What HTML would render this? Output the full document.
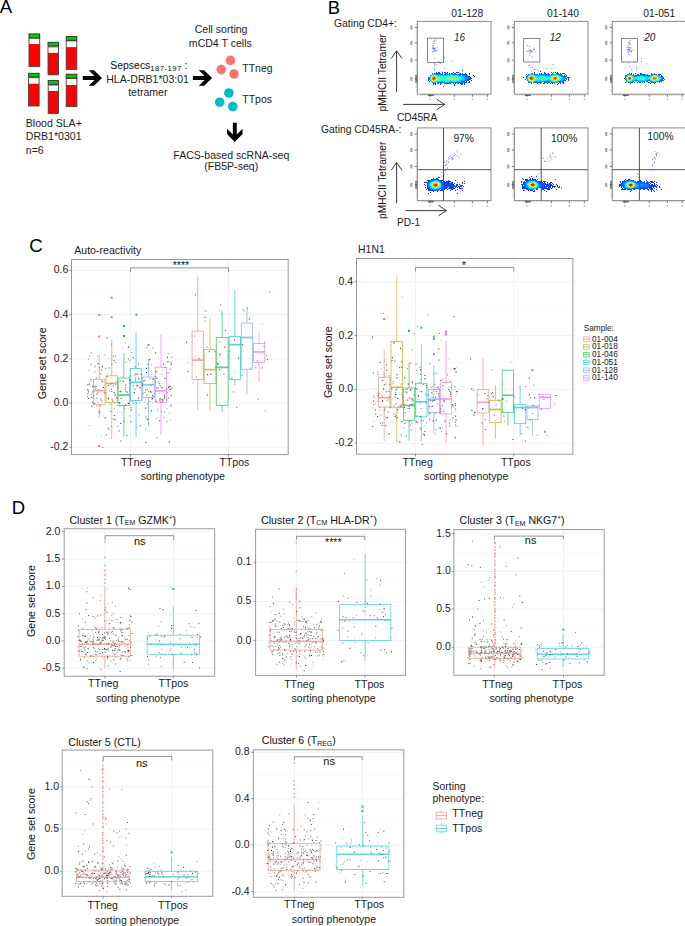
<!DOCTYPE html>
<html><head><meta charset="utf-8"><style>
html,body{margin:0;padding:0;background:#fff;width:685px;height:926px;overflow:hidden}
svg{display:block}
text{font-family:"Liberation Sans",sans-serif}
</style></head><body>
<svg width="685" height="926" viewBox="0 0 685 926" font-family="Liberation Sans, sans-serif">
<rect width="685" height="926" fill="#fff"/>
<text x="-0.30" y="13.00" font-size="18.5" text-anchor="start" fill="#000" >A</text>
<text x="327.80" y="13.90" font-size="18.5" text-anchor="start" fill="#000" >B</text>
<text x="29.30" y="251.80" font-size="18.5" text-anchor="start" fill="#000" >C</text>
<text x="11.80" y="513.60" font-size="18.5" text-anchor="start" fill="#000" >D</text>
<rect x="29.00" y="38.10" width="10.70" height="28.50" fill="#ffffff" stroke="none" stroke-width="1" />
<rect x="29.00" y="44.00" width="10.70" height="22.60" fill="#ff0000" stroke="none" stroke-width="1" />
<rect x="29.00" y="38.10" width="10.70" height="28.50" fill="none" stroke="#404040" stroke-width="0.9" />
<rect x="29.00" y="33.90" width="10.70" height="4.00" fill="#00cc00" stroke="#2a2a2a" stroke-width="0.9" />
<rect x="48.00" y="46.90" width="10.50" height="27.90" fill="#ffffff" stroke="none" stroke-width="1" />
<rect x="48.00" y="52.90" width="10.50" height="21.90" fill="#ff0000" stroke="none" stroke-width="1" />
<rect x="48.00" y="46.90" width="10.50" height="27.90" fill="none" stroke="#404040" stroke-width="0.9" />
<rect x="48.00" y="42.30" width="10.50" height="3.70" fill="#00cc00" stroke="#2a2a2a" stroke-width="0.9" />
<rect x="66.20" y="40.90" width="10.60" height="28.50" fill="#ffffff" stroke="none" stroke-width="1" />
<rect x="66.20" y="47.10" width="10.60" height="22.30" fill="#ff0000" stroke="none" stroke-width="1" />
<rect x="66.20" y="40.90" width="10.60" height="28.50" fill="none" stroke="#404040" stroke-width="0.9" />
<rect x="66.20" y="36.60" width="10.60" height="3.70" fill="#00cc00" stroke="#2a2a2a" stroke-width="0.9" />
<rect x="28.60" y="77.70" width="10.50" height="28.30" fill="#ffffff" stroke="none" stroke-width="1" />
<rect x="28.60" y="83.80" width="10.50" height="22.20" fill="#ff0000" stroke="none" stroke-width="1" />
<rect x="28.60" y="77.70" width="10.50" height="28.30" fill="none" stroke="#404040" stroke-width="0.9" />
<rect x="28.60" y="73.30" width="10.50" height="3.70" fill="#00cc00" stroke="#2a2a2a" stroke-width="0.9" />
<rect x="48.20" y="85.00" width="10.30" height="28.40" fill="#ffffff" stroke="none" stroke-width="1" />
<rect x="48.20" y="91.00" width="10.30" height="22.40" fill="#ff0000" stroke="none" stroke-width="1" />
<rect x="48.20" y="85.00" width="10.30" height="28.40" fill="none" stroke="#404040" stroke-width="0.9" />
<rect x="48.20" y="80.60" width="10.30" height="3.70" fill="#00cc00" stroke="#2a2a2a" stroke-width="0.9" />
<rect x="66.20" y="78.60" width="10.70" height="28.00" fill="#ffffff" stroke="none" stroke-width="1" />
<rect x="66.20" y="85.00" width="10.70" height="21.60" fill="#ff0000" stroke="none" stroke-width="1" />
<rect x="66.20" y="78.60" width="10.70" height="28.00" fill="none" stroke="#404040" stroke-width="0.9" />
<rect x="66.20" y="74.20" width="10.70" height="3.80" fill="#00cc00" stroke="#2a2a2a" stroke-width="0.9" />
<path d="M0.00,-1.95 L11.70,-1.95 L5.90,-7.75 L11.20,-7.75 L19.20,0.00 L11.20,7.75 L5.90,7.75 L11.70,1.95 L0.00,1.95Z" fill="#000" transform="translate(82.8,77.95) rotate(0)"/>
<path d="M0.00,-1.95 L11.70,-1.95 L5.90,-7.75 L11.20,-7.75 L19.20,0.00 L11.20,7.75 L5.90,7.75 L11.70,1.95 L0.00,1.95Z" fill="#000" transform="translate(192.9,77.95) rotate(0)"/>
<path d="M0.00,-1.95 L11.70,-1.95 L5.90,-7.75 L11.20,-7.75 L19.20,0.00 L11.20,7.75 L5.90,7.75 L11.70,1.95 L0.00,1.95Z" fill="#000" transform="translate(234.8,122.8) rotate(90)"/>
<text x="25.80" y="126.90" font-size="10.55" text-anchor="start" fill="#1c1c1c" >Blood SLA+</text>
<text x="25.80" y="140.40" font-size="10.55" text-anchor="start" fill="#1c1c1c" >DRB1*0301</text>
<text x="25.80" y="153.90" font-size="10.55" text-anchor="start" fill="#1c1c1c" >n=6</text>
<text x="110.3" y="68.8" font-size="10.45" fill="#111">Sepsecs<tspan font-size="7.7" dy="2" letter-spacing="0.45">187-197</tspan><tspan dy="-2"> :</tspan></text>
<text x="147.60" y="82.90" font-size="10.55" text-anchor="middle" fill="#1c1c1c" >HLA-DRB1*03:01</text>
<text x="147.80" y="96.20" font-size="10.55" text-anchor="middle" fill="#1c1c1c" >tetramer</text>
<text x="221.10" y="32.90" font-size="10.55" text-anchor="middle" fill="#1c1c1c" >Cell sorting</text>
<text x="220.30" y="47.00" font-size="10.55" text-anchor="middle" fill="#1c1c1c" >mCD4 T cells</text>
<circle cx="230.40" cy="60.40" r="4.80" fill="#F8766D" />
<circle cx="221.20" cy="69.60" r="4.80" fill="#F8766D" />
<circle cx="234.00" cy="74.00" r="4.80" fill="#F8766D" />
<circle cx="228.90" cy="93.00" r="4.80" fill="#00BFC4" />
<circle cx="219.70" cy="102.20" r="4.80" fill="#00BFC4" />
<circle cx="232.80" cy="106.60" r="4.80" fill="#00BFC4" />
<text x="242.30" y="72.10" font-size="10.5" text-anchor="start" fill="#1c1c1c" >TTneg</text>
<text x="242.30" y="102.90" font-size="10.5" text-anchor="start" fill="#1c1c1c" >TTpos</text>
<text x="231.30" y="158.50" font-size="10.55" text-anchor="middle" fill="#1c1c1c" >FACS-based scRNA-seq</text>
<text x="231.20" y="170.20" font-size="10.55" text-anchor="middle" fill="#1c1c1c" >(FB5P-seq)</text>
<line x1="415.80" y1="24.40" x2="417.40" y2="24.40" stroke="#999" stroke-width="0.5" />
<line x1="415.80" y1="26.31" x2="417.40" y2="26.31" stroke="#999" stroke-width="0.5" />
<line x1="415.80" y1="28.22" x2="417.40" y2="28.22" stroke="#999" stroke-width="0.5" />
<line x1="415.80" y1="30.13" x2="417.40" y2="30.13" stroke="#999" stroke-width="0.5" />
<line x1="415.80" y1="32.03" x2="417.40" y2="32.03" stroke="#999" stroke-width="0.5" />
<line x1="415.80" y1="33.94" x2="417.40" y2="33.94" stroke="#999" stroke-width="0.5" />
<line x1="415.80" y1="35.85" x2="417.40" y2="35.85" stroke="#999" stroke-width="0.5" />
<line x1="415.80" y1="37.76" x2="417.40" y2="37.76" stroke="#999" stroke-width="0.5" />
<line x1="415.80" y1="39.67" x2="417.40" y2="39.67" stroke="#999" stroke-width="0.5" />
<line x1="415.80" y1="41.58" x2="417.40" y2="41.58" stroke="#999" stroke-width="0.5" />
<line x1="415.80" y1="43.49" x2="417.40" y2="43.49" stroke="#999" stroke-width="0.5" />
<line x1="415.80" y1="45.39" x2="417.40" y2="45.39" stroke="#999" stroke-width="0.5" />
<line x1="415.80" y1="47.30" x2="417.40" y2="47.30" stroke="#999" stroke-width="0.5" />
<line x1="415.80" y1="49.21" x2="417.40" y2="49.21" stroke="#999" stroke-width="0.5" />
<line x1="415.80" y1="51.12" x2="417.40" y2="51.12" stroke="#999" stroke-width="0.5" />
<line x1="415.80" y1="53.03" x2="417.40" y2="53.03" stroke="#999" stroke-width="0.5" />
<line x1="415.80" y1="54.94" x2="417.40" y2="54.94" stroke="#999" stroke-width="0.5" />
<line x1="415.80" y1="56.85" x2="417.40" y2="56.85" stroke="#999" stroke-width="0.5" />
<line x1="415.80" y1="58.75" x2="417.40" y2="58.75" stroke="#999" stroke-width="0.5" />
<line x1="415.80" y1="60.66" x2="417.40" y2="60.66" stroke="#999" stroke-width="0.5" />
<line x1="415.80" y1="62.57" x2="417.40" y2="62.57" stroke="#999" stroke-width="0.5" />
<line x1="415.80" y1="64.48" x2="417.40" y2="64.48" stroke="#999" stroke-width="0.5" />
<line x1="415.80" y1="66.39" x2="417.40" y2="66.39" stroke="#999" stroke-width="0.5" />
<line x1="415.80" y1="68.30" x2="417.40" y2="68.30" stroke="#999" stroke-width="0.5" />
<line x1="415.80" y1="70.21" x2="417.40" y2="70.21" stroke="#999" stroke-width="0.5" />
<line x1="415.80" y1="72.11" x2="417.40" y2="72.11" stroke="#999" stroke-width="0.5" />
<line x1="415.80" y1="74.02" x2="417.40" y2="74.02" stroke="#999" stroke-width="0.5" />
<line x1="415.80" y1="75.93" x2="417.40" y2="75.93" stroke="#999" stroke-width="0.5" />
<line x1="415.80" y1="77.84" x2="417.40" y2="77.84" stroke="#999" stroke-width="0.5" />
<line x1="415.80" y1="79.75" x2="417.40" y2="79.75" stroke="#999" stroke-width="0.5" />
<line x1="415.80" y1="81.66" x2="417.40" y2="81.66" stroke="#999" stroke-width="0.5" />
<line x1="415.80" y1="83.57" x2="417.40" y2="83.57" stroke="#999" stroke-width="0.5" />
<line x1="415.80" y1="85.47" x2="417.40" y2="85.47" stroke="#999" stroke-width="0.5" />
<line x1="415.80" y1="87.38" x2="417.40" y2="87.38" stroke="#999" stroke-width="0.5" />
<line x1="415.80" y1="89.29" x2="417.40" y2="89.29" stroke="#999" stroke-width="0.5" />
<line x1="415.80" y1="91.20" x2="417.40" y2="91.20" stroke="#999" stroke-width="0.5" />
<line x1="414.60" y1="27.50" x2="417.40" y2="27.50" stroke="#555" stroke-width="0.7" />
<rect x="410.1" y="25.5" width="2.4" height="4" fill="#aaa"/>
<line x1="414.60" y1="42.80" x2="417.40" y2="42.80" stroke="#555" stroke-width="0.7" />
<rect x="410.1" y="40.8" width="2.4" height="4" fill="#aaa"/>
<line x1="414.60" y1="60.20" x2="417.40" y2="60.20" stroke="#555" stroke-width="0.7" />
<rect x="410.1" y="58.2" width="2.4" height="4" fill="#aaa"/>
<line x1="414.60" y1="78.80" x2="417.40" y2="78.80" stroke="#555" stroke-width="0.7" />
<rect x="410.1" y="76.8" width="2.4" height="4" fill="#aaa"/>
<line x1="420.40" y1="94.20" x2="420.40" y2="95.80" stroke="#999" stroke-width="0.5" />
<line x1="422.33" y1="94.20" x2="422.33" y2="95.80" stroke="#999" stroke-width="0.5" />
<line x1="424.26" y1="94.20" x2="424.26" y2="95.80" stroke="#999" stroke-width="0.5" />
<line x1="426.19" y1="94.20" x2="426.19" y2="95.80" stroke="#999" stroke-width="0.5" />
<line x1="428.13" y1="94.20" x2="428.13" y2="95.80" stroke="#999" stroke-width="0.5" />
<line x1="430.06" y1="94.20" x2="430.06" y2="95.80" stroke="#999" stroke-width="0.5" />
<line x1="431.99" y1="94.20" x2="431.99" y2="95.80" stroke="#999" stroke-width="0.5" />
<line x1="433.92" y1="94.20" x2="433.92" y2="95.80" stroke="#999" stroke-width="0.5" />
<line x1="435.85" y1="94.20" x2="435.85" y2="95.80" stroke="#999" stroke-width="0.5" />
<line x1="437.78" y1="94.20" x2="437.78" y2="95.80" stroke="#999" stroke-width="0.5" />
<line x1="439.71" y1="94.20" x2="439.71" y2="95.80" stroke="#999" stroke-width="0.5" />
<line x1="441.65" y1="94.20" x2="441.65" y2="95.80" stroke="#999" stroke-width="0.5" />
<line x1="443.58" y1="94.20" x2="443.58" y2="95.80" stroke="#999" stroke-width="0.5" />
<line x1="445.51" y1="94.20" x2="445.51" y2="95.80" stroke="#999" stroke-width="0.5" />
<line x1="447.44" y1="94.20" x2="447.44" y2="95.80" stroke="#999" stroke-width="0.5" />
<line x1="449.37" y1="94.20" x2="449.37" y2="95.80" stroke="#999" stroke-width="0.5" />
<line x1="451.30" y1="94.20" x2="451.30" y2="95.80" stroke="#999" stroke-width="0.5" />
<line x1="453.23" y1="94.20" x2="453.23" y2="95.80" stroke="#999" stroke-width="0.5" />
<line x1="455.17" y1="94.20" x2="455.17" y2="95.80" stroke="#999" stroke-width="0.5" />
<line x1="457.10" y1="94.20" x2="457.10" y2="95.80" stroke="#999" stroke-width="0.5" />
<line x1="459.03" y1="94.20" x2="459.03" y2="95.80" stroke="#999" stroke-width="0.5" />
<line x1="460.96" y1="94.20" x2="460.96" y2="95.80" stroke="#999" stroke-width="0.5" />
<line x1="462.89" y1="94.20" x2="462.89" y2="95.80" stroke="#999" stroke-width="0.5" />
<line x1="464.82" y1="94.20" x2="464.82" y2="95.80" stroke="#999" stroke-width="0.5" />
<line x1="466.75" y1="94.20" x2="466.75" y2="95.80" stroke="#999" stroke-width="0.5" />
<line x1="468.69" y1="94.20" x2="468.69" y2="95.80" stroke="#999" stroke-width="0.5" />
<line x1="470.62" y1="94.20" x2="470.62" y2="95.80" stroke="#999" stroke-width="0.5" />
<line x1="472.55" y1="94.20" x2="472.55" y2="95.80" stroke="#999" stroke-width="0.5" />
<line x1="474.48" y1="94.20" x2="474.48" y2="95.80" stroke="#999" stroke-width="0.5" />
<line x1="476.41" y1="94.20" x2="476.41" y2="95.80" stroke="#999" stroke-width="0.5" />
<line x1="478.34" y1="94.20" x2="478.34" y2="95.80" stroke="#999" stroke-width="0.5" />
<line x1="480.27" y1="94.20" x2="480.27" y2="95.80" stroke="#999" stroke-width="0.5" />
<line x1="482.21" y1="94.20" x2="482.21" y2="95.80" stroke="#999" stroke-width="0.5" />
<line x1="484.14" y1="94.20" x2="484.14" y2="95.80" stroke="#999" stroke-width="0.5" />
<line x1="486.07" y1="94.20" x2="486.07" y2="95.80" stroke="#999" stroke-width="0.5" />
<line x1="488.00" y1="94.20" x2="488.00" y2="95.80" stroke="#999" stroke-width="0.5" />
<line x1="429.90" y1="94.20" x2="429.90" y2="97.00" stroke="#555" stroke-width="0.7" />
<rect x="429.1" y="98.7" width="1.6" height="1.5" fill="#bbb"/>
<line x1="454.40" y1="94.20" x2="454.40" y2="97.00" stroke="#555" stroke-width="0.7" />
<rect x="453.6" y="98.7" width="1.6" height="1.5" fill="#bbb"/>
<line x1="472.40" y1="94.20" x2="472.40" y2="97.00" stroke="#555" stroke-width="0.7" />
<rect x="471.6" y="98.7" width="1.6" height="1.5" fill="#bbb"/>
<line x1="487.40" y1="94.20" x2="487.40" y2="97.00" stroke="#555" stroke-width="0.7" />
<rect x="486.6" y="98.7" width="1.6" height="1.5" fill="#bbb"/>
<rect x="427.9" y="94.2" width="6" height="1.8" fill="#333" fill-opacity="0.7"/>
<rect x="415.2" y="74.8" width="1.8" height="8" fill="#333" fill-opacity="0.6"/>
<line x1="415.80" y1="130.90" x2="417.40" y2="130.90" stroke="#999" stroke-width="0.5" />
<line x1="415.80" y1="132.81" x2="417.40" y2="132.81" stroke="#999" stroke-width="0.5" />
<line x1="415.80" y1="134.71" x2="417.40" y2="134.71" stroke="#999" stroke-width="0.5" />
<line x1="415.80" y1="136.62" x2="417.40" y2="136.62" stroke="#999" stroke-width="0.5" />
<line x1="415.80" y1="138.52" x2="417.40" y2="138.52" stroke="#999" stroke-width="0.5" />
<line x1="415.80" y1="140.43" x2="417.40" y2="140.43" stroke="#999" stroke-width="0.5" />
<line x1="415.80" y1="142.33" x2="417.40" y2="142.33" stroke="#999" stroke-width="0.5" />
<line x1="415.80" y1="144.24" x2="417.40" y2="144.24" stroke="#999" stroke-width="0.5" />
<line x1="415.80" y1="146.15" x2="417.40" y2="146.15" stroke="#999" stroke-width="0.5" />
<line x1="415.80" y1="148.05" x2="417.40" y2="148.05" stroke="#999" stroke-width="0.5" />
<line x1="415.80" y1="149.96" x2="417.40" y2="149.96" stroke="#999" stroke-width="0.5" />
<line x1="415.80" y1="151.86" x2="417.40" y2="151.86" stroke="#999" stroke-width="0.5" />
<line x1="415.80" y1="153.77" x2="417.40" y2="153.77" stroke="#999" stroke-width="0.5" />
<line x1="415.80" y1="155.67" x2="417.40" y2="155.67" stroke="#999" stroke-width="0.5" />
<line x1="415.80" y1="157.58" x2="417.40" y2="157.58" stroke="#999" stroke-width="0.5" />
<line x1="415.80" y1="159.49" x2="417.40" y2="159.49" stroke="#999" stroke-width="0.5" />
<line x1="415.80" y1="161.39" x2="417.40" y2="161.39" stroke="#999" stroke-width="0.5" />
<line x1="415.80" y1="163.30" x2="417.40" y2="163.30" stroke="#999" stroke-width="0.5" />
<line x1="415.80" y1="165.20" x2="417.40" y2="165.20" stroke="#999" stroke-width="0.5" />
<line x1="415.80" y1="167.11" x2="417.40" y2="167.11" stroke="#999" stroke-width="0.5" />
<line x1="415.80" y1="169.01" x2="417.40" y2="169.01" stroke="#999" stroke-width="0.5" />
<line x1="415.80" y1="170.92" x2="417.40" y2="170.92" stroke="#999" stroke-width="0.5" />
<line x1="415.80" y1="172.83" x2="417.40" y2="172.83" stroke="#999" stroke-width="0.5" />
<line x1="415.80" y1="174.73" x2="417.40" y2="174.73" stroke="#999" stroke-width="0.5" />
<line x1="415.80" y1="176.64" x2="417.40" y2="176.64" stroke="#999" stroke-width="0.5" />
<line x1="415.80" y1="178.54" x2="417.40" y2="178.54" stroke="#999" stroke-width="0.5" />
<line x1="415.80" y1="180.45" x2="417.40" y2="180.45" stroke="#999" stroke-width="0.5" />
<line x1="415.80" y1="182.35" x2="417.40" y2="182.35" stroke="#999" stroke-width="0.5" />
<line x1="415.80" y1="184.26" x2="417.40" y2="184.26" stroke="#999" stroke-width="0.5" />
<line x1="415.80" y1="186.17" x2="417.40" y2="186.17" stroke="#999" stroke-width="0.5" />
<line x1="415.80" y1="188.07" x2="417.40" y2="188.07" stroke="#999" stroke-width="0.5" />
<line x1="415.80" y1="189.98" x2="417.40" y2="189.98" stroke="#999" stroke-width="0.5" />
<line x1="415.80" y1="191.88" x2="417.40" y2="191.88" stroke="#999" stroke-width="0.5" />
<line x1="415.80" y1="193.79" x2="417.40" y2="193.79" stroke="#999" stroke-width="0.5" />
<line x1="415.80" y1="195.69" x2="417.40" y2="195.69" stroke="#999" stroke-width="0.5" />
<line x1="415.80" y1="197.60" x2="417.40" y2="197.60" stroke="#999" stroke-width="0.5" />
<line x1="414.60" y1="134.00" x2="417.40" y2="134.00" stroke="#555" stroke-width="0.7" />
<rect x="410.1" y="132.0" width="2.4" height="4" fill="#aaa"/>
<line x1="414.60" y1="150.00" x2="417.40" y2="150.00" stroke="#555" stroke-width="0.7" />
<rect x="410.1" y="148.0" width="2.4" height="4" fill="#aaa"/>
<line x1="414.60" y1="166.50" x2="417.40" y2="166.50" stroke="#555" stroke-width="0.7" />
<rect x="410.1" y="164.5" width="2.4" height="4" fill="#aaa"/>
<line x1="414.60" y1="184.90" x2="417.40" y2="184.90" stroke="#555" stroke-width="0.7" />
<rect x="410.1" y="182.9" width="2.4" height="4" fill="#aaa"/>
<line x1="420.40" y1="200.60" x2="420.40" y2="202.20" stroke="#999" stroke-width="0.5" />
<line x1="422.33" y1="200.60" x2="422.33" y2="202.20" stroke="#999" stroke-width="0.5" />
<line x1="424.26" y1="200.60" x2="424.26" y2="202.20" stroke="#999" stroke-width="0.5" />
<line x1="426.19" y1="200.60" x2="426.19" y2="202.20" stroke="#999" stroke-width="0.5" />
<line x1="428.13" y1="200.60" x2="428.13" y2="202.20" stroke="#999" stroke-width="0.5" />
<line x1="430.06" y1="200.60" x2="430.06" y2="202.20" stroke="#999" stroke-width="0.5" />
<line x1="431.99" y1="200.60" x2="431.99" y2="202.20" stroke="#999" stroke-width="0.5" />
<line x1="433.92" y1="200.60" x2="433.92" y2="202.20" stroke="#999" stroke-width="0.5" />
<line x1="435.85" y1="200.60" x2="435.85" y2="202.20" stroke="#999" stroke-width="0.5" />
<line x1="437.78" y1="200.60" x2="437.78" y2="202.20" stroke="#999" stroke-width="0.5" />
<line x1="439.71" y1="200.60" x2="439.71" y2="202.20" stroke="#999" stroke-width="0.5" />
<line x1="441.65" y1="200.60" x2="441.65" y2="202.20" stroke="#999" stroke-width="0.5" />
<line x1="443.58" y1="200.60" x2="443.58" y2="202.20" stroke="#999" stroke-width="0.5" />
<line x1="445.51" y1="200.60" x2="445.51" y2="202.20" stroke="#999" stroke-width="0.5" />
<line x1="447.44" y1="200.60" x2="447.44" y2="202.20" stroke="#999" stroke-width="0.5" />
<line x1="449.37" y1="200.60" x2="449.37" y2="202.20" stroke="#999" stroke-width="0.5" />
<line x1="451.30" y1="200.60" x2="451.30" y2="202.20" stroke="#999" stroke-width="0.5" />
<line x1="453.23" y1="200.60" x2="453.23" y2="202.20" stroke="#999" stroke-width="0.5" />
<line x1="455.17" y1="200.60" x2="455.17" y2="202.20" stroke="#999" stroke-width="0.5" />
<line x1="457.10" y1="200.60" x2="457.10" y2="202.20" stroke="#999" stroke-width="0.5" />
<line x1="459.03" y1="200.60" x2="459.03" y2="202.20" stroke="#999" stroke-width="0.5" />
<line x1="460.96" y1="200.60" x2="460.96" y2="202.20" stroke="#999" stroke-width="0.5" />
<line x1="462.89" y1="200.60" x2="462.89" y2="202.20" stroke="#999" stroke-width="0.5" />
<line x1="464.82" y1="200.60" x2="464.82" y2="202.20" stroke="#999" stroke-width="0.5" />
<line x1="466.75" y1="200.60" x2="466.75" y2="202.20" stroke="#999" stroke-width="0.5" />
<line x1="468.69" y1="200.60" x2="468.69" y2="202.20" stroke="#999" stroke-width="0.5" />
<line x1="470.62" y1="200.60" x2="470.62" y2="202.20" stroke="#999" stroke-width="0.5" />
<line x1="472.55" y1="200.60" x2="472.55" y2="202.20" stroke="#999" stroke-width="0.5" />
<line x1="474.48" y1="200.60" x2="474.48" y2="202.20" stroke="#999" stroke-width="0.5" />
<line x1="476.41" y1="200.60" x2="476.41" y2="202.20" stroke="#999" stroke-width="0.5" />
<line x1="478.34" y1="200.60" x2="478.34" y2="202.20" stroke="#999" stroke-width="0.5" />
<line x1="480.27" y1="200.60" x2="480.27" y2="202.20" stroke="#999" stroke-width="0.5" />
<line x1="482.21" y1="200.60" x2="482.21" y2="202.20" stroke="#999" stroke-width="0.5" />
<line x1="484.14" y1="200.60" x2="484.14" y2="202.20" stroke="#999" stroke-width="0.5" />
<line x1="486.07" y1="200.60" x2="486.07" y2="202.20" stroke="#999" stroke-width="0.5" />
<line x1="488.00" y1="200.60" x2="488.00" y2="202.20" stroke="#999" stroke-width="0.5" />
<line x1="429.90" y1="200.60" x2="429.90" y2="203.40" stroke="#555" stroke-width="0.7" />
<rect x="429.1" y="205.1" width="1.6" height="1.5" fill="#bbb"/>
<line x1="454.40" y1="200.60" x2="454.40" y2="203.40" stroke="#555" stroke-width="0.7" />
<rect x="453.6" y="205.1" width="1.6" height="1.5" fill="#bbb"/>
<line x1="472.40" y1="200.60" x2="472.40" y2="203.40" stroke="#555" stroke-width="0.7" />
<rect x="471.6" y="205.1" width="1.6" height="1.5" fill="#bbb"/>
<line x1="487.40" y1="200.60" x2="487.40" y2="203.40" stroke="#555" stroke-width="0.7" />
<rect x="486.6" y="205.1" width="1.6" height="1.5" fill="#bbb"/>
<rect x="427.9" y="200.6" width="6" height="1.8" fill="#333" fill-opacity="0.7"/>
<rect x="415.2" y="180.9" width="1.8" height="8" fill="#333" fill-opacity="0.6"/>
<line x1="512.80" y1="24.40" x2="514.40" y2="24.40" stroke="#999" stroke-width="0.5" />
<line x1="512.80" y1="26.31" x2="514.40" y2="26.31" stroke="#999" stroke-width="0.5" />
<line x1="512.80" y1="28.22" x2="514.40" y2="28.22" stroke="#999" stroke-width="0.5" />
<line x1="512.80" y1="30.13" x2="514.40" y2="30.13" stroke="#999" stroke-width="0.5" />
<line x1="512.80" y1="32.03" x2="514.40" y2="32.03" stroke="#999" stroke-width="0.5" />
<line x1="512.80" y1="33.94" x2="514.40" y2="33.94" stroke="#999" stroke-width="0.5" />
<line x1="512.80" y1="35.85" x2="514.40" y2="35.85" stroke="#999" stroke-width="0.5" />
<line x1="512.80" y1="37.76" x2="514.40" y2="37.76" stroke="#999" stroke-width="0.5" />
<line x1="512.80" y1="39.67" x2="514.40" y2="39.67" stroke="#999" stroke-width="0.5" />
<line x1="512.80" y1="41.58" x2="514.40" y2="41.58" stroke="#999" stroke-width="0.5" />
<line x1="512.80" y1="43.49" x2="514.40" y2="43.49" stroke="#999" stroke-width="0.5" />
<line x1="512.80" y1="45.39" x2="514.40" y2="45.39" stroke="#999" stroke-width="0.5" />
<line x1="512.80" y1="47.30" x2="514.40" y2="47.30" stroke="#999" stroke-width="0.5" />
<line x1="512.80" y1="49.21" x2="514.40" y2="49.21" stroke="#999" stroke-width="0.5" />
<line x1="512.80" y1="51.12" x2="514.40" y2="51.12" stroke="#999" stroke-width="0.5" />
<line x1="512.80" y1="53.03" x2="514.40" y2="53.03" stroke="#999" stroke-width="0.5" />
<line x1="512.80" y1="54.94" x2="514.40" y2="54.94" stroke="#999" stroke-width="0.5" />
<line x1="512.80" y1="56.85" x2="514.40" y2="56.85" stroke="#999" stroke-width="0.5" />
<line x1="512.80" y1="58.75" x2="514.40" y2="58.75" stroke="#999" stroke-width="0.5" />
<line x1="512.80" y1="60.66" x2="514.40" y2="60.66" stroke="#999" stroke-width="0.5" />
<line x1="512.80" y1="62.57" x2="514.40" y2="62.57" stroke="#999" stroke-width="0.5" />
<line x1="512.80" y1="64.48" x2="514.40" y2="64.48" stroke="#999" stroke-width="0.5" />
<line x1="512.80" y1="66.39" x2="514.40" y2="66.39" stroke="#999" stroke-width="0.5" />
<line x1="512.80" y1="68.30" x2="514.40" y2="68.30" stroke="#999" stroke-width="0.5" />
<line x1="512.80" y1="70.21" x2="514.40" y2="70.21" stroke="#999" stroke-width="0.5" />
<line x1="512.80" y1="72.11" x2="514.40" y2="72.11" stroke="#999" stroke-width="0.5" />
<line x1="512.80" y1="74.02" x2="514.40" y2="74.02" stroke="#999" stroke-width="0.5" />
<line x1="512.80" y1="75.93" x2="514.40" y2="75.93" stroke="#999" stroke-width="0.5" />
<line x1="512.80" y1="77.84" x2="514.40" y2="77.84" stroke="#999" stroke-width="0.5" />
<line x1="512.80" y1="79.75" x2="514.40" y2="79.75" stroke="#999" stroke-width="0.5" />
<line x1="512.80" y1="81.66" x2="514.40" y2="81.66" stroke="#999" stroke-width="0.5" />
<line x1="512.80" y1="83.57" x2="514.40" y2="83.57" stroke="#999" stroke-width="0.5" />
<line x1="512.80" y1="85.47" x2="514.40" y2="85.47" stroke="#999" stroke-width="0.5" />
<line x1="512.80" y1="87.38" x2="514.40" y2="87.38" stroke="#999" stroke-width="0.5" />
<line x1="512.80" y1="89.29" x2="514.40" y2="89.29" stroke="#999" stroke-width="0.5" />
<line x1="512.80" y1="91.20" x2="514.40" y2="91.20" stroke="#999" stroke-width="0.5" />
<line x1="511.60" y1="27.50" x2="514.40" y2="27.50" stroke="#555" stroke-width="0.7" />
<rect x="507.1" y="25.5" width="2.4" height="4" fill="#aaa"/>
<line x1="511.60" y1="42.80" x2="514.40" y2="42.80" stroke="#555" stroke-width="0.7" />
<rect x="507.1" y="40.8" width="2.4" height="4" fill="#aaa"/>
<line x1="511.60" y1="60.20" x2="514.40" y2="60.20" stroke="#555" stroke-width="0.7" />
<rect x="507.1" y="58.2" width="2.4" height="4" fill="#aaa"/>
<line x1="511.60" y1="78.80" x2="514.40" y2="78.80" stroke="#555" stroke-width="0.7" />
<rect x="507.1" y="76.8" width="2.4" height="4" fill="#aaa"/>
<line x1="517.40" y1="94.20" x2="517.40" y2="95.80" stroke="#999" stroke-width="0.5" />
<line x1="519.33" y1="94.20" x2="519.33" y2="95.80" stroke="#999" stroke-width="0.5" />
<line x1="521.26" y1="94.20" x2="521.26" y2="95.80" stroke="#999" stroke-width="0.5" />
<line x1="523.19" y1="94.20" x2="523.19" y2="95.80" stroke="#999" stroke-width="0.5" />
<line x1="525.13" y1="94.20" x2="525.13" y2="95.80" stroke="#999" stroke-width="0.5" />
<line x1="527.06" y1="94.20" x2="527.06" y2="95.80" stroke="#999" stroke-width="0.5" />
<line x1="528.99" y1="94.20" x2="528.99" y2="95.80" stroke="#999" stroke-width="0.5" />
<line x1="530.92" y1="94.20" x2="530.92" y2="95.80" stroke="#999" stroke-width="0.5" />
<line x1="532.85" y1="94.20" x2="532.85" y2="95.80" stroke="#999" stroke-width="0.5" />
<line x1="534.78" y1="94.20" x2="534.78" y2="95.80" stroke="#999" stroke-width="0.5" />
<line x1="536.71" y1="94.20" x2="536.71" y2="95.80" stroke="#999" stroke-width="0.5" />
<line x1="538.65" y1="94.20" x2="538.65" y2="95.80" stroke="#999" stroke-width="0.5" />
<line x1="540.58" y1="94.20" x2="540.58" y2="95.80" stroke="#999" stroke-width="0.5" />
<line x1="542.51" y1="94.20" x2="542.51" y2="95.80" stroke="#999" stroke-width="0.5" />
<line x1="544.44" y1="94.20" x2="544.44" y2="95.80" stroke="#999" stroke-width="0.5" />
<line x1="546.37" y1="94.20" x2="546.37" y2="95.80" stroke="#999" stroke-width="0.5" />
<line x1="548.30" y1="94.20" x2="548.30" y2="95.80" stroke="#999" stroke-width="0.5" />
<line x1="550.23" y1="94.20" x2="550.23" y2="95.80" stroke="#999" stroke-width="0.5" />
<line x1="552.17" y1="94.20" x2="552.17" y2="95.80" stroke="#999" stroke-width="0.5" />
<line x1="554.10" y1="94.20" x2="554.10" y2="95.80" stroke="#999" stroke-width="0.5" />
<line x1="556.03" y1="94.20" x2="556.03" y2="95.80" stroke="#999" stroke-width="0.5" />
<line x1="557.96" y1="94.20" x2="557.96" y2="95.80" stroke="#999" stroke-width="0.5" />
<line x1="559.89" y1="94.20" x2="559.89" y2="95.80" stroke="#999" stroke-width="0.5" />
<line x1="561.82" y1="94.20" x2="561.82" y2="95.80" stroke="#999" stroke-width="0.5" />
<line x1="563.75" y1="94.20" x2="563.75" y2="95.80" stroke="#999" stroke-width="0.5" />
<line x1="565.69" y1="94.20" x2="565.69" y2="95.80" stroke="#999" stroke-width="0.5" />
<line x1="567.62" y1="94.20" x2="567.62" y2="95.80" stroke="#999" stroke-width="0.5" />
<line x1="569.55" y1="94.20" x2="569.55" y2="95.80" stroke="#999" stroke-width="0.5" />
<line x1="571.48" y1="94.20" x2="571.48" y2="95.80" stroke="#999" stroke-width="0.5" />
<line x1="573.41" y1="94.20" x2="573.41" y2="95.80" stroke="#999" stroke-width="0.5" />
<line x1="575.34" y1="94.20" x2="575.34" y2="95.80" stroke="#999" stroke-width="0.5" />
<line x1="577.27" y1="94.20" x2="577.27" y2="95.80" stroke="#999" stroke-width="0.5" />
<line x1="579.21" y1="94.20" x2="579.21" y2="95.80" stroke="#999" stroke-width="0.5" />
<line x1="581.14" y1="94.20" x2="581.14" y2="95.80" stroke="#999" stroke-width="0.5" />
<line x1="583.07" y1="94.20" x2="583.07" y2="95.80" stroke="#999" stroke-width="0.5" />
<line x1="585.00" y1="94.20" x2="585.00" y2="95.80" stroke="#999" stroke-width="0.5" />
<line x1="526.90" y1="94.20" x2="526.90" y2="97.00" stroke="#555" stroke-width="0.7" />
<rect x="526.1" y="98.7" width="1.6" height="1.5" fill="#bbb"/>
<line x1="551.40" y1="94.20" x2="551.40" y2="97.00" stroke="#555" stroke-width="0.7" />
<rect x="550.6" y="98.7" width="1.6" height="1.5" fill="#bbb"/>
<line x1="569.40" y1="94.20" x2="569.40" y2="97.00" stroke="#555" stroke-width="0.7" />
<rect x="568.6" y="98.7" width="1.6" height="1.5" fill="#bbb"/>
<line x1="584.40" y1="94.20" x2="584.40" y2="97.00" stroke="#555" stroke-width="0.7" />
<rect x="583.6" y="98.7" width="1.6" height="1.5" fill="#bbb"/>
<rect x="524.9" y="94.2" width="6" height="1.8" fill="#333" fill-opacity="0.7"/>
<rect x="512.2" y="74.8" width="1.8" height="8" fill="#333" fill-opacity="0.6"/>
<line x1="512.80" y1="130.90" x2="514.40" y2="130.90" stroke="#999" stroke-width="0.5" />
<line x1="512.80" y1="132.81" x2="514.40" y2="132.81" stroke="#999" stroke-width="0.5" />
<line x1="512.80" y1="134.71" x2="514.40" y2="134.71" stroke="#999" stroke-width="0.5" />
<line x1="512.80" y1="136.62" x2="514.40" y2="136.62" stroke="#999" stroke-width="0.5" />
<line x1="512.80" y1="138.52" x2="514.40" y2="138.52" stroke="#999" stroke-width="0.5" />
<line x1="512.80" y1="140.43" x2="514.40" y2="140.43" stroke="#999" stroke-width="0.5" />
<line x1="512.80" y1="142.33" x2="514.40" y2="142.33" stroke="#999" stroke-width="0.5" />
<line x1="512.80" y1="144.24" x2="514.40" y2="144.24" stroke="#999" stroke-width="0.5" />
<line x1="512.80" y1="146.15" x2="514.40" y2="146.15" stroke="#999" stroke-width="0.5" />
<line x1="512.80" y1="148.05" x2="514.40" y2="148.05" stroke="#999" stroke-width="0.5" />
<line x1="512.80" y1="149.96" x2="514.40" y2="149.96" stroke="#999" stroke-width="0.5" />
<line x1="512.80" y1="151.86" x2="514.40" y2="151.86" stroke="#999" stroke-width="0.5" />
<line x1="512.80" y1="153.77" x2="514.40" y2="153.77" stroke="#999" stroke-width="0.5" />
<line x1="512.80" y1="155.67" x2="514.40" y2="155.67" stroke="#999" stroke-width="0.5" />
<line x1="512.80" y1="157.58" x2="514.40" y2="157.58" stroke="#999" stroke-width="0.5" />
<line x1="512.80" y1="159.49" x2="514.40" y2="159.49" stroke="#999" stroke-width="0.5" />
<line x1="512.80" y1="161.39" x2="514.40" y2="161.39" stroke="#999" stroke-width="0.5" />
<line x1="512.80" y1="163.30" x2="514.40" y2="163.30" stroke="#999" stroke-width="0.5" />
<line x1="512.80" y1="165.20" x2="514.40" y2="165.20" stroke="#999" stroke-width="0.5" />
<line x1="512.80" y1="167.11" x2="514.40" y2="167.11" stroke="#999" stroke-width="0.5" />
<line x1="512.80" y1="169.01" x2="514.40" y2="169.01" stroke="#999" stroke-width="0.5" />
<line x1="512.80" y1="170.92" x2="514.40" y2="170.92" stroke="#999" stroke-width="0.5" />
<line x1="512.80" y1="172.83" x2="514.40" y2="172.83" stroke="#999" stroke-width="0.5" />
<line x1="512.80" y1="174.73" x2="514.40" y2="174.73" stroke="#999" stroke-width="0.5" />
<line x1="512.80" y1="176.64" x2="514.40" y2="176.64" stroke="#999" stroke-width="0.5" />
<line x1="512.80" y1="178.54" x2="514.40" y2="178.54" stroke="#999" stroke-width="0.5" />
<line x1="512.80" y1="180.45" x2="514.40" y2="180.45" stroke="#999" stroke-width="0.5" />
<line x1="512.80" y1="182.35" x2="514.40" y2="182.35" stroke="#999" stroke-width="0.5" />
<line x1="512.80" y1="184.26" x2="514.40" y2="184.26" stroke="#999" stroke-width="0.5" />
<line x1="512.80" y1="186.17" x2="514.40" y2="186.17" stroke="#999" stroke-width="0.5" />
<line x1="512.80" y1="188.07" x2="514.40" y2="188.07" stroke="#999" stroke-width="0.5" />
<line x1="512.80" y1="189.98" x2="514.40" y2="189.98" stroke="#999" stroke-width="0.5" />
<line x1="512.80" y1="191.88" x2="514.40" y2="191.88" stroke="#999" stroke-width="0.5" />
<line x1="512.80" y1="193.79" x2="514.40" y2="193.79" stroke="#999" stroke-width="0.5" />
<line x1="512.80" y1="195.69" x2="514.40" y2="195.69" stroke="#999" stroke-width="0.5" />
<line x1="512.80" y1="197.60" x2="514.40" y2="197.60" stroke="#999" stroke-width="0.5" />
<line x1="511.60" y1="134.00" x2="514.40" y2="134.00" stroke="#555" stroke-width="0.7" />
<rect x="507.1" y="132.0" width="2.4" height="4" fill="#aaa"/>
<line x1="511.60" y1="150.00" x2="514.40" y2="150.00" stroke="#555" stroke-width="0.7" />
<rect x="507.1" y="148.0" width="2.4" height="4" fill="#aaa"/>
<line x1="511.60" y1="166.50" x2="514.40" y2="166.50" stroke="#555" stroke-width="0.7" />
<rect x="507.1" y="164.5" width="2.4" height="4" fill="#aaa"/>
<line x1="511.60" y1="184.90" x2="514.40" y2="184.90" stroke="#555" stroke-width="0.7" />
<rect x="507.1" y="182.9" width="2.4" height="4" fill="#aaa"/>
<line x1="517.40" y1="200.60" x2="517.40" y2="202.20" stroke="#999" stroke-width="0.5" />
<line x1="519.33" y1="200.60" x2="519.33" y2="202.20" stroke="#999" stroke-width="0.5" />
<line x1="521.26" y1="200.60" x2="521.26" y2="202.20" stroke="#999" stroke-width="0.5" />
<line x1="523.19" y1="200.60" x2="523.19" y2="202.20" stroke="#999" stroke-width="0.5" />
<line x1="525.13" y1="200.60" x2="525.13" y2="202.20" stroke="#999" stroke-width="0.5" />
<line x1="527.06" y1="200.60" x2="527.06" y2="202.20" stroke="#999" stroke-width="0.5" />
<line x1="528.99" y1="200.60" x2="528.99" y2="202.20" stroke="#999" stroke-width="0.5" />
<line x1="530.92" y1="200.60" x2="530.92" y2="202.20" stroke="#999" stroke-width="0.5" />
<line x1="532.85" y1="200.60" x2="532.85" y2="202.20" stroke="#999" stroke-width="0.5" />
<line x1="534.78" y1="200.60" x2="534.78" y2="202.20" stroke="#999" stroke-width="0.5" />
<line x1="536.71" y1="200.60" x2="536.71" y2="202.20" stroke="#999" stroke-width="0.5" />
<line x1="538.65" y1="200.60" x2="538.65" y2="202.20" stroke="#999" stroke-width="0.5" />
<line x1="540.58" y1="200.60" x2="540.58" y2="202.20" stroke="#999" stroke-width="0.5" />
<line x1="542.51" y1="200.60" x2="542.51" y2="202.20" stroke="#999" stroke-width="0.5" />
<line x1="544.44" y1="200.60" x2="544.44" y2="202.20" stroke="#999" stroke-width="0.5" />
<line x1="546.37" y1="200.60" x2="546.37" y2="202.20" stroke="#999" stroke-width="0.5" />
<line x1="548.30" y1="200.60" x2="548.30" y2="202.20" stroke="#999" stroke-width="0.5" />
<line x1="550.23" y1="200.60" x2="550.23" y2="202.20" stroke="#999" stroke-width="0.5" />
<line x1="552.17" y1="200.60" x2="552.17" y2="202.20" stroke="#999" stroke-width="0.5" />
<line x1="554.10" y1="200.60" x2="554.10" y2="202.20" stroke="#999" stroke-width="0.5" />
<line x1="556.03" y1="200.60" x2="556.03" y2="202.20" stroke="#999" stroke-width="0.5" />
<line x1="557.96" y1="200.60" x2="557.96" y2="202.20" stroke="#999" stroke-width="0.5" />
<line x1="559.89" y1="200.60" x2="559.89" y2="202.20" stroke="#999" stroke-width="0.5" />
<line x1="561.82" y1="200.60" x2="561.82" y2="202.20" stroke="#999" stroke-width="0.5" />
<line x1="563.75" y1="200.60" x2="563.75" y2="202.20" stroke="#999" stroke-width="0.5" />
<line x1="565.69" y1="200.60" x2="565.69" y2="202.20" stroke="#999" stroke-width="0.5" />
<line x1="567.62" y1="200.60" x2="567.62" y2="202.20" stroke="#999" stroke-width="0.5" />
<line x1="569.55" y1="200.60" x2="569.55" y2="202.20" stroke="#999" stroke-width="0.5" />
<line x1="571.48" y1="200.60" x2="571.48" y2="202.20" stroke="#999" stroke-width="0.5" />
<line x1="573.41" y1="200.60" x2="573.41" y2="202.20" stroke="#999" stroke-width="0.5" />
<line x1="575.34" y1="200.60" x2="575.34" y2="202.20" stroke="#999" stroke-width="0.5" />
<line x1="577.27" y1="200.60" x2="577.27" y2="202.20" stroke="#999" stroke-width="0.5" />
<line x1="579.21" y1="200.60" x2="579.21" y2="202.20" stroke="#999" stroke-width="0.5" />
<line x1="581.14" y1="200.60" x2="581.14" y2="202.20" stroke="#999" stroke-width="0.5" />
<line x1="583.07" y1="200.60" x2="583.07" y2="202.20" stroke="#999" stroke-width="0.5" />
<line x1="585.00" y1="200.60" x2="585.00" y2="202.20" stroke="#999" stroke-width="0.5" />
<line x1="526.90" y1="200.60" x2="526.90" y2="203.40" stroke="#555" stroke-width="0.7" />
<rect x="526.1" y="205.1" width="1.6" height="1.5" fill="#bbb"/>
<line x1="551.40" y1="200.60" x2="551.40" y2="203.40" stroke="#555" stroke-width="0.7" />
<rect x="550.6" y="205.1" width="1.6" height="1.5" fill="#bbb"/>
<line x1="569.40" y1="200.60" x2="569.40" y2="203.40" stroke="#555" stroke-width="0.7" />
<rect x="568.6" y="205.1" width="1.6" height="1.5" fill="#bbb"/>
<line x1="584.40" y1="200.60" x2="584.40" y2="203.40" stroke="#555" stroke-width="0.7" />
<rect x="583.6" y="205.1" width="1.6" height="1.5" fill="#bbb"/>
<rect x="524.9" y="200.6" width="6" height="1.8" fill="#333" fill-opacity="0.7"/>
<rect x="512.2" y="180.9" width="1.8" height="8" fill="#333" fill-opacity="0.6"/>
<line x1="610.70" y1="24.40" x2="612.30" y2="24.40" stroke="#999" stroke-width="0.5" />
<line x1="610.70" y1="26.31" x2="612.30" y2="26.31" stroke="#999" stroke-width="0.5" />
<line x1="610.70" y1="28.22" x2="612.30" y2="28.22" stroke="#999" stroke-width="0.5" />
<line x1="610.70" y1="30.13" x2="612.30" y2="30.13" stroke="#999" stroke-width="0.5" />
<line x1="610.70" y1="32.03" x2="612.30" y2="32.03" stroke="#999" stroke-width="0.5" />
<line x1="610.70" y1="33.94" x2="612.30" y2="33.94" stroke="#999" stroke-width="0.5" />
<line x1="610.70" y1="35.85" x2="612.30" y2="35.85" stroke="#999" stroke-width="0.5" />
<line x1="610.70" y1="37.76" x2="612.30" y2="37.76" stroke="#999" stroke-width="0.5" />
<line x1="610.70" y1="39.67" x2="612.30" y2="39.67" stroke="#999" stroke-width="0.5" />
<line x1="610.70" y1="41.58" x2="612.30" y2="41.58" stroke="#999" stroke-width="0.5" />
<line x1="610.70" y1="43.49" x2="612.30" y2="43.49" stroke="#999" stroke-width="0.5" />
<line x1="610.70" y1="45.39" x2="612.30" y2="45.39" stroke="#999" stroke-width="0.5" />
<line x1="610.70" y1="47.30" x2="612.30" y2="47.30" stroke="#999" stroke-width="0.5" />
<line x1="610.70" y1="49.21" x2="612.30" y2="49.21" stroke="#999" stroke-width="0.5" />
<line x1="610.70" y1="51.12" x2="612.30" y2="51.12" stroke="#999" stroke-width="0.5" />
<line x1="610.70" y1="53.03" x2="612.30" y2="53.03" stroke="#999" stroke-width="0.5" />
<line x1="610.70" y1="54.94" x2="612.30" y2="54.94" stroke="#999" stroke-width="0.5" />
<line x1="610.70" y1="56.85" x2="612.30" y2="56.85" stroke="#999" stroke-width="0.5" />
<line x1="610.70" y1="58.75" x2="612.30" y2="58.75" stroke="#999" stroke-width="0.5" />
<line x1="610.70" y1="60.66" x2="612.30" y2="60.66" stroke="#999" stroke-width="0.5" />
<line x1="610.70" y1="62.57" x2="612.30" y2="62.57" stroke="#999" stroke-width="0.5" />
<line x1="610.70" y1="64.48" x2="612.30" y2="64.48" stroke="#999" stroke-width="0.5" />
<line x1="610.70" y1="66.39" x2="612.30" y2="66.39" stroke="#999" stroke-width="0.5" />
<line x1="610.70" y1="68.30" x2="612.30" y2="68.30" stroke="#999" stroke-width="0.5" />
<line x1="610.70" y1="70.21" x2="612.30" y2="70.21" stroke="#999" stroke-width="0.5" />
<line x1="610.70" y1="72.11" x2="612.30" y2="72.11" stroke="#999" stroke-width="0.5" />
<line x1="610.70" y1="74.02" x2="612.30" y2="74.02" stroke="#999" stroke-width="0.5" />
<line x1="610.70" y1="75.93" x2="612.30" y2="75.93" stroke="#999" stroke-width="0.5" />
<line x1="610.70" y1="77.84" x2="612.30" y2="77.84" stroke="#999" stroke-width="0.5" />
<line x1="610.70" y1="79.75" x2="612.30" y2="79.75" stroke="#999" stroke-width="0.5" />
<line x1="610.70" y1="81.66" x2="612.30" y2="81.66" stroke="#999" stroke-width="0.5" />
<line x1="610.70" y1="83.57" x2="612.30" y2="83.57" stroke="#999" stroke-width="0.5" />
<line x1="610.70" y1="85.47" x2="612.30" y2="85.47" stroke="#999" stroke-width="0.5" />
<line x1="610.70" y1="87.38" x2="612.30" y2="87.38" stroke="#999" stroke-width="0.5" />
<line x1="610.70" y1="89.29" x2="612.30" y2="89.29" stroke="#999" stroke-width="0.5" />
<line x1="610.70" y1="91.20" x2="612.30" y2="91.20" stroke="#999" stroke-width="0.5" />
<line x1="609.50" y1="27.50" x2="612.30" y2="27.50" stroke="#555" stroke-width="0.7" />
<rect x="605.0" y="25.5" width="2.4" height="4" fill="#aaa"/>
<line x1="609.50" y1="42.80" x2="612.30" y2="42.80" stroke="#555" stroke-width="0.7" />
<rect x="605.0" y="40.8" width="2.4" height="4" fill="#aaa"/>
<line x1="609.50" y1="60.20" x2="612.30" y2="60.20" stroke="#555" stroke-width="0.7" />
<rect x="605.0" y="58.2" width="2.4" height="4" fill="#aaa"/>
<line x1="609.50" y1="78.80" x2="612.30" y2="78.80" stroke="#555" stroke-width="0.7" />
<rect x="605.0" y="76.8" width="2.4" height="4" fill="#aaa"/>
<line x1="615.30" y1="94.20" x2="615.30" y2="95.80" stroke="#999" stroke-width="0.5" />
<line x1="617.23" y1="94.20" x2="617.23" y2="95.80" stroke="#999" stroke-width="0.5" />
<line x1="619.16" y1="94.20" x2="619.16" y2="95.80" stroke="#999" stroke-width="0.5" />
<line x1="621.09" y1="94.20" x2="621.09" y2="95.80" stroke="#999" stroke-width="0.5" />
<line x1="623.03" y1="94.20" x2="623.03" y2="95.80" stroke="#999" stroke-width="0.5" />
<line x1="624.96" y1="94.20" x2="624.96" y2="95.80" stroke="#999" stroke-width="0.5" />
<line x1="626.89" y1="94.20" x2="626.89" y2="95.80" stroke="#999" stroke-width="0.5" />
<line x1="628.82" y1="94.20" x2="628.82" y2="95.80" stroke="#999" stroke-width="0.5" />
<line x1="630.75" y1="94.20" x2="630.75" y2="95.80" stroke="#999" stroke-width="0.5" />
<line x1="632.68" y1="94.20" x2="632.68" y2="95.80" stroke="#999" stroke-width="0.5" />
<line x1="634.61" y1="94.20" x2="634.61" y2="95.80" stroke="#999" stroke-width="0.5" />
<line x1="636.55" y1="94.20" x2="636.55" y2="95.80" stroke="#999" stroke-width="0.5" />
<line x1="638.48" y1="94.20" x2="638.48" y2="95.80" stroke="#999" stroke-width="0.5" />
<line x1="640.41" y1="94.20" x2="640.41" y2="95.80" stroke="#999" stroke-width="0.5" />
<line x1="642.34" y1="94.20" x2="642.34" y2="95.80" stroke="#999" stroke-width="0.5" />
<line x1="644.27" y1="94.20" x2="644.27" y2="95.80" stroke="#999" stroke-width="0.5" />
<line x1="646.20" y1="94.20" x2="646.20" y2="95.80" stroke="#999" stroke-width="0.5" />
<line x1="648.13" y1="94.20" x2="648.13" y2="95.80" stroke="#999" stroke-width="0.5" />
<line x1="650.07" y1="94.20" x2="650.07" y2="95.80" stroke="#999" stroke-width="0.5" />
<line x1="652.00" y1="94.20" x2="652.00" y2="95.80" stroke="#999" stroke-width="0.5" />
<line x1="653.93" y1="94.20" x2="653.93" y2="95.80" stroke="#999" stroke-width="0.5" />
<line x1="655.86" y1="94.20" x2="655.86" y2="95.80" stroke="#999" stroke-width="0.5" />
<line x1="657.79" y1="94.20" x2="657.79" y2="95.80" stroke="#999" stroke-width="0.5" />
<line x1="659.72" y1="94.20" x2="659.72" y2="95.80" stroke="#999" stroke-width="0.5" />
<line x1="661.65" y1="94.20" x2="661.65" y2="95.80" stroke="#999" stroke-width="0.5" />
<line x1="663.59" y1="94.20" x2="663.59" y2="95.80" stroke="#999" stroke-width="0.5" />
<line x1="665.52" y1="94.20" x2="665.52" y2="95.80" stroke="#999" stroke-width="0.5" />
<line x1="667.45" y1="94.20" x2="667.45" y2="95.80" stroke="#999" stroke-width="0.5" />
<line x1="669.38" y1="94.20" x2="669.38" y2="95.80" stroke="#999" stroke-width="0.5" />
<line x1="671.31" y1="94.20" x2="671.31" y2="95.80" stroke="#999" stroke-width="0.5" />
<line x1="673.24" y1="94.20" x2="673.24" y2="95.80" stroke="#999" stroke-width="0.5" />
<line x1="675.17" y1="94.20" x2="675.17" y2="95.80" stroke="#999" stroke-width="0.5" />
<line x1="677.11" y1="94.20" x2="677.11" y2="95.80" stroke="#999" stroke-width="0.5" />
<line x1="679.04" y1="94.20" x2="679.04" y2="95.80" stroke="#999" stroke-width="0.5" />
<line x1="680.97" y1="94.20" x2="680.97" y2="95.80" stroke="#999" stroke-width="0.5" />
<line x1="682.90" y1="94.20" x2="682.90" y2="95.80" stroke="#999" stroke-width="0.5" />
<line x1="624.80" y1="94.20" x2="624.80" y2="97.00" stroke="#555" stroke-width="0.7" />
<rect x="624.0" y="98.7" width="1.6" height="1.5" fill="#bbb"/>
<line x1="649.30" y1="94.20" x2="649.30" y2="97.00" stroke="#555" stroke-width="0.7" />
<rect x="648.5" y="98.7" width="1.6" height="1.5" fill="#bbb"/>
<line x1="667.30" y1="94.20" x2="667.30" y2="97.00" stroke="#555" stroke-width="0.7" />
<rect x="666.5" y="98.7" width="1.6" height="1.5" fill="#bbb"/>
<line x1="682.30" y1="94.20" x2="682.30" y2="97.00" stroke="#555" stroke-width="0.7" />
<rect x="681.5" y="98.7" width="1.6" height="1.5" fill="#bbb"/>
<rect x="622.8" y="94.2" width="6" height="1.8" fill="#333" fill-opacity="0.7"/>
<rect x="610.1" y="74.8" width="1.8" height="8" fill="#333" fill-opacity="0.6"/>
<line x1="610.70" y1="130.90" x2="612.30" y2="130.90" stroke="#999" stroke-width="0.5" />
<line x1="610.70" y1="132.81" x2="612.30" y2="132.81" stroke="#999" stroke-width="0.5" />
<line x1="610.70" y1="134.71" x2="612.30" y2="134.71" stroke="#999" stroke-width="0.5" />
<line x1="610.70" y1="136.62" x2="612.30" y2="136.62" stroke="#999" stroke-width="0.5" />
<line x1="610.70" y1="138.52" x2="612.30" y2="138.52" stroke="#999" stroke-width="0.5" />
<line x1="610.70" y1="140.43" x2="612.30" y2="140.43" stroke="#999" stroke-width="0.5" />
<line x1="610.70" y1="142.33" x2="612.30" y2="142.33" stroke="#999" stroke-width="0.5" />
<line x1="610.70" y1="144.24" x2="612.30" y2="144.24" stroke="#999" stroke-width="0.5" />
<line x1="610.70" y1="146.15" x2="612.30" y2="146.15" stroke="#999" stroke-width="0.5" />
<line x1="610.70" y1="148.05" x2="612.30" y2="148.05" stroke="#999" stroke-width="0.5" />
<line x1="610.70" y1="149.96" x2="612.30" y2="149.96" stroke="#999" stroke-width="0.5" />
<line x1="610.70" y1="151.86" x2="612.30" y2="151.86" stroke="#999" stroke-width="0.5" />
<line x1="610.70" y1="153.77" x2="612.30" y2="153.77" stroke="#999" stroke-width="0.5" />
<line x1="610.70" y1="155.67" x2="612.30" y2="155.67" stroke="#999" stroke-width="0.5" />
<line x1="610.70" y1="157.58" x2="612.30" y2="157.58" stroke="#999" stroke-width="0.5" />
<line x1="610.70" y1="159.49" x2="612.30" y2="159.49" stroke="#999" stroke-width="0.5" />
<line x1="610.70" y1="161.39" x2="612.30" y2="161.39" stroke="#999" stroke-width="0.5" />
<line x1="610.70" y1="163.30" x2="612.30" y2="163.30" stroke="#999" stroke-width="0.5" />
<line x1="610.70" y1="165.20" x2="612.30" y2="165.20" stroke="#999" stroke-width="0.5" />
<line x1="610.70" y1="167.11" x2="612.30" y2="167.11" stroke="#999" stroke-width="0.5" />
<line x1="610.70" y1="169.01" x2="612.30" y2="169.01" stroke="#999" stroke-width="0.5" />
<line x1="610.70" y1="170.92" x2="612.30" y2="170.92" stroke="#999" stroke-width="0.5" />
<line x1="610.70" y1="172.83" x2="612.30" y2="172.83" stroke="#999" stroke-width="0.5" />
<line x1="610.70" y1="174.73" x2="612.30" y2="174.73" stroke="#999" stroke-width="0.5" />
<line x1="610.70" y1="176.64" x2="612.30" y2="176.64" stroke="#999" stroke-width="0.5" />
<line x1="610.70" y1="178.54" x2="612.30" y2="178.54" stroke="#999" stroke-width="0.5" />
<line x1="610.70" y1="180.45" x2="612.30" y2="180.45" stroke="#999" stroke-width="0.5" />
<line x1="610.70" y1="182.35" x2="612.30" y2="182.35" stroke="#999" stroke-width="0.5" />
<line x1="610.70" y1="184.26" x2="612.30" y2="184.26" stroke="#999" stroke-width="0.5" />
<line x1="610.70" y1="186.17" x2="612.30" y2="186.17" stroke="#999" stroke-width="0.5" />
<line x1="610.70" y1="188.07" x2="612.30" y2="188.07" stroke="#999" stroke-width="0.5" />
<line x1="610.70" y1="189.98" x2="612.30" y2="189.98" stroke="#999" stroke-width="0.5" />
<line x1="610.70" y1="191.88" x2="612.30" y2="191.88" stroke="#999" stroke-width="0.5" />
<line x1="610.70" y1="193.79" x2="612.30" y2="193.79" stroke="#999" stroke-width="0.5" />
<line x1="610.70" y1="195.69" x2="612.30" y2="195.69" stroke="#999" stroke-width="0.5" />
<line x1="610.70" y1="197.60" x2="612.30" y2="197.60" stroke="#999" stroke-width="0.5" />
<line x1="609.50" y1="134.00" x2="612.30" y2="134.00" stroke="#555" stroke-width="0.7" />
<rect x="605.0" y="132.0" width="2.4" height="4" fill="#aaa"/>
<line x1="609.50" y1="150.00" x2="612.30" y2="150.00" stroke="#555" stroke-width="0.7" />
<rect x="605.0" y="148.0" width="2.4" height="4" fill="#aaa"/>
<line x1="609.50" y1="166.50" x2="612.30" y2="166.50" stroke="#555" stroke-width="0.7" />
<rect x="605.0" y="164.5" width="2.4" height="4" fill="#aaa"/>
<line x1="609.50" y1="184.90" x2="612.30" y2="184.90" stroke="#555" stroke-width="0.7" />
<rect x="605.0" y="182.9" width="2.4" height="4" fill="#aaa"/>
<line x1="615.30" y1="200.60" x2="615.30" y2="202.20" stroke="#999" stroke-width="0.5" />
<line x1="617.23" y1="200.60" x2="617.23" y2="202.20" stroke="#999" stroke-width="0.5" />
<line x1="619.16" y1="200.60" x2="619.16" y2="202.20" stroke="#999" stroke-width="0.5" />
<line x1="621.09" y1="200.60" x2="621.09" y2="202.20" stroke="#999" stroke-width="0.5" />
<line x1="623.03" y1="200.60" x2="623.03" y2="202.20" stroke="#999" stroke-width="0.5" />
<line x1="624.96" y1="200.60" x2="624.96" y2="202.20" stroke="#999" stroke-width="0.5" />
<line x1="626.89" y1="200.60" x2="626.89" y2="202.20" stroke="#999" stroke-width="0.5" />
<line x1="628.82" y1="200.60" x2="628.82" y2="202.20" stroke="#999" stroke-width="0.5" />
<line x1="630.75" y1="200.60" x2="630.75" y2="202.20" stroke="#999" stroke-width="0.5" />
<line x1="632.68" y1="200.60" x2="632.68" y2="202.20" stroke="#999" stroke-width="0.5" />
<line x1="634.61" y1="200.60" x2="634.61" y2="202.20" stroke="#999" stroke-width="0.5" />
<line x1="636.55" y1="200.60" x2="636.55" y2="202.20" stroke="#999" stroke-width="0.5" />
<line x1="638.48" y1="200.60" x2="638.48" y2="202.20" stroke="#999" stroke-width="0.5" />
<line x1="640.41" y1="200.60" x2="640.41" y2="202.20" stroke="#999" stroke-width="0.5" />
<line x1="642.34" y1="200.60" x2="642.34" y2="202.20" stroke="#999" stroke-width="0.5" />
<line x1="644.27" y1="200.60" x2="644.27" y2="202.20" stroke="#999" stroke-width="0.5" />
<line x1="646.20" y1="200.60" x2="646.20" y2="202.20" stroke="#999" stroke-width="0.5" />
<line x1="648.13" y1="200.60" x2="648.13" y2="202.20" stroke="#999" stroke-width="0.5" />
<line x1="650.07" y1="200.60" x2="650.07" y2="202.20" stroke="#999" stroke-width="0.5" />
<line x1="652.00" y1="200.60" x2="652.00" y2="202.20" stroke="#999" stroke-width="0.5" />
<line x1="653.93" y1="200.60" x2="653.93" y2="202.20" stroke="#999" stroke-width="0.5" />
<line x1="655.86" y1="200.60" x2="655.86" y2="202.20" stroke="#999" stroke-width="0.5" />
<line x1="657.79" y1="200.60" x2="657.79" y2="202.20" stroke="#999" stroke-width="0.5" />
<line x1="659.72" y1="200.60" x2="659.72" y2="202.20" stroke="#999" stroke-width="0.5" />
<line x1="661.65" y1="200.60" x2="661.65" y2="202.20" stroke="#999" stroke-width="0.5" />
<line x1="663.59" y1="200.60" x2="663.59" y2="202.20" stroke="#999" stroke-width="0.5" />
<line x1="665.52" y1="200.60" x2="665.52" y2="202.20" stroke="#999" stroke-width="0.5" />
<line x1="667.45" y1="200.60" x2="667.45" y2="202.20" stroke="#999" stroke-width="0.5" />
<line x1="669.38" y1="200.60" x2="669.38" y2="202.20" stroke="#999" stroke-width="0.5" />
<line x1="671.31" y1="200.60" x2="671.31" y2="202.20" stroke="#999" stroke-width="0.5" />
<line x1="673.24" y1="200.60" x2="673.24" y2="202.20" stroke="#999" stroke-width="0.5" />
<line x1="675.17" y1="200.60" x2="675.17" y2="202.20" stroke="#999" stroke-width="0.5" />
<line x1="677.11" y1="200.60" x2="677.11" y2="202.20" stroke="#999" stroke-width="0.5" />
<line x1="679.04" y1="200.60" x2="679.04" y2="202.20" stroke="#999" stroke-width="0.5" />
<line x1="680.97" y1="200.60" x2="680.97" y2="202.20" stroke="#999" stroke-width="0.5" />
<line x1="682.90" y1="200.60" x2="682.90" y2="202.20" stroke="#999" stroke-width="0.5" />
<line x1="624.80" y1="200.60" x2="624.80" y2="203.40" stroke="#555" stroke-width="0.7" />
<rect x="624.0" y="205.1" width="1.6" height="1.5" fill="#bbb"/>
<line x1="649.30" y1="200.60" x2="649.30" y2="203.40" stroke="#555" stroke-width="0.7" />
<rect x="648.5" y="205.1" width="1.6" height="1.5" fill="#bbb"/>
<line x1="667.30" y1="200.60" x2="667.30" y2="203.40" stroke="#555" stroke-width="0.7" />
<rect x="666.5" y="205.1" width="1.6" height="1.5" fill="#bbb"/>
<line x1="682.30" y1="200.60" x2="682.30" y2="203.40" stroke="#555" stroke-width="0.7" />
<rect x="681.5" y="205.1" width="1.6" height="1.5" fill="#bbb"/>
<rect x="622.8" y="200.6" width="6" height="1.8" fill="#333" fill-opacity="0.7"/>
<rect x="610.1" y="180.9" width="1.8" height="8" fill="#333" fill-opacity="0.6"/>
<g shape-rendering="crispEdges"><path fill="#001fff" fill-opacity="0.9" d="M462 70h1v1h-1zM436 72h1v1h-1zM442 72h1v1h-1zM444 72h1v1h-1zM453 72h1v1h-1zM456 72h1v1h-1zM457 72h1v1h-1zM458 72h1v1h-1zM465 73h1v1h-1zM469 73h1v1h-1zM469 74h1v1h-1zM473 75h1v1h-1zM474 76h1v1h-1zM471 78h1v1h-1zM428 80h1v1h-1zM471 80h1v1h-1zM469 81h1v1h-1zM468 82h1v1h-1zM469 82h1v1h-1zM433 84h1v1h-1zM435 84h1v1h-1zM440 84h1v1h-1zM454 84h1v1h-1zM464 84h1v1h-1zM454 85h1v1h-1zM443 86h1v1h-1z"/><path fill="#003fff" fill-opacity="0.9" d="M438 72h1v1h-1zM439 72h1v1h-1zM445 72h1v1h-1zM437 73h1v1h-1zM438 73h1v1h-1zM440 73h1v1h-1zM442 73h1v1h-1zM459 73h1v1h-1zM460 73h1v1h-1zM462 73h1v1h-1zM461 74h1v1h-1zM465 74h1v1h-1zM466 74h1v1h-1zM466 75h1v1h-1zM467 75h1v1h-1zM468 76h1v1h-1zM428 77h1v1h-1zM470 77h1v1h-1zM428 78h1v1h-1zM428 79h1v1h-1zM470 79h1v1h-1zM468 80h1v1h-1zM429 81h1v1h-1zM465 82h1v1h-1zM437 83h1v1h-1zM438 83h1v1h-1zM453 83h1v1h-1zM455 83h1v1h-1zM461 83h1v1h-1zM464 83h1v1h-1zM461 84h1v1h-1zM462 84h1v1h-1z"/><path fill="#003fff" fill-opacity="1.0" d="M447 72h1v1h-1zM439 73h1v1h-1zM445 73h1v1h-1zM449 73h1v1h-1zM469 76h1v1h-1zM470 78h1v1h-1zM467 80h1v1h-1zM466 81h1v1h-1zM464 82h1v1h-1zM466 82h1v1h-1zM435 83h1v1h-1zM440 83h1v1h-1zM450 83h1v1h-1zM457 83h1v1h-1zM458 83h1v1h-1zM460 83h1v1h-1zM462 83h1v1h-1z"/><path fill="#005fff" fill-opacity="1.0" d="M432 73h1v1h-1zM434 73h1v1h-1zM436 73h1v1h-1zM452 73h1v1h-1zM454 73h1v1h-1zM455 73h1v1h-1zM444 74h1v1h-1zM460 74h1v1h-1zM462 74h1v1h-1zM464 74h1v1h-1zM465 75h1v1h-1zM468 77h1v1h-1zM468 78h1v1h-1zM469 78h1v1h-1zM467 79h1v1h-1zM468 79h1v1h-1zM469 79h1v1h-1zM463 81h1v1h-1zM464 81h1v1h-1zM463 82h1v1h-1zM433 83h1v1h-1zM441 83h1v1h-1z"/><path fill="#005fff" fill-opacity="0.9" d="M435 73h1v1h-1zM446 73h1v1h-1zM447 73h1v1h-1zM451 73h1v1h-1zM463 74h1v1h-1zM467 76h1v1h-1zM469 77h1v1h-1zM466 80h1v1h-1zM461 82h1v1h-1zM462 82h1v1h-1zM434 83h1v1h-1zM444 83h1v1h-1zM445 83h1v1h-1zM446 83h1v1h-1zM447 83h1v1h-1zM448 83h1v1h-1zM449 83h1v1h-1z"/><path fill="#00bfff" fill-opacity="1.0" d="M432 74h1v1h-1zM433 74h1v1h-1zM434 74h1v1h-1zM435 74h1v1h-1zM443 75h1v1h-1zM444 75h1v1h-1zM445 75h1v1h-1zM458 75h1v1h-1zM430 76h1v1h-1zM462 76h1v1h-1zM463 76h1v1h-1zM463 77h1v1h-1zM464 77h1v1h-1zM464 78h1v1h-1zM463 79h1v1h-1zM464 79h1v1h-1zM430 80h1v1h-1zM461 80h1v1h-1zM440 81h1v1h-1zM441 81h1v1h-1zM442 81h1v1h-1zM443 81h1v1h-1zM457 81h1v1h-1zM458 81h1v1h-1zM459 81h1v1h-1zM445 82h1v1h-1zM446 82h1v1h-1z"/><path fill="#009fff" fill-opacity="1.0" d="M436 74h1v1h-1zM447 74h1v1h-1zM448 74h1v1h-1zM451 74h1v1h-1zM452 74h1v1h-1zM455 74h1v1h-1zM456 74h1v1h-1zM457 74h1v1h-1zM459 75h1v1h-1zM460 75h1v1h-1zM463 75h1v1h-1zM464 76h1v1h-1zM465 77h1v1h-1zM465 78h1v1h-1zM466 78h1v1h-1zM465 79h1v1h-1zM462 80h1v1h-1zM463 80h1v1h-1zM464 80h1v1h-1zM460 81h1v1h-1zM432 82h1v1h-1zM433 82h1v1h-1zM434 82h1v1h-1zM444 82h1v1h-1zM447 82h1v1h-1zM448 82h1v1h-1zM449 82h1v1h-1z"/><path fill="#007fff" fill-opacity="1.0" d="M437 74h1v1h-1zM438 74h1v1h-1zM440 74h1v1h-1zM441 74h1v1h-1zM442 74h1v1h-1zM445 74h1v1h-1zM446 74h1v1h-1zM449 74h1v1h-1zM453 74h1v1h-1zM454 74h1v1h-1zM458 74h1v1h-1zM459 74h1v1h-1zM430 75h1v1h-1zM462 75h1v1h-1zM464 75h1v1h-1zM465 76h1v1h-1zM466 76h1v1h-1zM429 77h1v1h-1zM466 77h1v1h-1zM467 77h1v1h-1zM429 78h1v1h-1zM467 78h1v1h-1zM429 79h1v1h-1zM466 79h1v1h-1zM465 80h1v1h-1zM461 81h1v1h-1zM462 81h1v1h-1zM437 82h1v1h-1zM438 82h1v1h-1zM439 82h1v1h-1zM440 82h1v1h-1zM441 82h1v1h-1zM442 82h1v1h-1zM443 82h1v1h-1zM450 82h1v1h-1zM451 82h1v1h-1zM452 82h1v1h-1zM453 82h1v1h-1zM454 82h1v1h-1zM455 82h1v1h-1zM456 82h1v1h-1zM457 82h1v1h-1zM458 82h1v1h-1zM459 82h1v1h-1zM460 82h1v1h-1z"/><path fill="#007fff" fill-opacity="0.9" d="M439 74h1v1h-1z"/><path fill="#009fff" fill-opacity="0.9" d="M450 74h1v1h-1zM435 82h1v1h-1z"/><path fill="#00dfff" fill-opacity="1.0" d="M431 75h1v1h-1zM437 75h1v1h-1zM438 75h1v1h-1zM439 75h1v1h-1zM440 75h1v1h-1zM441 75h1v1h-1zM442 75h1v1h-1zM446 75h1v1h-1zM447 75h1v1h-1zM448 75h1v1h-1zM449 75h1v1h-1zM453 75h1v1h-1zM454 75h1v1h-1zM455 75h1v1h-1zM456 75h1v1h-1zM457 75h1v1h-1zM462 77h1v1h-1zM462 78h1v1h-1zM463 78h1v1h-1zM462 79h1v1h-1zM460 80h1v1h-1zM431 81h1v1h-1zM436 81h1v1h-1zM437 81h1v1h-1zM438 81h1v1h-1zM439 81h1v1h-1zM444 81h1v1h-1zM449 81h1v1h-1zM450 81h1v1h-1zM451 81h1v1h-1zM452 81h1v1h-1zM453 81h1v1h-1zM454 81h1v1h-1zM456 81h1v1h-1z"/><path fill="#3fffbf" fill-opacity="1.0" d="M432 75h1v1h-1zM450 76h1v1h-1zM453 76h1v1h-1zM454 76h1v1h-1zM455 76h1v1h-1zM456 76h1v1h-1zM438 77h1v1h-1zM439 77h1v1h-1zM440 77h1v1h-1zM441 77h1v1h-1zM442 77h1v1h-1zM443 77h1v1h-1zM444 77h1v1h-1zM445 77h1v1h-1zM446 77h1v1h-1zM458 77h1v1h-1zM459 77h1v1h-1zM439 78h1v1h-1zM440 78h1v1h-1zM444 78h1v1h-1zM445 78h1v1h-1zM459 78h1v1h-1zM460 78h1v1h-1zM439 79h1v1h-1zM440 79h1v1h-1zM442 79h1v1h-1zM443 79h1v1h-1zM444 79h1v1h-1zM445 79h1v1h-1zM458 79h1v1h-1zM431 80h1v1h-1zM437 80h1v1h-1zM446 80h1v1h-1zM447 80h1v1h-1zM448 80h1v1h-1zM449 80h1v1h-1zM450 80h1v1h-1zM451 80h1v1h-1zM452 80h1v1h-1zM453 80h1v1h-1zM456 80h1v1h-1zM432 81h1v1h-1zM434 81h1v1h-1z"/><path fill="#7fff7f" fill-opacity="1.0" d="M433 75h1v1h-1zM434 75h1v1h-1zM436 76h1v1h-1zM437 77h1v1h-1zM450 77h1v1h-1zM453 77h1v1h-1zM454 77h1v1h-1zM455 77h1v1h-1zM456 77h1v1h-1zM447 78h1v1h-1zM457 78h1v1h-1zM437 79h1v1h-1zM447 79h1v1h-1zM448 79h1v1h-1zM449 79h1v1h-1zM450 79h1v1h-1zM453 79h1v1h-1zM456 79h1v1h-1z"/><path fill="#5fff9f" fill-opacity="1.0" d="M435 75h1v1h-1zM431 76h1v1h-1zM451 76h1v1h-1zM452 76h1v1h-1zM447 77h1v1h-1zM448 77h1v1h-1zM449 77h1v1h-1zM457 77h1v1h-1zM438 78h1v1h-1zM441 78h1v1h-1zM442 78h1v1h-1zM443 78h1v1h-1zM446 78h1v1h-1zM458 78h1v1h-1zM438 79h1v1h-1zM441 79h1v1h-1zM446 79h1v1h-1zM457 79h1v1h-1zM436 80h1v1h-1zM454 80h1v1h-1zM455 80h1v1h-1zM433 81h1v1h-1z"/><path fill="#00ffff" fill-opacity="1.0" d="M436 75h1v1h-1zM450 75h1v1h-1zM451 75h1v1h-1zM452 75h1v1h-1zM442 76h1v1h-1zM443 76h1v1h-1zM458 76h1v1h-1zM459 76h1v1h-1zM460 76h1v1h-1zM461 76h1v1h-1zM430 77h1v1h-1zM430 79h1v1h-1zM460 79h1v1h-1zM461 79h1v1h-1zM440 80h1v1h-1zM443 80h1v1h-1zM458 80h1v1h-1zM459 80h1v1h-1zM445 81h1v1h-1zM446 81h1v1h-1zM447 81h1v1h-1zM448 81h1v1h-1zM455 81h1v1h-1z"/><path fill="#dfff1f" fill-opacity="1.0" d="M432 76h1v1h-1zM436 79h1v1h-1zM432 80h1v1h-1z"/><path fill="#ffbf00" fill-opacity="1.0" d="M433 76h1v1h-1zM435 79h1v1h-1z"/><path fill="#ff9f00" fill-opacity="1.0" d="M434 76h1v1h-1zM432 77h1v1h-1zM432 79h1v1h-1z"/><path fill="#ffff00" fill-opacity="1.0" d="M435 76h1v1h-1zM436 77h1v1h-1zM434 80h1v1h-1z"/><path fill="#1fffdf" fill-opacity="1.0" d="M437 76h1v1h-1zM438 76h1v1h-1zM439 76h1v1h-1zM440 76h1v1h-1zM441 76h1v1h-1zM444 76h1v1h-1zM445 76h1v1h-1zM446 76h1v1h-1zM447 76h1v1h-1zM448 76h1v1h-1zM449 76h1v1h-1zM457 76h1v1h-1zM460 77h1v1h-1zM461 77h1v1h-1zM430 78h1v1h-1zM461 78h1v1h-1zM459 79h1v1h-1zM438 80h1v1h-1zM439 80h1v1h-1zM441 80h1v1h-1zM442 80h1v1h-1zM444 80h1v1h-1zM445 80h1v1h-1zM457 80h1v1h-1zM435 81h1v1h-1z"/><path fill="#bfff3f" fill-opacity="1.0" d="M431 77h1v1h-1zM431 78h1v1h-1zM451 78h1v1h-1zM452 78h1v1h-1z"/><path fill="#ff3f00" fill-opacity="1.0" d="M433 77h1v1h-1zM433 79h1v1h-1z"/><path fill="#ff1f00" fill-opacity="1.0" d="M434 77h1v1h-1z"/><path fill="#ff7f00" fill-opacity="1.0" d="M435 77h1v1h-1zM432 78h1v1h-1z"/><path fill="#9fff5f" fill-opacity="1.0" d="M451 77h1v1h-1zM452 77h1v1h-1zM437 78h1v1h-1zM448 78h1v1h-1zM449 78h1v1h-1zM450 78h1v1h-1zM453 78h1v1h-1zM454 78h1v1h-1zM455 78h1v1h-1zM456 78h1v1h-1zM431 79h1v1h-1zM451 79h1v1h-1zM452 79h1v1h-1zM454 79h1v1h-1zM455 79h1v1h-1zM435 80h1v1h-1z"/><path fill="#ff0000" fill-opacity="1.0" d="M433 78h1v1h-1zM434 78h1v1h-1z"/><path fill="#ff5f00" fill-opacity="1.0" d="M435 78h1v1h-1zM434 79h1v1h-1z"/><path fill="#ffdf00" fill-opacity="1.0" d="M436 78h1v1h-1zM433 80h1v1h-1z"/></g>
<g shape-rendering="crispEdges"><path fill="#001fff" fill-opacity="0.9" d="M540 71h1v1h-1zM534 72h1v1h-1zM544 72h1v1h-1zM551 72h1v1h-1zM553 72h1v1h-1zM555 72h1v1h-1zM563 73h1v1h-1zM564 73h1v1h-1zM526 74h1v1h-1zM565 74h1v1h-1zM523 77h1v1h-1zM567 77h1v1h-1zM568 77h1v1h-1zM569 77h1v1h-1zM568 78h1v1h-1zM525 79h1v1h-1zM566 79h1v1h-1zM568 79h1v1h-1zM568 80h1v1h-1zM543 83h1v1h-1zM547 83h1v1h-1zM550 83h1v1h-1zM558 83h1v1h-1zM560 83h1v1h-1zM563 83h1v1h-1zM557 84h1v1h-1z"/><path fill="#003fff" fill-opacity="0.9" d="M557 72h1v1h-1zM534 73h1v1h-1zM539 73h1v1h-1zM544 73h1v1h-1zM545 73h1v1h-1zM548 73h1v1h-1zM552 73h1v1h-1zM560 73h1v1h-1zM549 74h1v1h-1zM526 76h1v1h-1zM565 76h1v1h-1zM566 76h1v1h-1zM566 78h1v1h-1zM565 80h1v1h-1zM548 82h1v1h-1zM549 82h1v1h-1zM559 82h1v1h-1zM560 82h1v1h-1zM537 83h1v1h-1zM544 83h1v1h-1zM554 83h1v1h-1z"/><path fill="#005fff" fill-opacity="1.0" d="M531 73h1v1h-1zM557 73h1v1h-1zM558 73h1v1h-1zM536 74h1v1h-1zM537 74h1v1h-1zM539 74h1v1h-1zM547 74h1v1h-1zM548 74h1v1h-1zM560 74h1v1h-1zM561 74h1v1h-1zM564 76h1v1h-1zM565 77h1v1h-1zM526 78h1v1h-1zM564 80h1v1h-1zM535 82h1v1h-1zM536 82h1v1h-1zM537 82h1v1h-1zM538 82h1v1h-1zM539 82h1v1h-1zM544 82h1v1h-1zM545 82h1v1h-1zM551 82h1v1h-1z"/><path fill="#005fff" fill-opacity="0.9" d="M532 73h1v1h-1zM556 73h1v1h-1zM543 74h1v1h-1zM544 74h1v1h-1zM545 74h1v1h-1zM546 74h1v1h-1zM559 74h1v1h-1zM527 75h1v1h-1zM526 77h1v1h-1zM565 78h1v1h-1zM564 79h1v1h-1zM560 81h1v1h-1zM562 81h1v1h-1zM563 81h1v1h-1zM528 82h1v1h-1zM540 82h1v1h-1zM546 82h1v1h-1zM547 82h1v1h-1z"/><path fill="#003fff" fill-opacity="1.0" d="M541 73h1v1h-1zM562 73h1v1h-1zM564 75h1v1h-1zM566 75h1v1h-1zM562 82h1v1h-1zM563 82h1v1h-1zM531 83h1v1h-1zM540 83h1v1h-1zM552 83h1v1h-1z"/><path fill="#007fff" fill-opacity="1.0" d="M528 74h1v1h-1zM535 74h1v1h-1zM540 74h1v1h-1zM542 74h1v1h-1zM551 74h1v1h-1zM558 74h1v1h-1zM545 75h1v1h-1zM561 75h1v1h-1zM562 75h1v1h-1zM563 76h1v1h-1zM564 77h1v1h-1zM564 78h1v1h-1zM527 80h1v1h-1zM563 80h1v1h-1zM546 81h1v1h-1zM547 81h1v1h-1zM548 81h1v1h-1zM549 81h1v1h-1zM559 81h1v1h-1zM561 81h1v1h-1zM529 82h1v1h-1zM533 82h1v1h-1zM534 82h1v1h-1zM541 82h1v1h-1zM552 82h1v1h-1zM557 82h1v1h-1z"/><path fill="#009fff" fill-opacity="1.0" d="M529 74h1v1h-1zM552 74h1v1h-1zM553 74h1v1h-1zM538 75h1v1h-1zM544 75h1v1h-1zM546 75h1v1h-1zM548 75h1v1h-1zM560 75h1v1h-1zM527 76h1v1h-1zM562 76h1v1h-1zM563 79h1v1h-1zM561 80h1v1h-1zM562 80h1v1h-1zM528 81h1v1h-1zM535 81h1v1h-1zM536 81h1v1h-1zM537 81h1v1h-1zM539 81h1v1h-1zM540 81h1v1h-1zM541 81h1v1h-1zM542 81h1v1h-1zM543 81h1v1h-1zM544 81h1v1h-1zM545 81h1v1h-1zM551 81h1v1h-1zM558 81h1v1h-1zM530 82h1v1h-1zM531 82h1v1h-1zM553 82h1v1h-1zM554 82h1v1h-1zM555 82h1v1h-1zM556 82h1v1h-1z"/><path fill="#00bfff" fill-opacity="1.0" d="M530 74h1v1h-1zM532 74h1v1h-1zM533 74h1v1h-1zM554 74h1v1h-1zM555 74h1v1h-1zM557 74h1v1h-1zM528 75h1v1h-1zM535 75h1v1h-1zM536 75h1v1h-1zM539 75h1v1h-1zM540 75h1v1h-1zM541 75h1v1h-1zM542 75h1v1h-1zM543 75h1v1h-1zM547 75h1v1h-1zM559 75h1v1h-1zM561 76h1v1h-1zM562 77h1v1h-1zM563 77h1v1h-1zM562 78h1v1h-1zM563 78h1v1h-1zM527 79h1v1h-1zM562 79h1v1h-1zM546 80h1v1h-1zM547 80h1v1h-1zM548 80h1v1h-1zM549 80h1v1h-1zM560 80h1v1h-1zM534 81h1v1h-1z"/><path fill="#00dfff" fill-opacity="1.0" d="M531 74h1v1h-1zM556 74h1v1h-1zM551 75h1v1h-1zM558 75h1v1h-1zM537 76h1v1h-1zM538 76h1v1h-1zM545 76h1v1h-1zM546 76h1v1h-1zM547 76h1v1h-1zM548 76h1v1h-1zM549 76h1v1h-1zM560 76h1v1h-1zM527 77h1v1h-1zM561 77h1v1h-1zM527 78h1v1h-1zM561 78h1v1h-1zM548 79h1v1h-1zM549 79h1v1h-1zM561 79h1v1h-1zM536 80h1v1h-1zM537 80h1v1h-1zM538 80h1v1h-1zM539 80h1v1h-1zM540 80h1v1h-1zM543 80h1v1h-1zM545 80h1v1h-1zM550 80h1v1h-1zM559 80h1v1h-1zM552 81h1v1h-1zM557 81h1v1h-1z"/><path fill="#007fff" fill-opacity="0.9" d="M534 74h1v1h-1zM541 74h1v1h-1zM549 75h1v1h-1zM550 81h1v1h-1z"/><path fill="#3fffbf" fill-opacity="1.0" d="M529 75h1v1h-1zM533 75h1v1h-1zM553 75h1v1h-1zM556 75h1v1h-1zM528 76h1v1h-1zM551 76h1v1h-1zM558 76h1v1h-1zM535 77h1v1h-1zM544 77h1v1h-1zM550 77h1v1h-1zM538 78h1v1h-1zM539 78h1v1h-1zM540 78h1v1h-1zM544 78h1v1h-1zM550 78h1v1h-1zM535 79h1v1h-1zM538 79h1v1h-1zM539 79h1v1h-1zM543 79h1v1h-1zM544 79h1v1h-1zM559 79h1v1h-1zM534 80h1v1h-1zM530 81h1v1h-1zM532 81h1v1h-1zM554 81h1v1h-1zM555 81h1v1h-1z"/><path fill="#7fff7f" fill-opacity="1.0" d="M530 75h1v1h-1zM531 75h1v1h-1zM552 76h1v1h-1zM551 77h1v1h-1zM541 78h1v1h-1zM542 78h1v1h-1zM528 79h1v1h-1zM558 79h1v1h-1z"/><path fill="#5fff9f" fill-opacity="1.0" d="M532 75h1v1h-1zM554 75h1v1h-1zM555 75h1v1h-1zM534 76h1v1h-1zM541 77h1v1h-1zM542 77h1v1h-1zM543 77h1v1h-1zM559 77h1v1h-1zM535 78h1v1h-1zM543 78h1v1h-1zM559 78h1v1h-1zM541 79h1v1h-1zM542 79h1v1h-1zM551 79h1v1h-1zM552 80h1v1h-1zM557 80h1v1h-1zM531 81h1v1h-1z"/><path fill="#00ffff" fill-opacity="1.0" d="M534 75h1v1h-1zM552 75h1v1h-1zM536 76h1v1h-1zM539 76h1v1h-1zM540 76h1v1h-1zM541 76h1v1h-1zM544 76h1v1h-1zM550 76h1v1h-1zM545 77h1v1h-1zM548 77h1v1h-1zM549 77h1v1h-1zM548 78h1v1h-1zM549 78h1v1h-1zM546 79h1v1h-1zM547 79h1v1h-1zM560 79h1v1h-1zM528 80h1v1h-1zM535 80h1v1h-1zM541 80h1v1h-1zM542 80h1v1h-1zM544 80h1v1h-1zM529 81h1v1h-1z"/><path fill="#009fff" fill-opacity="0.9" d="M537 75h1v1h-1zM550 75h1v1h-1zM538 81h1v1h-1z"/><path fill="#1fffdf" fill-opacity="1.0" d="M557 75h1v1h-1zM535 76h1v1h-1zM542 76h1v1h-1zM543 76h1v1h-1zM559 76h1v1h-1zM536 77h1v1h-1zM537 77h1v1h-1zM538 77h1v1h-1zM539 77h1v1h-1zM540 77h1v1h-1zM546 77h1v1h-1zM547 77h1v1h-1zM560 77h1v1h-1zM536 78h1v1h-1zM537 78h1v1h-1zM545 78h1v1h-1zM546 78h1v1h-1zM547 78h1v1h-1zM560 78h1v1h-1zM536 79h1v1h-1zM537 79h1v1h-1zM540 79h1v1h-1zM545 79h1v1h-1zM550 79h1v1h-1zM551 80h1v1h-1zM558 80h1v1h-1zM533 81h1v1h-1zM553 81h1v1h-1zM556 81h1v1h-1z"/><path fill="#dfff1f" fill-opacity="1.0" d="M529 76h1v1h-1zM533 76h1v1h-1zM553 76h1v1h-1zM556 76h1v1h-1zM552 77h1v1h-1zM557 79h1v1h-1zM554 80h1v1h-1zM555 80h1v1h-1z"/><path fill="#ffbf00" fill-opacity="1.0" d="M530 76h1v1h-1zM533 77h1v1h-1zM553 77h1v1h-1zM533 78h1v1h-1zM557 78h1v1h-1zM553 79h1v1h-1zM556 79h1v1h-1z"/><path fill="#ff9f00" fill-opacity="1.0" d="M531 76h1v1h-1zM529 77h1v1h-1zM556 77h1v1h-1z"/><path fill="#ffdf00" fill-opacity="1.0" d="M532 76h1v1h-1zM554 76h1v1h-1zM552 78h1v1h-1zM529 79h1v1h-1zM533 79h1v1h-1zM531 80h1v1h-1z"/><path fill="#ffff00" fill-opacity="1.0" d="M555 76h1v1h-1zM557 77h1v1h-1zM530 80h1v1h-1zM532 80h1v1h-1z"/><path fill="#9fff5f" fill-opacity="1.0" d="M557 76h1v1h-1zM528 77h1v1h-1zM558 77h1v1h-1zM534 79h1v1h-1zM529 80h1v1h-1zM533 80h1v1h-1zM556 80h1v1h-1z"/><path fill="#ff3f00" fill-opacity="1.0" d="M530 77h1v1h-1zM532 78h1v1h-1zM554 78h1v1h-1z"/><path fill="#ff0000" fill-opacity="1.0" d="M531 77h1v1h-1zM531 78h1v1h-1z"/><path fill="#ff5f00" fill-opacity="1.0" d="M532 77h1v1h-1zM554 77h1v1h-1zM555 77h1v1h-1zM556 78h1v1h-1zM530 79h1v1h-1zM531 79h1v1h-1z"/><path fill="#bfff3f" fill-opacity="1.0" d="M534 77h1v1h-1zM528 78h1v1h-1zM534 78h1v1h-1zM551 78h1v1h-1zM558 78h1v1h-1zM552 79h1v1h-1zM553 80h1v1h-1z"/><path fill="#ff7f00" fill-opacity="1.0" d="M529 78h1v1h-1zM553 78h1v1h-1zM532 79h1v1h-1zM554 79h1v1h-1zM555 79h1v1h-1z"/><path fill="#ff1f00" fill-opacity="1.0" d="M530 78h1v1h-1zM555 78h1v1h-1z"/></g>
<g shape-rendering="crispEdges"><path fill="#003fff" fill-opacity="0.9" d="M629 73h1v1h-1zM640 73h1v1h-1zM641 73h1v1h-1zM654 73h1v1h-1zM633 74h1v1h-1zM644 74h1v1h-1zM645 74h1v1h-1zM647 74h1v1h-1zM658 74h1v1h-1zM659 74h1v1h-1zM625 75h1v1h-1zM661 75h1v1h-1zM662 76h1v1h-1zM663 77h1v1h-1zM624 78h1v1h-1zM663 80h1v1h-1zM647 81h1v1h-1zM632 82h1v1h-1zM651 82h1v1h-1zM630 83h1v1h-1z"/><path fill="#003fff" fill-opacity="1.0" d="M631 73h1v1h-1zM663 78h1v1h-1zM661 81h1v1h-1zM644 82h1v1h-1zM659 82h1v1h-1z"/><path fill="#001fff" fill-opacity="0.9" d="M635 73h1v1h-1zM651 73h1v1h-1zM660 74h1v1h-1zM664 79h1v1h-1zM625 82h1v1h-1zM634 82h1v1h-1zM637 82h1v1h-1zM648 82h1v1h-1zM649 82h1v1h-1zM650 83h1v1h-1zM654 83h1v1h-1z"/><path fill="#005fff" fill-opacity="1.0" d="M627 74h1v1h-1zM637 74h1v1h-1zM638 74h1v1h-1zM640 74h1v1h-1zM641 74h1v1h-1zM642 74h1v1h-1zM643 74h1v1h-1zM651 74h1v1h-1zM652 74h1v1h-1zM635 75h1v1h-1zM647 75h1v1h-1zM648 75h1v1h-1zM661 76h1v1h-1zM662 78h1v1h-1zM661 80h1v1h-1zM662 80h1v1h-1zM633 81h1v1h-1zM636 81h1v1h-1zM646 81h1v1h-1zM628 82h1v1h-1zM631 82h1v1h-1zM639 82h1v1h-1zM640 82h1v1h-1zM642 82h1v1h-1zM655 82h1v1h-1z"/><path fill="#009fff" fill-opacity="1.0" d="M628 74h1v1h-1zM630 74h1v1h-1zM653 74h1v1h-1zM654 74h1v1h-1zM655 74h1v1h-1zM639 75h1v1h-1zM640 75h1v1h-1zM641 75h1v1h-1zM642 75h1v1h-1zM643 75h1v1h-1zM651 75h1v1h-1zM658 75h1v1h-1zM634 76h1v1h-1zM635 76h1v1h-1zM647 76h1v1h-1zM648 76h1v1h-1zM660 76h1v1h-1zM661 78h1v1h-1zM634 80h1v1h-1zM636 80h1v1h-1zM637 80h1v1h-1zM646 80h1v1h-1zM660 80h1v1h-1zM641 81h1v1h-1zM642 81h1v1h-1zM643 81h1v1h-1zM651 81h1v1h-1zM657 81h1v1h-1z"/><path fill="#009fff" fill-opacity="0.9" d="M629 74h1v1h-1z"/><path fill="#007fff" fill-opacity="1.0" d="M631 74h1v1h-1zM656 74h1v1h-1zM633 75h1v1h-1zM636 75h1v1h-1zM637 75h1v1h-1zM638 75h1v1h-1zM644 75h1v1h-1zM646 75h1v1h-1zM649 75h1v1h-1zM659 75h1v1h-1zM625 77h1v1h-1zM661 77h1v1h-1zM625 78h1v1h-1zM625 79h1v1h-1zM661 79h1v1h-1zM635 80h1v1h-1zM647 80h1v1h-1zM649 80h1v1h-1zM626 81h1v1h-1zM632 81h1v1h-1zM638 81h1v1h-1zM639 81h1v1h-1zM640 81h1v1h-1zM644 81h1v1h-1zM650 81h1v1h-1zM659 81h1v1h-1zM629 82h1v1h-1zM630 82h1v1h-1z"/><path fill="#007fff" fill-opacity="0.9" d="M626 75h1v1h-1zM645 75h1v1h-1zM650 75h1v1h-1zM658 81h1v1h-1z"/><path fill="#00dfff" fill-opacity="1.0" d="M627 75h1v1h-1zM631 75h1v1h-1zM652 75h1v1h-1zM657 75h1v1h-1zM638 76h1v1h-1zM639 76h1v1h-1zM643 76h1v1h-1zM650 76h1v1h-1zM659 76h1v1h-1zM634 77h1v1h-1zM635 77h1v1h-1zM646 77h1v1h-1zM647 77h1v1h-1zM648 77h1v1h-1zM647 78h1v1h-1zM648 78h1v1h-1zM660 78h1v1h-1zM634 79h1v1h-1zM645 79h1v1h-1zM632 80h1v1h-1zM639 80h1v1h-1zM640 80h1v1h-1zM641 80h1v1h-1zM642 80h1v1h-1zM643 80h1v1h-1zM628 81h1v1h-1zM653 81h1v1h-1zM654 81h1v1h-1zM655 81h1v1h-1z"/><path fill="#3fffbf" fill-opacity="1.0" d="M628 75h1v1h-1zM654 75h1v1h-1zM640 77h1v1h-1zM641 77h1v1h-1zM642 77h1v1h-1zM643 77h1v1h-1zM638 78h1v1h-1zM639 78h1v1h-1zM643 78h1v1h-1zM650 78h1v1h-1zM627 80h1v1h-1zM631 80h1v1h-1z"/><path fill="#5fff9f" fill-opacity="1.0" d="M629 75h1v1h-1zM627 76h1v1h-1zM657 76h1v1h-1zM632 77h1v1h-1zM658 77h1v1h-1zM640 78h1v1h-1zM641 78h1v1h-1zM642 78h1v1h-1zM632 79h1v1h-1zM658 79h1v1h-1zM652 80h1v1h-1zM656 80h1v1h-1z"/><path fill="#1fffdf" fill-opacity="1.0" d="M630 75h1v1h-1zM653 75h1v1h-1zM655 75h1v1h-1zM632 76h1v1h-1zM651 76h1v1h-1zM637 77h1v1h-1zM638 77h1v1h-1zM639 77h1v1h-1zM644 77h1v1h-1zM650 77h1v1h-1zM659 77h1v1h-1zM626 78h1v1h-1zM633 78h1v1h-1zM636 78h1v1h-1zM637 78h1v1h-1zM644 78h1v1h-1zM645 78h1v1h-1zM659 78h1v1h-1zM638 79h1v1h-1zM639 79h1v1h-1zM640 79h1v1h-1zM641 79h1v1h-1zM642 79h1v1h-1zM650 79h1v1h-1zM659 79h1v1h-1zM651 80h1v1h-1zM657 80h1v1h-1z"/><path fill="#00bfff" fill-opacity="1.0" d="M632 75h1v1h-1zM626 76h1v1h-1zM633 76h1v1h-1zM636 76h1v1h-1zM637 76h1v1h-1zM644 76h1v1h-1zM645 76h1v1h-1zM646 76h1v1h-1zM649 76h1v1h-1zM660 77h1v1h-1zM635 79h1v1h-1zM636 79h1v1h-1zM646 79h1v1h-1zM647 79h1v1h-1zM648 79h1v1h-1zM649 79h1v1h-1zM660 79h1v1h-1zM626 80h1v1h-1zM633 80h1v1h-1zM638 80h1v1h-1zM644 80h1v1h-1zM645 80h1v1h-1zM650 80h1v1h-1zM659 80h1v1h-1zM627 81h1v1h-1zM631 81h1v1h-1zM652 81h1v1h-1zM656 81h1v1h-1z"/><path fill="#005fff" fill-opacity="0.9" d="M634 75h1v1h-1zM625 76h1v1h-1zM662 77h1v1h-1zM662 79h1v1h-1zM648 80h1v1h-1zM660 81h1v1h-1zM652 82h1v1h-1zM653 82h1v1h-1zM654 82h1v1h-1z"/><path fill="#00ffff" fill-opacity="1.0" d="M656 75h1v1h-1zM640 76h1v1h-1zM641 76h1v1h-1zM642 76h1v1h-1zM658 76h1v1h-1zM626 77h1v1h-1zM633 77h1v1h-1zM636 77h1v1h-1zM645 77h1v1h-1zM649 77h1v1h-1zM634 78h1v1h-1zM635 78h1v1h-1zM646 78h1v1h-1zM649 78h1v1h-1zM626 79h1v1h-1zM633 79h1v1h-1zM637 79h1v1h-1zM643 79h1v1h-1zM644 79h1v1h-1zM658 80h1v1h-1zM629 81h1v1h-1zM630 81h1v1h-1z"/><path fill="#dfff1f" fill-opacity="1.0" d="M628 76h1v1h-1zM630 76h1v1h-1zM654 76h1v1h-1zM655 76h1v1h-1zM627 78h1v1h-1zM631 79h1v1h-1z"/><path fill="#ffff00" fill-opacity="1.0" d="M629 76h1v1h-1zM631 77h1v1h-1zM652 77h1v1h-1zM657 78h1v1h-1zM652 79h1v1h-1zM656 79h1v1h-1z"/><path fill="#7fff7f" fill-opacity="1.0" d="M631 76h1v1h-1zM652 76h1v1h-1zM632 78h1v1h-1zM658 78h1v1h-1zM651 79h1v1h-1zM655 80h1v1h-1z"/><path fill="#bfff3f" fill-opacity="1.0" d="M653 76h1v1h-1zM656 76h1v1h-1zM627 77h1v1h-1zM657 77h1v1h-1zM651 78h1v1h-1zM627 79h1v1h-1zM657 79h1v1h-1zM629 80h1v1h-1z"/><path fill="#ff9f00" fill-opacity="1.0" d="M628 77h1v1h-1zM653 77h1v1h-1zM654 77h1v1h-1zM656 78h1v1h-1zM628 79h1v1h-1zM630 79h1v1h-1zM653 79h1v1h-1zM654 79h1v1h-1z"/><path fill="#ff3f00" fill-opacity="1.0" d="M629 77h1v1h-1z"/><path fill="#ff7f00" fill-opacity="1.0" d="M630 77h1v1h-1zM655 77h1v1h-1z"/><path fill="#9fff5f" fill-opacity="1.0" d="M651 77h1v1h-1zM628 80h1v1h-1zM630 80h1v1h-1zM653 80h1v1h-1zM654 80h1v1h-1z"/><path fill="#ffbf00" fill-opacity="1.0" d="M656 77h1v1h-1zM652 78h1v1h-1zM655 79h1v1h-1z"/><path fill="#ff5f00" fill-opacity="1.0" d="M628 78h1v1h-1zM653 78h1v1h-1zM654 78h1v1h-1zM655 78h1v1h-1zM629 79h1v1h-1z"/><path fill="#ff0000" fill-opacity="1.0" d="M629 78h1v1h-1z"/><path fill="#ff1f00" fill-opacity="1.0" d="M630 78h1v1h-1z"/><path fill="#ffdf00" fill-opacity="1.0" d="M631 78h1v1h-1z"/></g>
<path fill="#3040ff" fill-opacity="0.75" d="M432.9 47.0h.9v.9h-.9zM433.6 49.1h.9v.9h-.9zM432.5 51.6h.9v.9h-.9zM432.5 47.3h.9v.9h-.9zM433.0 45.4h.9v.9h-.9zM433.9 40.3h.9v.9h-.9zM434.2 49.1h.9v.9h-.9zM433.2 48.3h.9v.9h-.9zM433.3 41.1h.9v.9h-.9zM434.4 43.1h.9v.9h-.9zM432.1 45.4h.9v.9h-.9zM433.6 47.9h.9v.9h-.9zM431.8 48.2h.9v.9h-.9zM433.6 49.1h.9v.9h-.9zM431.6 50.8h.9v.9h-.9zM433.6 51.2h.9v.9h-.9zM433.2 43.4h.9v.9h-.9zM434.3 50.0h.9v.9h-.9zM434.2 48.0h.9v.9h-.9zM433.2 45.7h.9v.9h-.9zM433.0 48.6h.9v.9h-.9zM433.2 48.1h.9v.9h-.9zM436.6 50.4h.9v.9h-.9zM435.1 47.7h.9v.9h-.9zM434.6 51.0h.9v.9h-.9zM434.7 50.0h.9v.9h-.9zM434.4 57.9h.9v.9h-.9zM436.9 46.6h.9v.9h-.9zM435.9 50.0h.9v.9h-.9zM434.8 38.7h.9v.9h-.9zM434.5 40.5h.9v.9h-.9zM436.4 64.2h.9v.9h-.9zM434.5 64.1h.9v.9h-.9zM439.7 63.1h.9v.9h-.9zM436.9 61.7h.9v.9h-.9zM434.2 69.7h.9v.9h-.9zM434.4 68.9h.9v.9h-.9zM433.6 68.4h.9v.9h-.9zM441.4 71.2h.9v.9h-.9zM433.7 63.0h.9v.9h-.9zM433.9 65.6h.9v.9h-.9zM452.3 60.7h.9v.9h-.9zM443.3 55.6h.9v.9h-.9zM444.1 57.6h.9v.9h-.9zM444.3 67.9h.9v.9h-.9zM438.8 61.4h.9v.9h-.9z"/>
<path fill="#3040ff" fill-opacity="0.75" d="M531.8 51.6h.9v.9h-.9zM529.5 54.4h.9v.9h-.9zM530.1 49.9h.9v.9h-.9zM529.4 51.7h.9v.9h-.9zM530.2 50.4h.9v.9h-.9zM533.3 47.7h.9v.9h-.9zM530.1 51.7h.9v.9h-.9zM532.9 49.3h.9v.9h-.9zM527.3 51.0h.9v.9h-.9zM531.2 50.1h.9v.9h-.9zM529.9 52.7h.9v.9h-.9zM528.7 50.5h.9v.9h-.9zM529.1 49.7h.9v.9h-.9zM531.3 50.8h.9v.9h-.9zM528.9 46.1h.9v.9h-.9zM531.9 56.6h.9v.9h-.9zM527.0 45.1h.9v.9h-.9zM534.8 51.7h.9v.9h-.9zM534.0 49.1h.9v.9h-.9zM529.4 54.6h.9v.9h-.9zM529.8 66.6h.9v.9h-.9zM527.9 65.4h.9v.9h-.9zM535.5 68.4h.9v.9h-.9zM531.2 70.8h.9v.9h-.9zM537.5 70.2h.9v.9h-.9zM534.2 69.0h.9v.9h-.9zM528.8 64.7h.9v.9h-.9zM533.2 69.4h.9v.9h-.9zM532.0 67.2h.9v.9h-.9zM552.6 64.1h.9v.9h-.9zM546.2 67.9h.9v.9h-.9zM551.4 68.3h.9v.9h-.9zM545.9 67.4h.9v.9h-.9z"/>
<path fill="#3040ff" fill-opacity="0.75" d="M627.6 44.9h.9v.9h-.9zM628.2 46.7h.9v.9h-.9zM627.6 49.0h.9v.9h-.9zM627.6 50.8h.9v.9h-.9zM629.3 48.8h.9v.9h-.9zM629.0 41.4h.9v.9h-.9zM630.4 47.7h.9v.9h-.9zM628.5 48.8h.9v.9h-.9zM628.3 41.9h.9v.9h-.9zM629.8 39.8h.9v.9h-.9zM628.5 43.1h.9v.9h-.9zM629.2 47.2h.9v.9h-.9zM629.9 43.6h.9v.9h-.9zM628.2 53.8h.9v.9h-.9zM630.3 47.2h.9v.9h-.9zM626.5 47.0h.9v.9h-.9zM629.3 44.4h.9v.9h-.9zM628.5 42.8h.9v.9h-.9zM629.6 50.0h.9v.9h-.9zM629.8 43.5h.9v.9h-.9zM630.5 51.6h.9v.9h-.9zM628.6 50.0h.9v.9h-.9zM629.4 50.7h.9v.9h-.9zM630.8 51.1h.9v.9h-.9zM633.2 49.6h.9v.9h-.9zM631.3 50.5h.9v.9h-.9zM628.4 47.4h.9v.9h-.9zM629.6 54.7h.9v.9h-.9zM628.2 52.1h.9v.9h-.9zM627.3 61.4h.9v.9h-.9zM629.1 65.9h.9v.9h-.9zM625.1 67.4h.9v.9h-.9zM631.2 67.9h.9v.9h-.9zM636.3 67.0h.9v.9h-.9zM631.4 69.9h.9v.9h-.9zM628.5 62.7h.9v.9h-.9zM636.1 69.3h.9v.9h-.9zM633.9 62.2h.9v.9h-.9zM641.2 58.2h.9v.9h-.9zM643.5 65.9h.9v.9h-.9zM645.9 63.6h.9v.9h-.9zM640.9 61.3h.9v.9h-.9z"/>
<g shape-rendering="crispEdges"><path fill="#001fff" fill-opacity="0.9" d="M438 177h1v1h-1zM439 177h1v1h-1zM433 178h1v1h-1zM437 178h1v1h-1zM427 180h1v1h-1zM442 180h1v1h-1zM448 180h1v1h-1zM455 180h1v1h-1zM444 181h1v1h-1zM447 181h1v1h-1zM448 181h1v1h-1zM450 181h1v1h-1zM464 181h1v1h-1zM425 182h1v1h-1zM426 182h1v1h-1zM451 182h1v1h-1zM457 182h1v1h-1zM462 182h1v1h-1zM454 183h1v1h-1zM462 183h1v1h-1zM464 183h1v1h-1zM424 184h1v1h-1zM456 184h1v1h-1zM457 184h1v1h-1zM459 184h1v1h-1zM425 185h1v1h-1zM456 185h1v1h-1zM460 185h1v1h-1zM461 185h1v1h-1zM462 185h1v1h-1zM455 186h1v1h-1zM458 186h1v1h-1zM459 186h1v1h-1zM460 186h1v1h-1zM461 186h1v1h-1zM463 186h1v1h-1zM455 187h1v1h-1zM457 187h1v1h-1zM427 188h1v1h-1zM446 188h1v1h-1zM448 188h1v1h-1zM453 188h1v1h-1zM459 188h1v1h-1zM460 188h1v1h-1zM461 188h1v1h-1zM462 188h1v1h-1zM426 189h1v1h-1zM428 189h1v1h-1zM444 189h1v1h-1zM447 189h1v1h-1zM451 189h1v1h-1zM457 189h1v1h-1zM428 190h1v1h-1zM429 190h1v1h-1zM440 190h1v1h-1zM441 190h1v1h-1zM442 190h1v1h-1zM450 190h1v1h-1zM455 190h1v1h-1zM433 191h1v1h-1zM437 191h1v1h-1zM430 192h1v1h-1zM428 193h1v1h-1zM457 193h1v1h-1z"/><path fill="#003fff" fill-opacity="0.9" d="M436 178h1v1h-1zM433 179h1v1h-1zM429 180h1v1h-1zM441 180h1v1h-1zM428 181h1v1h-1zM427 182h1v1h-1zM447 182h1v1h-1zM449 182h1v1h-1zM443 185h1v1h-1zM444 185h1v1h-1zM449 185h1v1h-1zM450 185h1v1h-1zM445 186h1v1h-1zM446 186h1v1h-1zM448 186h1v1h-1zM452 186h1v1h-1zM454 186h1v1h-1zM443 187h1v1h-1zM428 188h1v1h-1zM442 188h1v1h-1zM443 188h1v1h-1zM445 188h1v1h-1zM451 188h1v1h-1zM452 188h1v1h-1zM430 190h1v1h-1zM436 190h1v1h-1z"/><path fill="#003fff" fill-opacity="1.0" d="M431 179h1v1h-1zM432 179h1v1h-1zM438 179h1v1h-1zM440 180h1v1h-1zM441 181h1v1h-1zM446 181h1v1h-1zM442 182h1v1h-1zM443 182h1v1h-1zM444 182h1v1h-1zM445 182h1v1h-1zM446 182h1v1h-1zM448 182h1v1h-1zM444 183h1v1h-1zM445 183h1v1h-1zM446 183h1v1h-1zM447 183h1v1h-1zM448 183h1v1h-1zM449 183h1v1h-1zM450 183h1v1h-1zM451 183h1v1h-1zM452 183h1v1h-1zM444 184h1v1h-1zM445 184h1v1h-1zM446 184h1v1h-1zM447 184h1v1h-1zM448 184h1v1h-1zM449 184h1v1h-1zM450 184h1v1h-1zM451 184h1v1h-1zM452 184h1v1h-1zM453 184h1v1h-1zM427 185h1v1h-1zM445 185h1v1h-1zM446 185h1v1h-1zM447 185h1v1h-1zM448 185h1v1h-1zM451 185h1v1h-1zM452 185h1v1h-1zM453 185h1v1h-1zM454 185h1v1h-1zM427 186h1v1h-1zM444 186h1v1h-1zM447 186h1v1h-1zM449 186h1v1h-1zM450 186h1v1h-1zM451 186h1v1h-1zM453 186h1v1h-1zM427 187h1v1h-1zM444 187h1v1h-1zM445 187h1v1h-1zM446 187h1v1h-1zM447 187h1v1h-1zM449 187h1v1h-1zM450 187h1v1h-1zM451 187h1v1h-1zM452 187h1v1h-1zM453 187h1v1h-1zM441 188h1v1h-1zM444 188h1v1h-1zM449 188h1v1h-1zM450 188h1v1h-1zM429 189h1v1h-1zM441 189h1v1h-1zM442 189h1v1h-1zM443 189h1v1h-1zM431 190h1v1h-1zM432 190h1v1h-1zM437 190h1v1h-1zM438 190h1v1h-1z"/><path fill="#005fff" fill-opacity="0.9" d="M434 179h1v1h-1zM437 179h1v1h-1z"/><path fill="#005fff" fill-opacity="1.0" d="M435 179h1v1h-1zM436 179h1v1h-1zM430 180h1v1h-1zM439 180h1v1h-1zM429 181h1v1h-1zM428 182h1v1h-1zM441 182h1v1h-1zM427 183h1v1h-1zM442 183h1v1h-1zM443 183h1v1h-1zM427 184h1v1h-1zM442 184h1v1h-1zM443 184h1v1h-1zM442 186h1v1h-1zM428 187h1v1h-1zM441 187h1v1h-1zM442 187h1v1h-1zM429 188h1v1h-1zM430 189h1v1h-1zM439 189h1v1h-1zM433 190h1v1h-1zM434 190h1v1h-1zM435 190h1v1h-1z"/><path fill="#001fff" fill-opacity="1.0" d="M428 180h1v1h-1zM449 181h1v1h-1zM424 182h1v1h-1zM452 182h1v1h-1zM457 185h1v1h-1zM456 186h1v1h-1zM425 187h1v1h-1zM459 187h1v1h-1zM454 188h1v1h-1zM452 189h1v1h-1zM462 190h1v1h-1z"/><path fill="#007fff" fill-opacity="1.0" d="M431 180h1v1h-1zM432 180h1v1h-1zM433 180h1v1h-1zM438 180h1v1h-1zM430 181h1v1h-1zM440 181h1v1h-1zM428 183h1v1h-1zM441 183h1v1h-1zM428 184h1v1h-1zM442 185h1v1h-1zM428 186h1v1h-1zM429 187h1v1h-1zM440 188h1v1h-1zM431 189h1v1h-1zM432 189h1v1h-1zM437 189h1v1h-1zM438 189h1v1h-1z"/><path fill="#009fff" fill-opacity="1.0" d="M434 180h1v1h-1zM437 180h1v1h-1zM431 181h1v1h-1zM439 181h1v1h-1zM429 182h1v1h-1zM440 182h1v1h-1zM441 184h1v1h-1zM441 185h1v1h-1zM429 186h1v1h-1zM441 186h1v1h-1zM440 187h1v1h-1zM430 188h1v1h-1zM431 188h1v1h-1zM439 188h1v1h-1zM433 189h1v1h-1zM434 189h1v1h-1zM435 189h1v1h-1zM436 189h1v1h-1z"/><path fill="#00bfff" fill-opacity="1.0" d="M435 180h1v1h-1zM436 180h1v1h-1zM432 181h1v1h-1zM430 182h1v1h-1zM429 183h1v1h-1zM429 184h1v1h-1zM429 185h1v1h-1zM430 187h1v1h-1zM432 188h1v1h-1zM438 188h1v1h-1z"/><path fill="#00ffff" fill-opacity="1.0" d="M433 181h1v1h-1zM431 182h1v1h-1zM439 182h1v1h-1zM430 183h1v1h-1zM440 184h1v1h-1zM430 185h1v1h-1zM440 185h1v1h-1zM434 188h1v1h-1zM436 188h1v1h-1z"/><path fill="#1fffdf" fill-opacity="1.0" d="M434 181h1v1h-1zM437 181h1v1h-1zM430 184h1v1h-1zM431 186h1v1h-1zM439 186h1v1h-1zM432 187h1v1h-1zM438 187h1v1h-1zM435 188h1v1h-1z"/><path fill="#3fffbf" fill-opacity="1.0" d="M435 181h1v1h-1zM436 181h1v1h-1zM432 182h1v1h-1zM431 183h1v1h-1z"/><path fill="#00dfff" fill-opacity="1.0" d="M438 181h1v1h-1zM440 183h1v1h-1zM430 186h1v1h-1zM440 186h1v1h-1zM431 187h1v1h-1zM439 187h1v1h-1zM433 188h1v1h-1zM437 188h1v1h-1z"/><path fill="#7fff7f" fill-opacity="1.0" d="M433 182h1v1h-1zM439 184h1v1h-1zM437 187h1v1h-1z"/><path fill="#bfff3f" fill-opacity="1.0" d="M434 182h1v1h-1zM436 182h1v1h-1zM438 183h1v1h-1zM435 187h1v1h-1zM436 187h1v1h-1z"/><path fill="#dfff1f" fill-opacity="1.0" d="M435 182h1v1h-1zM432 184h1v1h-1zM432 185h1v1h-1zM438 185h1v1h-1z"/><path fill="#9fff5f" fill-opacity="1.0" d="M437 182h1v1h-1zM432 183h1v1h-1zM432 186h1v1h-1zM438 186h1v1h-1zM434 187h1v1h-1z"/><path fill="#5fff9f" fill-opacity="1.0" d="M438 182h1v1h-1zM439 183h1v1h-1zM431 184h1v1h-1zM431 185h1v1h-1zM439 185h1v1h-1zM433 187h1v1h-1z"/><path fill="#ffdf00" fill-opacity="1.0" d="M433 183h1v1h-1zM437 183h1v1h-1zM437 186h1v1h-1z"/><path fill="#ff9f00" fill-opacity="1.0" d="M434 183h1v1h-1zM436 183h1v1h-1zM433 185h1v1h-1zM434 186h1v1h-1z"/><path fill="#ff7f00" fill-opacity="1.0" d="M435 183h1v1h-1zM433 184h1v1h-1zM437 184h1v1h-1zM437 185h1v1h-1zM436 186h1v1h-1z"/><path fill="#ff3f00" fill-opacity="1.0" d="M434 184h1v1h-1zM434 185h1v1h-1z"/><path fill="#ff0000" fill-opacity="1.0" d="M435 184h1v1h-1zM435 185h1v1h-1z"/><path fill="#ff1f00" fill-opacity="1.0" d="M436 184h1v1h-1zM436 185h1v1h-1z"/><path fill="#ffff00" fill-opacity="1.0" d="M438 184h1v1h-1zM433 186h1v1h-1z"/><path fill="#007fff" fill-opacity="0.9" d="M428 185h1v1h-1z"/><path fill="#ff5f00" fill-opacity="1.0" d="M435 186h1v1h-1z"/></g>
<g shape-rendering="crispEdges"><path fill="#001fff" fill-opacity="0.9" d="M531 176h1v1h-1zM536 176h1v1h-1zM529 177h1v1h-1zM522 178h1v1h-1zM530 178h1v1h-1zM532 178h1v1h-1zM523 179h1v1h-1zM525 179h1v1h-1zM527 179h1v1h-1zM537 179h1v1h-1zM555 179h1v1h-1zM525 180h1v1h-1zM521 181h1v1h-1zM524 181h1v1h-1zM540 181h1v1h-1zM541 181h1v1h-1zM543 181h1v1h-1zM545 181h1v1h-1zM521 182h1v1h-1zM544 182h1v1h-1zM547 182h1v1h-1zM550 182h1v1h-1zM551 182h1v1h-1zM552 183h1v1h-1zM521 184h1v1h-1zM553 184h1v1h-1zM556 184h1v1h-1zM522 185h1v1h-1zM552 185h1v1h-1zM553 186h1v1h-1zM554 186h1v1h-1zM555 186h1v1h-1zM557 186h1v1h-1zM559 186h1v1h-1zM522 187h1v1h-1zM550 187h1v1h-1zM552 187h1v1h-1zM554 187h1v1h-1zM558 187h1v1h-1zM559 187h1v1h-1zM523 188h1v1h-1zM549 188h1v1h-1zM551 188h1v1h-1zM561 188h1v1h-1zM542 189h1v1h-1zM543 189h1v1h-1zM547 189h1v1h-1zM556 189h1v1h-1zM523 190h1v1h-1zM524 190h1v1h-1zM528 190h1v1h-1zM534 190h1v1h-1zM541 190h1v1h-1zM544 190h1v1h-1zM534 191h1v1h-1zM546 191h1v1h-1z"/><path fill="#001fff" fill-opacity="1.0" d="M526 179h1v1h-1zM544 181h1v1h-1zM549 183h1v1h-1zM557 185h1v1h-1zM522 186h1v1h-1zM552 186h1v1h-1zM522 188h1v1h-1zM524 188h1v1h-1zM548 189h1v1h-1zM549 189h1v1h-1zM533 191h1v1h-1z"/><path fill="#003fff" fill-opacity="0.9" d="M529 179h1v1h-1zM533 179h1v1h-1zM526 180h1v1h-1zM536 180h1v1h-1zM538 181h1v1h-1zM539 181h1v1h-1zM523 182h1v1h-1zM544 183h1v1h-1zM523 184h1v1h-1zM548 184h1v1h-1zM550 184h1v1h-1zM551 185h1v1h-1zM544 186h1v1h-1zM547 186h1v1h-1zM524 187h1v1h-1zM546 187h1v1h-1zM549 187h1v1h-1zM525 188h1v1h-1zM545 188h1v1h-1zM526 189h1v1h-1zM528 189h1v1h-1zM537 189h1v1h-1zM532 190h1v1h-1z"/><path fill="#003fff" fill-opacity="1.0" d="M530 179h1v1h-1zM532 179h1v1h-1zM534 179h1v1h-1zM535 179h1v1h-1zM527 180h1v1h-1zM524 182h1v1h-1zM540 182h1v1h-1zM541 182h1v1h-1zM542 182h1v1h-1zM523 183h1v1h-1zM541 183h1v1h-1zM543 183h1v1h-1zM545 183h1v1h-1zM547 183h1v1h-1zM550 183h1v1h-1zM522 184h1v1h-1zM544 184h1v1h-1zM545 184h1v1h-1zM546 184h1v1h-1zM547 184h1v1h-1zM549 184h1v1h-1zM551 184h1v1h-1zM544 185h1v1h-1zM546 185h1v1h-1zM547 185h1v1h-1zM548 185h1v1h-1zM549 185h1v1h-1zM550 185h1v1h-1zM523 186h1v1h-1zM542 186h1v1h-1zM543 186h1v1h-1zM545 186h1v1h-1zM546 186h1v1h-1zM548 186h1v1h-1zM549 186h1v1h-1zM550 186h1v1h-1zM523 187h1v1h-1zM540 187h1v1h-1zM542 187h1v1h-1zM543 187h1v1h-1zM544 187h1v1h-1zM545 187h1v1h-1zM548 187h1v1h-1zM541 188h1v1h-1zM542 188h1v1h-1zM543 188h1v1h-1zM544 188h1v1h-1zM546 188h1v1h-1zM547 188h1v1h-1zM548 188h1v1h-1zM527 189h1v1h-1zM536 189h1v1h-1zM530 190h1v1h-1zM531 190h1v1h-1z"/><path fill="#005fff" fill-opacity="1.0" d="M528 180h1v1h-1zM529 180h1v1h-1zM535 180h1v1h-1zM526 181h1v1h-1zM537 181h1v1h-1zM525 182h1v1h-1zM538 182h1v1h-1zM539 182h1v1h-1zM539 183h1v1h-1zM540 183h1v1h-1zM542 183h1v1h-1zM524 184h1v1h-1zM540 184h1v1h-1zM541 184h1v1h-1zM542 184h1v1h-1zM543 184h1v1h-1zM524 185h1v1h-1zM540 185h1v1h-1zM541 185h1v1h-1zM542 185h1v1h-1zM543 185h1v1h-1zM524 186h1v1h-1zM525 186h1v1h-1zM540 186h1v1h-1zM541 186h1v1h-1zM525 187h1v1h-1zM538 187h1v1h-1zM539 187h1v1h-1zM541 187h1v1h-1zM526 188h1v1h-1zM527 188h1v1h-1zM537 188h1v1h-1zM529 189h1v1h-1zM530 189h1v1h-1zM533 189h1v1h-1z"/><path fill="#007fff" fill-opacity="1.0" d="M530 180h1v1h-1zM531 180h1v1h-1zM532 180h1v1h-1zM533 180h1v1h-1zM534 180h1v1h-1zM527 181h1v1h-1zM536 181h1v1h-1zM526 182h1v1h-1zM525 183h1v1h-1zM538 183h1v1h-1zM525 184h1v1h-1zM539 184h1v1h-1zM525 185h1v1h-1zM539 185h1v1h-1zM539 186h1v1h-1zM526 187h1v1h-1zM528 188h1v1h-1zM536 188h1v1h-1zM531 189h1v1h-1zM532 189h1v1h-1z"/><path fill="#007fff" fill-opacity="0.9" d="M528 181h1v1h-1z"/><path fill="#00bfff" fill-opacity="1.0" d="M529 181h1v1h-1zM535 181h1v1h-1zM526 184h1v1h-1zM538 185h1v1h-1zM527 186h1v1h-1zM528 187h1v1h-1zM530 188h1v1h-1zM535 188h1v1h-1z"/><path fill="#00dfff" fill-opacity="1.0" d="M530 181h1v1h-1zM528 182h1v1h-1zM536 182h1v1h-1zM527 183h1v1h-1zM537 183h1v1h-1zM527 185h1v1h-1zM537 186h1v1h-1zM536 187h1v1h-1zM531 188h1v1h-1zM532 188h1v1h-1zM533 188h1v1h-1zM534 188h1v1h-1z"/><path fill="#00ffff" fill-opacity="1.0" d="M531 181h1v1h-1zM533 181h1v1h-1zM534 181h1v1h-1zM527 184h1v1h-1zM537 184h1v1h-1zM537 185h1v1h-1zM528 186h1v1h-1zM529 187h1v1h-1z"/><path fill="#1fffdf" fill-opacity="1.0" d="M532 181h1v1h-1zM529 182h1v1h-1zM528 183h1v1h-1z"/><path fill="#009fff" fill-opacity="1.0" d="M527 182h1v1h-1zM537 182h1v1h-1zM526 183h1v1h-1zM538 184h1v1h-1zM526 185h1v1h-1zM526 186h1v1h-1zM538 186h1v1h-1zM527 187h1v1h-1zM537 187h1v1h-1zM529 188h1v1h-1z"/><path fill="#5fff9f" fill-opacity="1.0" d="M530 182h1v1h-1zM528 184h1v1h-1zM529 186h1v1h-1z"/><path fill="#bfff3f" fill-opacity="1.0" d="M531 182h1v1h-1zM532 182h1v1h-1zM533 182h1v1h-1zM535 183h1v1h-1zM529 185h1v1h-1z"/><path fill="#7fff7f" fill-opacity="1.0" d="M534 182h1v1h-1zM529 183h1v1h-1zM536 184h1v1h-1zM536 185h1v1h-1zM531 187h1v1h-1zM534 187h1v1h-1z"/><path fill="#3fffbf" fill-opacity="1.0" d="M535 182h1v1h-1zM536 183h1v1h-1zM528 185h1v1h-1zM536 186h1v1h-1zM530 187h1v1h-1zM535 187h1v1h-1z"/><path fill="#005fff" fill-opacity="0.9" d="M524 183h1v1h-1z"/><path fill="#ffff00" fill-opacity="1.0" d="M530 183h1v1h-1zM534 186h1v1h-1z"/><path fill="#ff9f00" fill-opacity="1.0" d="M531 183h1v1h-1zM530 184h1v1h-1zM532 186h1v1h-1z"/><path fill="#ff5f00" fill-opacity="1.0" d="M532 183h1v1h-1zM534 184h1v1h-1zM531 185h1v1h-1z"/><path fill="#ff7f00" fill-opacity="1.0" d="M533 183h1v1h-1zM534 185h1v1h-1z"/><path fill="#ffdf00" fill-opacity="1.0" d="M534 183h1v1h-1zM535 184h1v1h-1zM535 185h1v1h-1z"/><path fill="#dfff1f" fill-opacity="1.0" d="M529 184h1v1h-1zM530 186h1v1h-1z"/><path fill="#ff3f00" fill-opacity="1.0" d="M531 184h1v1h-1z"/><path fill="#ff0000" fill-opacity="1.0" d="M532 184h1v1h-1zM533 184h1v1h-1z"/><path fill="#ffbf00" fill-opacity="1.0" d="M530 185h1v1h-1zM531 186h1v1h-1zM533 186h1v1h-1z"/><path fill="#ff1f00" fill-opacity="1.0" d="M532 185h1v1h-1zM533 185h1v1h-1z"/><path fill="#9fff5f" fill-opacity="1.0" d="M535 186h1v1h-1zM532 187h1v1h-1zM533 187h1v1h-1z"/></g>
<g shape-rendering="crispEdges"><path fill="#001fff" fill-opacity="0.9" d="M625 179h1v1h-1zM628 179h1v1h-1zM629 179h1v1h-1zM624 180h1v1h-1zM639 180h1v1h-1zM646 180h1v1h-1zM620 181h1v1h-1zM622 181h1v1h-1zM647 181h1v1h-1zM651 181h1v1h-1zM652 181h1v1h-1zM654 181h1v1h-1zM620 182h1v1h-1zM651 182h1v1h-1zM652 182h1v1h-1zM653 182h1v1h-1zM619 184h1v1h-1zM620 184h1v1h-1zM656 184h1v1h-1zM619 185h1v1h-1zM620 185h1v1h-1zM655 185h1v1h-1zM619 186h1v1h-1zM659 186h1v1h-1zM621 187h1v1h-1zM656 187h1v1h-1zM659 187h1v1h-1zM652 188h1v1h-1zM654 188h1v1h-1zM621 189h1v1h-1zM622 189h1v1h-1zM623 189h1v1h-1zM624 189h1v1h-1zM634 189h1v1h-1zM640 189h1v1h-1zM647 189h1v1h-1zM648 189h1v1h-1zM650 189h1v1h-1zM651 189h1v1h-1zM652 189h1v1h-1zM656 189h1v1h-1zM661 189h1v1h-1zM631 190h1v1h-1zM648 190h1v1h-1zM651 190h1v1h-1zM653 190h1v1h-1zM630 191h1v1h-1zM651 191h1v1h-1zM654 191h1v1h-1z"/><path fill="#003fff" fill-opacity="0.9" d="M626 180h1v1h-1zM627 180h1v1h-1zM632 180h1v1h-1zM633 180h1v1h-1zM623 181h1v1h-1zM635 181h1v1h-1zM644 182h1v1h-1zM647 182h1v1h-1zM648 182h1v1h-1zM621 184h1v1h-1zM649 184h1v1h-1zM651 184h1v1h-1zM653 185h1v1h-1zM621 186h1v1h-1zM654 186h1v1h-1zM650 187h1v1h-1zM635 188h1v1h-1zM636 188h1v1h-1zM637 188h1v1h-1zM641 188h1v1h-1zM649 188h1v1h-1zM650 188h1v1h-1zM625 189h1v1h-1zM627 189h1v1h-1zM631 189h1v1h-1zM633 189h1v1h-1zM644 189h1v1h-1z"/><path fill="#005fff" fill-opacity="1.0" d="M628 180h1v1h-1zM631 180h1v1h-1zM625 181h1v1h-1zM634 181h1v1h-1zM623 182h1v1h-1zM636 182h1v1h-1zM637 182h1v1h-1zM638 182h1v1h-1zM639 182h1v1h-1zM640 182h1v1h-1zM641 182h1v1h-1zM642 182h1v1h-1zM643 182h1v1h-1zM622 183h1v1h-1zM644 183h1v1h-1zM645 183h1v1h-1zM646 183h1v1h-1zM647 183h1v1h-1zM648 183h1v1h-1zM622 184h1v1h-1zM648 184h1v1h-1zM622 185h1v1h-1zM648 185h1v1h-1zM649 185h1v1h-1zM622 186h1v1h-1zM623 186h1v1h-1zM648 186h1v1h-1zM649 186h1v1h-1zM639 187h1v1h-1zM640 187h1v1h-1zM641 187h1v1h-1zM643 187h1v1h-1zM644 187h1v1h-1zM645 187h1v1h-1zM646 187h1v1h-1zM647 187h1v1h-1zM648 187h1v1h-1zM624 188h1v1h-1zM625 188h1v1h-1zM633 188h1v1h-1zM634 188h1v1h-1zM629 189h1v1h-1zM630 189h1v1h-1z"/><path fill="#005fff" fill-opacity="0.9" d="M629 180h1v1h-1zM630 180h1v1h-1zM638 187h1v1h-1z"/><path fill="#003fff" fill-opacity="1.0" d="M640 180h1v1h-1zM624 181h1v1h-1zM637 181h1v1h-1zM638 181h1v1h-1zM639 181h1v1h-1zM640 181h1v1h-1zM641 181h1v1h-1zM644 181h1v1h-1zM622 182h1v1h-1zM646 182h1v1h-1zM621 183h1v1h-1zM652 184h1v1h-1zM621 185h1v1h-1zM650 185h1v1h-1zM651 185h1v1h-1zM652 185h1v1h-1zM654 185h1v1h-1zM650 186h1v1h-1zM651 186h1v1h-1zM652 186h1v1h-1zM653 186h1v1h-1zM655 186h1v1h-1zM623 187h1v1h-1zM649 187h1v1h-1zM651 187h1v1h-1zM638 188h1v1h-1zM639 188h1v1h-1zM640 188h1v1h-1zM642 188h1v1h-1zM643 188h1v1h-1zM644 188h1v1h-1zM645 188h1v1h-1zM646 188h1v1h-1zM647 188h1v1h-1zM651 188h1v1h-1zM628 189h1v1h-1zM643 189h1v1h-1z"/><path fill="#007fff" fill-opacity="1.0" d="M626 181h1v1h-1zM633 181h1v1h-1zM624 182h1v1h-1zM635 182h1v1h-1zM623 183h1v1h-1zM637 183h1v1h-1zM638 183h1v1h-1zM639 183h1v1h-1zM640 183h1v1h-1zM641 183h1v1h-1zM642 183h1v1h-1zM643 183h1v1h-1zM623 184h1v1h-1zM643 184h1v1h-1zM644 184h1v1h-1zM645 184h1v1h-1zM646 184h1v1h-1zM647 184h1v1h-1zM623 185h1v1h-1zM642 185h1v1h-1zM643 185h1v1h-1zM644 185h1v1h-1zM645 185h1v1h-1zM646 185h1v1h-1zM647 185h1v1h-1zM637 186h1v1h-1zM638 186h1v1h-1zM639 186h1v1h-1zM640 186h1v1h-1zM641 186h1v1h-1zM642 186h1v1h-1zM643 186h1v1h-1zM644 186h1v1h-1zM645 186h1v1h-1zM646 186h1v1h-1zM647 186h1v1h-1zM624 187h1v1h-1zM636 187h1v1h-1zM637 187h1v1h-1zM642 187h1v1h-1zM626 188h1v1h-1zM627 188h1v1h-1z"/><path fill="#009fff" fill-opacity="1.0" d="M627 181h1v1h-1zM628 181h1v1h-1zM632 181h1v1h-1zM625 182h1v1h-1zM624 183h1v1h-1zM636 183h1v1h-1zM624 184h1v1h-1zM636 184h1v1h-1zM637 184h1v1h-1zM638 184h1v1h-1zM639 184h1v1h-1zM640 184h1v1h-1zM641 184h1v1h-1zM642 184h1v1h-1zM624 185h1v1h-1zM637 185h1v1h-1zM638 185h1v1h-1zM639 185h1v1h-1zM640 185h1v1h-1zM641 185h1v1h-1zM624 186h1v1h-1zM636 186h1v1h-1zM625 187h1v1h-1zM634 187h1v1h-1zM628 188h1v1h-1zM629 188h1v1h-1zM632 188h1v1h-1z"/><path fill="#00bfff" fill-opacity="1.0" d="M629 181h1v1h-1zM631 181h1v1h-1zM626 182h1v1h-1zM634 182h1v1h-1zM625 183h1v1h-1zM635 183h1v1h-1zM636 185h1v1h-1zM625 186h1v1h-1zM635 186h1v1h-1zM626 187h1v1h-1zM630 188h1v1h-1zM631 188h1v1h-1z"/><path fill="#00dfff" fill-opacity="1.0" d="M630 181h1v1h-1zM625 184h1v1h-1zM635 184h1v1h-1zM625 185h1v1h-1zM635 185h1v1h-1zM627 187h1v1h-1zM633 187h1v1h-1z"/><path fill="#001fff" fill-opacity="1.0" d="M650 181h1v1h-1zM649 182h1v1h-1zM656 182h1v1h-1zM650 183h1v1h-1zM654 183h1v1h-1zM654 184h1v1h-1zM657 185h1v1h-1zM656 186h1v1h-1zM653 187h1v1h-1zM622 188h1v1h-1z"/><path fill="#00ffff" fill-opacity="1.0" d="M627 182h1v1h-1zM633 182h1v1h-1zM626 186h1v1h-1zM634 186h1v1h-1z"/><path fill="#1fffdf" fill-opacity="1.0" d="M628 182h1v1h-1zM626 183h1v1h-1zM634 183h1v1h-1zM628 187h1v1h-1zM632 187h1v1h-1z"/><path fill="#5fff9f" fill-opacity="1.0" d="M629 182h1v1h-1zM634 184h1v1h-1zM634 185h1v1h-1zM627 186h1v1h-1z"/><path fill="#9fff5f" fill-opacity="1.0" d="M630 182h1v1h-1z"/><path fill="#7fff7f" fill-opacity="1.0" d="M631 182h1v1h-1zM627 183h1v1h-1zM633 183h1v1h-1zM633 186h1v1h-1zM630 187h1v1h-1zM631 187h1v1h-1z"/><path fill="#3fffbf" fill-opacity="1.0" d="M632 182h1v1h-1zM626 184h1v1h-1zM626 185h1v1h-1zM629 187h1v1h-1z"/><path fill="#bfff3f" fill-opacity="1.0" d="M628 183h1v1h-1zM627 184h1v1h-1zM627 185h1v1h-1zM628 186h1v1h-1z"/><path fill="#ffdf00" fill-opacity="1.0" d="M629 183h1v1h-1zM629 186h1v1h-1z"/><path fill="#ff9f00" fill-opacity="1.0" d="M630 183h1v1h-1zM631 183h1v1h-1zM630 186h1v1h-1z"/><path fill="#ffff00" fill-opacity="1.0" d="M632 183h1v1h-1zM632 186h1v1h-1z"/><path fill="#ffbf00" fill-opacity="1.0" d="M628 184h1v1h-1zM628 185h1v1h-1zM631 186h1v1h-1z"/><path fill="#ff3f00" fill-opacity="1.0" d="M629 184h1v1h-1zM629 185h1v1h-1z"/><path fill="#ff0000" fill-opacity="1.0" d="M630 184h1v1h-1zM630 185h1v1h-1z"/><path fill="#ff1f00" fill-opacity="1.0" d="M631 184h1v1h-1zM631 185h1v1h-1z"/><path fill="#ff7f00" fill-opacity="1.0" d="M632 184h1v1h-1zM632 185h1v1h-1z"/><path fill="#dfff1f" fill-opacity="1.0" d="M633 184h1v1h-1zM633 185h1v1h-1z"/><path fill="#007fff" fill-opacity="0.9" d="M635 187h1v1h-1z"/></g>
<path fill="#3040ff" fill-opacity="0.75" d="M446.0 160.5h.9v.9h-.9zM447.9 161.5h.9v.9h-.9zM446.2 160.5h.9v.9h-.9zM445.5 164.1h.9v.9h-.9zM446.9 167.4h.9v.9h-.9zM444.8 165.0h.9v.9h-.9zM446.1 163.9h.9v.9h-.9zM443.5 162.1h.9v.9h-.9zM451.7 158.6h.9v.9h-.9zM448.1 157.2h.9v.9h-.9zM448.1 161.8h.9v.9h-.9zM448.4 158.8h.9v.9h-.9zM451.4 158.2h.9v.9h-.9zM448.0 161.5h.9v.9h-.9zM449.4 158.2h.9v.9h-.9zM451.0 157.2h.9v.9h-.9zM458.7 156.8h.9v.9h-.9zM452.4 157.8h.9v.9h-.9zM449.7 155.8h.9v.9h-.9zM454.3 154.9h.9v.9h-.9zM452.5 158.8h.9v.9h-.9zM452.9 155.7h.9v.9h-.9zM455.7 156.4h.9v.9h-.9zM457.3 155.2h.9v.9h-.9zM460.0 153.6h.9v.9h-.9zM456.4 150.2h.9v.9h-.9zM454.0 152.7h.9v.9h-.9zM457.2 151.6h.9v.9h-.9zM454.7 154.1h.9v.9h-.9zM441.4 175.7h.9v.9h-.9zM443.6 173.4h.9v.9h-.9zM447.2 167.8h.9v.9h-.9zM441.2 172.2h.9v.9h-.9zM443.9 170.2h.9v.9h-.9zM443.4 175.0h.9v.9h-.9zM444.6 162.0h.9v.9h-.9zM445.0 170.2h.9v.9h-.9z"/>
<path fill="#3040ff" fill-opacity="0.75" d="M544.9 160.7h.9v.9h-.9zM544.1 161.1h.9v.9h-.9zM547.0 160.9h.9v.9h-.9zM542.8 157.8h.9v.9h-.9zM544.6 161.1h.9v.9h-.9zM550.3 156.5h.9v.9h-.9zM549.6 160.6h.9v.9h-.9zM550.6 158.5h.9v.9h-.9zM547.4 157.5h.9v.9h-.9zM549.9 156.3h.9v.9h-.9zM552.7 151.7h.9v.9h-.9zM552.0 153.1h.9v.9h-.9zM554.7 156.6h.9v.9h-.9zM549.4 154.6h.9v.9h-.9zM540.7 177.7h.9v.9h-.9zM537.2 174.5h.9v.9h-.9zM541.1 172.4h.9v.9h-.9zM539.5 169.4h.9v.9h-.9zM541.6 180.0h.9v.9h-.9zM538.9 172.7h.9v.9h-.9z"/>
<path fill="#3040ff" fill-opacity="0.75" d="M652.0 169.7h.9v.9h-.9zM653.6 162.3h.9v.9h-.9zM651.9 165.3h.9v.9h-.9zM652.2 164.4h.9v.9h-.9zM654.2 161.3h.9v.9h-.9zM652.2 165.1h.9v.9h-.9zM652.3 164.9h.9v.9h-.9zM654.1 157.1h.9v.9h-.9zM652.3 158.4h.9v.9h-.9zM654.7 158.7h.9v.9h-.9zM654.8 157.9h.9v.9h-.9zM656.1 155.6h.9v.9h-.9zM652.1 159.2h.9v.9h-.9zM652.6 158.4h.9v.9h-.9zM655.9 154.6h.9v.9h-.9zM655.5 153.4h.9v.9h-.9zM656.4 153.3h.9v.9h-.9zM658.9 153.4h.9v.9h-.9zM656.8 152.3h.9v.9h-.9zM654.4 150.9h.9v.9h-.9zM637.4 173.4h.9v.9h-.9zM638.6 177.2h.9v.9h-.9zM637.9 174.2h.9v.9h-.9zM638.9 170.3h.9v.9h-.9zM638.1 177.2h.9v.9h-.9z"/>
<rect x="417.40" y="21.40" width="73.60" height="72.80" fill="none" stroke="#8a8a8a" stroke-width="1" />
<rect x="417.40" y="127.90" width="73.60" height="72.70" fill="none" stroke="#8a8a8a" stroke-width="1" />
<rect x="514.40" y="21.40" width="73.60" height="72.80" fill="none" stroke="#8a8a8a" stroke-width="1" />
<rect x="514.40" y="127.90" width="73.60" height="72.70" fill="none" stroke="#8a8a8a" stroke-width="1" />
<rect x="612.30" y="21.40" width="73.60" height="72.80" fill="none" stroke="#8a8a8a" stroke-width="1" />
<rect x="612.30" y="127.90" width="73.60" height="72.70" fill="none" stroke="#8a8a8a" stroke-width="1" />
<rect x="427.50" y="38.20" width="16.00" height="24.20" fill="none" stroke="#7a7a7a" stroke-width="0.9" />
<rect x="523.60" y="38.40" width="16.20" height="23.60" fill="none" stroke="#7a7a7a" stroke-width="0.9" />
<rect x="621.50" y="38.40" width="16.00" height="23.60" fill="none" stroke="#7a7a7a" stroke-width="0.9" />
<line x1="443.50" y1="127.90" x2="443.50" y2="200.60" stroke="#555" stroke-width="1" />
<line x1="417.40" y1="169.70" x2="491.00" y2="169.70" stroke="#555" stroke-width="1" />
<line x1="541.20" y1="127.90" x2="541.20" y2="200.60" stroke="#555" stroke-width="1" />
<line x1="514.40" y1="169.70" x2="588.00" y2="169.70" stroke="#555" stroke-width="1" />
<line x1="639.40" y1="127.90" x2="639.40" y2="200.60" stroke="#555" stroke-width="1" />
<line x1="612.30" y1="169.70" x2="685.90" y2="169.70" stroke="#555" stroke-width="1" />
<text x="454.00" y="40.80" font-size="10.0" text-anchor="start" fill="#1c1c1c" font-style="italic">16</text>
<text x="549.80" y="40.80" font-size="10.0" text-anchor="start" fill="#1c1c1c" font-style="italic">12</text>
<text x="644.30" y="40.80" font-size="10.0" text-anchor="start" fill="#1c1c1c" font-style="italic">20</text>
<text x="453.40" y="141.60" font-size="10.3" text-anchor="start" fill="#1c1c1c" >97%</text>
<text x="551.10" y="141.90" font-size="10.3" text-anchor="start" fill="#1c1c1c" >100%</text>
<text x="647.30" y="139.90" font-size="10.3" text-anchor="start" fill="#1c1c1c" >100%</text>
<text x="467.30" y="17.10" font-size="10.3" text-anchor="middle" fill="#1c1c1c" >01-128</text>
<text x="563.00" y="17.10" font-size="10.3" text-anchor="middle" fill="#1c1c1c" >01-140</text>
<text x="659.30" y="17.10" font-size="10.3" text-anchor="middle" fill="#1c1c1c" >01-051</text>
<text x="334.00" y="27.00" font-size="10.35" text-anchor="start" fill="#1c1c1c" >Gating CD4+:</text>
<text x="401.50" y="133.10" font-size="10.35" text-anchor="end" fill="#1c1c1c" >Gating CD45RA-:</text>
<line x1="396.60" y1="50.80" x2="396.60" y2="92.00" stroke="#222" stroke-width="0.9" />
<path d="M391.2,58.5 L396.6,50.8 L402,58.5" fill="none" stroke="#222" stroke-width="0.9"/>
<line x1="403.00" y1="104.40" x2="444.70" y2="104.40" stroke="#222" stroke-width="0.9" />
<path d="M436.7,99.1 L444.7,104.4 L436.7,109.7" fill="none" stroke="#222" stroke-width="0.9"/>
<line x1="396.60" y1="162.50" x2="396.60" y2="203.30" stroke="#222" stroke-width="0.9" />
<path d="M391.2,170.2 L396.6,162.5 L402,170.2" fill="none" stroke="#222" stroke-width="0.9"/>
<line x1="405.40" y1="210.60" x2="446.40" y2="210.60" stroke="#222" stroke-width="0.9" />
<path d="M438.4,205.3 L446.4,210.6 L438.4,215.9" fill="none" stroke="#222" stroke-width="0.9"/>
<text x="0" y="0" font-size="10.2" text-anchor="middle" fill="#111" transform="translate(386.3,72.7) rotate(-90)">pMHCII Tetramer</text>
<text x="0" y="0" font-size="10.2" text-anchor="middle" fill="#111" transform="translate(386.3,180.3) rotate(-90)">pMHCII Tetramer</text>
<text x="397.00" y="120.50" font-size="10.2" text-anchor="start" fill="#1c1c1c" >CD45RA</text>
<text x="397.00" y="225.60" font-size="10.2" text-anchor="start" fill="#1c1c1c" >PD-1</text>
<rect x="71.50" y="259.50" width="216.70" height="195.10" fill="#fff" stroke="none" stroke-width="1" />
<line x1="71.50" y1="425.10" x2="288.20" y2="425.10" stroke="#f5f5f5" stroke-width="0.5" />
<line x1="71.50" y1="380.90" x2="288.20" y2="380.90" stroke="#f5f5f5" stroke-width="0.5" />
<line x1="71.50" y1="336.70" x2="288.20" y2="336.70" stroke="#f5f5f5" stroke-width="0.5" />
<line x1="71.50" y1="292.50" x2="288.20" y2="292.50" stroke="#f5f5f5" stroke-width="0.5" />
<line x1="71.50" y1="447.20" x2="288.20" y2="447.20" stroke="#ececec" stroke-width="0.7" />
<line x1="71.50" y1="403.00" x2="288.20" y2="403.00" stroke="#ececec" stroke-width="0.7" />
<line x1="71.50" y1="358.80" x2="288.20" y2="358.80" stroke="#ececec" stroke-width="0.7" />
<line x1="71.50" y1="314.60" x2="288.20" y2="314.60" stroke="#ececec" stroke-width="0.7" />
<line x1="71.50" y1="270.40" x2="288.20" y2="270.40" stroke="#ececec" stroke-width="0.7" />
<line x1="130.50" y1="259.50" x2="130.50" y2="454.60" stroke="#ececec" stroke-width="0.7" />
<line x1="228.50" y1="259.50" x2="228.50" y2="454.60" stroke="#ececec" stroke-width="0.7" />
<path fill="#1a1a1a" fill-opacity="0.5" d="M138.2 378.0h1.1v1.1h-1.1zM98.3 388.9h1.1v1.1h-1.1zM130.5 407.1h1.1v1.1h-1.1zM170.8 404.5h1.1v1.1h-1.1zM128.0 402.6h1.1v1.1h-1.1zM93.6 387.0h1.1v1.1h-1.1zM164.0 411.3h1.1v1.1h-1.1zM87.9 358.5h1.1v1.1h-1.1zM88.0 391.7h1.1v1.1h-1.1zM128.9 415.4h1.1v1.1h-1.1zM113.6 408.2h1.1v1.1h-1.1zM167.4 372.3h1.1v1.1h-1.1zM113.5 402.2h1.1v1.1h-1.1zM98.8 367.4h1.1v1.1h-1.1zM117.4 387.2h1.1v1.1h-1.1zM129.3 360.0h1.1v1.1h-1.1zM138.3 379.2h1.1v1.1h-1.1zM117.2 425.8h1.1v1.1h-1.1zM133.7 375.5h1.1v1.1h-1.1zM161.8 398.8h1.1v1.1h-1.1zM129.1 375.4h1.1v1.1h-1.1zM170.3 364.7h1.1v1.1h-1.1zM104.3 354.5h1.1v1.1h-1.1zM111.2 382.8h1.1v1.1h-1.1zM152.3 347.4h1.1v1.1h-1.1zM149.9 378.2h1.1v1.1h-1.1zM89.0 383.3h1.1v1.1h-1.1zM156.0 370.9h1.1v1.1h-1.1zM96.5 405.5h1.1v1.1h-1.1zM144.4 379.7h1.1v1.1h-1.1zM169.7 368.8h1.1v1.1h-1.1zM115.0 355.3h1.1v1.1h-1.1zM163.9 394.3h1.1v1.1h-1.1zM155.1 382.3h1.1v1.1h-1.1zM117.8 381.7h1.1v1.1h-1.1zM160.9 399.0h1.1v1.1h-1.1zM102.3 446.8h1.1v1.1h-1.1zM90.8 393.9h1.1v1.1h-1.1zM124.5 388.8h1.1v1.1h-1.1zM157.1 409.1h1.1v1.1h-1.1zM145.6 417.8h1.1v1.1h-1.1zM90.6 352.3h1.1v1.1h-1.1zM97.0 355.5h1.1v1.1h-1.1zM112.8 418.5h1.1v1.1h-1.1zM88.6 369.7h1.1v1.1h-1.1zM110.6 425.9h1.1v1.1h-1.1zM147.9 391.2h1.1v1.1h-1.1zM146.3 347.1h1.1v1.1h-1.1zM158.1 381.4h1.1v1.1h-1.1zM114.4 393.6h1.1v1.1h-1.1zM144.6 392.1h1.1v1.1h-1.1zM163.7 417.1h1.1v1.1h-1.1zM100.6 400.0h1.1v1.1h-1.1zM166.7 392.0h1.1v1.1h-1.1zM125.5 391.1h1.1v1.1h-1.1zM119.4 405.1h1.1v1.1h-1.1zM111.0 343.7h1.1v1.1h-1.1zM114.6 362.0h1.1v1.1h-1.1zM86.9 395.8h1.1v1.1h-1.1zM105.2 367.8h1.1v1.1h-1.1zM131.1 351.9h1.1v1.1h-1.1zM115.0 383.9h1.1v1.1h-1.1zM100.1 405.4h1.1v1.1h-1.1zM141.4 398.2h1.1v1.1h-1.1zM98.5 411.2h1.1v1.1h-1.1zM161.8 400.4h1.1v1.1h-1.1zM147.6 367.6h1.1v1.1h-1.1zM95.2 388.3h1.1v1.1h-1.1zM145.5 415.7h1.1v1.1h-1.1zM125.0 361.9h1.1v1.1h-1.1zM139.7 373.7h1.1v1.1h-1.1zM111.2 391.0h1.1v1.1h-1.1zM166.1 408.5h1.1v1.1h-1.1zM109.2 390.5h1.1v1.1h-1.1zM137.0 373.8h1.1v1.1h-1.1zM151.8 383.8h1.1v1.1h-1.1zM124.6 342.4h1.1v1.1h-1.1zM167.8 353.0h1.1v1.1h-1.1zM93.0 394.7h1.1v1.1h-1.1zM92.3 392.2h1.1v1.1h-1.1zM145.1 428.5h1.1v1.1h-1.1zM164.0 395.8h1.1v1.1h-1.1zM170.5 361.6h1.1v1.1h-1.1zM151.1 364.5h1.1v1.1h-1.1zM101.6 401.5h1.1v1.1h-1.1zM153.4 396.0h1.1v1.1h-1.1zM146.8 389.5h1.1v1.1h-1.1zM95.9 377.3h1.1v1.1h-1.1zM127.8 358.3h1.1v1.1h-1.1zM110.0 410.8h1.1v1.1h-1.1zM125.3 389.4h1.1v1.1h-1.1zM89.3 355.5h1.1v1.1h-1.1zM150.6 391.8h1.1v1.1h-1.1zM123.9 421.1h1.1v1.1h-1.1zM124.0 408.2h1.1v1.1h-1.1zM156.4 437.3h1.1v1.1h-1.1zM155.8 418.0h1.1v1.1h-1.1zM101.1 390.2h1.1v1.1h-1.1zM136.3 426.7h1.1v1.1h-1.1zM94.6 371.4h1.1v1.1h-1.1zM122.5 380.7h1.1v1.1h-1.1zM110.7 388.8h1.1v1.1h-1.1zM111.2 363.8h1.1v1.1h-1.1zM136.1 402.6h1.1v1.1h-1.1zM97.2 401.1h1.1v1.1h-1.1zM137.8 377.4h1.1v1.1h-1.1zM125.0 387.1h1.1v1.1h-1.1zM167.9 397.3h1.1v1.1h-1.1zM94.3 385.5h1.1v1.1h-1.1zM138.7 414.3h1.1v1.1h-1.1zM94.3 366.3h1.1v1.1h-1.1zM139.2 402.4h1.1v1.1h-1.1zM131.8 401.0h1.1v1.1h-1.1zM149.2 401.0h1.1v1.1h-1.1zM140.7 370.2h1.1v1.1h-1.1zM109.6 403.7h1.1v1.1h-1.1zM108.2 428.6h1.1v1.1h-1.1zM160.9 411.3h1.1v1.1h-1.1zM105.2 391.9h1.1v1.1h-1.1zM90.5 363.6h1.1v1.1h-1.1zM87.0 393.1h1.1v1.1h-1.1zM161.6 386.7h1.1v1.1h-1.1zM109.6 383.5h1.1v1.1h-1.1zM151.2 373.4h1.1v1.1h-1.1zM133.2 402.7h1.1v1.1h-1.1zM160.7 373.7h1.1v1.1h-1.1zM92.3 386.4h1.1v1.1h-1.1zM219.9 304.1h1.1v1.1h-1.1zM220.0 353.2h1.1v1.1h-1.1zM247.0 307.8h1.1v1.1h-1.1zM242.8 309.1h1.1v1.1h-1.1zM241.6 374.8h1.1v1.1h-1.1zM249.8 367.7h1.1v1.1h-1.1zM214.8 366.7h1.1v1.1h-1.1zM204.3 310.2h1.1v1.1h-1.1zM269.0 291.1h1.1v1.1h-1.1zM219.7 341.7h1.1v1.1h-1.1zM227.4 355.9h1.1v1.1h-1.1zM266.2 355.2h1.1v1.1h-1.1zM217.2 363.4h1.1v1.1h-1.1zM195.7 376.4h1.1v1.1h-1.1zM220.9 313.2h1.1v1.1h-1.1zM264.0 341.7h1.1v1.1h-1.1zM204.5 320.6h1.1v1.1h-1.1zM194.1 335.5h1.1v1.1h-1.1zM228.7 350.7h1.1v1.1h-1.1zM206.5 346.6h1.1v1.1h-1.1zM203.0 374.5h1.1v1.1h-1.1zM256.9 360.1h1.1v1.1h-1.1zM264.8 410.2h1.1v1.1h-1.1zM205.8 310.5h1.1v1.1h-1.1z"/>
<path fill="#1a1a1a" fill-opacity="0.75" d="M166.3 388.5h1.1v1.1h-1.1zM130.4 421.2h1.1v1.1h-1.1zM106.7 376.0h1.1v1.1h-1.1zM97.5 363.1h1.1v1.1h-1.1zM103.7 392.6h1.1v1.1h-1.1zM164.4 367.0h1.1v1.1h-1.1zM91.2 396.8h1.1v1.1h-1.1zM137.0 385.3h1.1v1.1h-1.1zM94.1 402.9h1.1v1.1h-1.1zM150.0 391.1h1.1v1.1h-1.1zM137.9 397.4h1.1v1.1h-1.1zM155.7 400.8h1.1v1.1h-1.1zM92.2 385.7h1.1v1.1h-1.1zM159.1 420.2h1.1v1.1h-1.1zM143.3 380.5h1.1v1.1h-1.1zM166.2 399.5h1.1v1.1h-1.1zM107.5 427.4h1.1v1.1h-1.1zM161.3 401.5h1.1v1.1h-1.1zM129.3 382.7h1.1v1.1h-1.1zM106.4 337.5h1.1v1.1h-1.1zM134.2 388.7h1.1v1.1h-1.1zM113.6 391.9h1.1v1.1h-1.1zM96.4 397.7h1.1v1.1h-1.1zM92.2 401.8h1.1v1.1h-1.1zM98.8 410.8h1.1v1.1h-1.1zM107.9 385.0h1.1v1.1h-1.1zM155.1 375.9h1.1v1.1h-1.1zM170.7 394.8h1.1v1.1h-1.1zM155.2 371.4h1.1v1.1h-1.1zM164.0 397.3h1.1v1.1h-1.1zM141.9 382.9h1.1v1.1h-1.1zM134.6 366.2h1.1v1.1h-1.1zM135.1 377.5h1.1v1.1h-1.1zM156.5 378.0h1.1v1.1h-1.1zM139.7 425.5h1.1v1.1h-1.1zM159.7 401.8h1.1v1.1h-1.1zM130.5 409.5h1.1v1.1h-1.1zM87.4 383.9h1.1v1.1h-1.1zM132.6 356.9h1.1v1.1h-1.1zM100.1 373.5h1.1v1.1h-1.1zM92.6 391.0h1.1v1.1h-1.1zM162.8 363.4h1.1v1.1h-1.1zM150.6 384.7h1.1v1.1h-1.1zM111.5 398.5h1.1v1.1h-1.1zM100.2 398.5h1.1v1.1h-1.1zM120.1 391.1h1.1v1.1h-1.1zM155.2 371.4h1.1v1.1h-1.1zM120.6 397.8h1.1v1.1h-1.1zM126.6 391.6h1.1v1.1h-1.1zM87.4 384.4h1.1v1.1h-1.1zM88.0 397.9h1.1v1.1h-1.1zM97.4 391.7h1.1v1.1h-1.1zM134.9 379.4h1.1v1.1h-1.1zM119.5 390.8h1.1v1.1h-1.1zM168.8 441.6h1.1v1.1h-1.1zM87.8 390.7h1.1v1.1h-1.1zM151.9 395.1h1.1v1.1h-1.1zM145.2 441.9h1.1v1.1h-1.1zM157.7 387.4h1.1v1.1h-1.1zM107.7 398.5h1.1v1.1h-1.1zM162.4 400.2h1.1v1.1h-1.1zM101.8 381.1h1.1v1.1h-1.1zM147.2 403.4h1.1v1.1h-1.1zM122.7 380.7h1.1v1.1h-1.1zM119.6 380.2h1.1v1.1h-1.1zM128.0 346.6h1.1v1.1h-1.1zM159.3 399.6h1.1v1.1h-1.1zM166.2 421.2h1.1v1.1h-1.1zM156.0 387.5h1.1v1.1h-1.1zM139.5 387.1h1.1v1.1h-1.1zM141.7 383.5h1.1v1.1h-1.1zM108.7 367.4h1.1v1.1h-1.1zM113.5 359.9h1.1v1.1h-1.1zM170.8 363.3h1.1v1.1h-1.1zM147.4 364.0h1.1v1.1h-1.1zM141.0 377.2h1.1v1.1h-1.1zM96.4 393.6h1.1v1.1h-1.1zM114.4 419.1h1.1v1.1h-1.1zM141.0 374.2h1.1v1.1h-1.1zM107.8 397.5h1.1v1.1h-1.1zM136.5 385.3h1.1v1.1h-1.1zM170.3 405.5h1.1v1.1h-1.1zM166.9 356.8h1.1v1.1h-1.1zM102.0 365.8h1.1v1.1h-1.1zM171.3 387.4h1.1v1.1h-1.1zM159.5 397.9h1.1v1.1h-1.1zM167.4 361.1h1.1v1.1h-1.1zM126.4 435.0h1.1v1.1h-1.1zM112.8 385.4h1.1v1.1h-1.1zM100.8 369.5h1.1v1.1h-1.1zM102.9 386.9h1.1v1.1h-1.1zM148.1 422.7h1.1v1.1h-1.1zM145.4 389.0h1.1v1.1h-1.1zM146.4 394.3h1.1v1.1h-1.1zM112.7 355.7h1.1v1.1h-1.1zM87.2 389.1h1.1v1.1h-1.1zM116.3 397.3h1.1v1.1h-1.1zM161.3 387.2h1.1v1.1h-1.1zM114.7 394.7h1.1v1.1h-1.1zM158.9 383.2h1.1v1.1h-1.1zM125.0 404.3h1.1v1.1h-1.1zM159.7 385.5h1.1v1.1h-1.1zM120.0 423.0h1.1v1.1h-1.1zM152.2 398.0h1.1v1.1h-1.1zM118.7 430.4h1.1v1.1h-1.1zM149.0 359.1h1.1v1.1h-1.1zM164.6 377.8h1.1v1.1h-1.1zM95.4 386.1h1.1v1.1h-1.1zM125.1 384.4h1.1v1.1h-1.1zM91.3 405.6h1.1v1.1h-1.1zM136.2 373.5h1.1v1.1h-1.1zM132.8 385.2h1.1v1.1h-1.1zM171.7 356.4h1.1v1.1h-1.1zM104.8 417.3h1.1v1.1h-1.1zM105.6 434.5h1.1v1.1h-1.1zM113.8 415.0h1.1v1.1h-1.1zM137.9 363.4h1.1v1.1h-1.1zM130.9 409.5h1.1v1.1h-1.1zM134.8 373.5h1.1v1.1h-1.1zM155.1 352.3h1.1v1.1h-1.1zM112.1 400.4h1.1v1.1h-1.1zM142.2 392.9h1.1v1.1h-1.1zM120.3 440.5h1.1v1.1h-1.1zM151.5 398.3h1.1v1.1h-1.1zM99.3 412.7h1.1v1.1h-1.1zM90.3 379.2h1.1v1.1h-1.1zM150.8 410.3h1.1v1.1h-1.1zM145.1 407.6h1.1v1.1h-1.1zM219.3 354.3h1.1v1.1h-1.1zM233.1 391.4h1.1v1.1h-1.1zM263.6 345.6h1.1v1.1h-1.1zM231.2 377.4h1.1v1.1h-1.1zM223.4 373.4h1.1v1.1h-1.1zM214.6 351.2h1.1v1.1h-1.1zM194.9 294.5h1.1v1.1h-1.1zM266.8 358.9h1.1v1.1h-1.1zM255.3 367.2h1.1v1.1h-1.1zM233.9 339.3h1.1v1.1h-1.1zM210.2 373.8h1.1v1.1h-1.1zM224.0 346.5h1.1v1.1h-1.1zM261.7 367.3h1.1v1.1h-1.1zM206.9 374.1h1.1v1.1h-1.1zM206.7 394.3h1.1v1.1h-1.1zM257.5 398.5h1.1v1.1h-1.1zM204.6 316.8h1.1v1.1h-1.1zM219.0 368.9h1.1v1.1h-1.1zM238.0 357.3h1.1v1.1h-1.1zM217.2 363.3h1.1v1.1h-1.1zM208.9 351.1h1.1v1.1h-1.1zM236.2 406.7h1.1v1.1h-1.1zM187.4 371.0h1.1v1.1h-1.1zM198.3 358.3h1.1v1.1h-1.1zM224.9 330.1h1.1v1.1h-1.1zM185.9 341.6h1.1v1.1h-1.1z"/>
<path fill="#1a1a1a" fill-opacity="1.0" d="M168.0 386.7h1.1v1.1h-1.1zM141.8 384.8h1.1v1.1h-1.1zM169.3 385.8h1.1v1.1h-1.1zM145.9 367.7h1.1v1.1h-1.1zM119.1 402.3h1.1v1.1h-1.1zM146.0 371.9h1.1v1.1h-1.1zM129.5 379.8h1.1v1.1h-1.1zM127.7 402.9h1.1v1.1h-1.1zM147.3 419.0h1.1v1.1h-1.1zM152.6 378.6h1.1v1.1h-1.1zM133.8 392.2h1.1v1.1h-1.1zM169.7 388.7h1.1v1.1h-1.1zM248.7 318.5h1.1v1.1h-1.1zM242.1 344.2h1.1v1.1h-1.1z"/>
<path fill="#1a1a1a" fill-opacity="0.25" d="M99.2 405.1h1.1v1.1h-1.1zM158.6 392.6h1.1v1.1h-1.1zM163.4 398.8h1.1v1.1h-1.1zM155.4 377.6h1.1v1.1h-1.1zM151.8 381.0h1.1v1.1h-1.1zM144.4 402.1h1.1v1.1h-1.1zM161.8 369.3h1.1v1.1h-1.1zM122.0 347.5h1.1v1.1h-1.1zM119.6 382.5h1.1v1.1h-1.1zM161.7 383.0h1.1v1.1h-1.1zM135.9 383.5h1.1v1.1h-1.1zM120.8 411.9h1.1v1.1h-1.1zM94.4 398.5h1.1v1.1h-1.1zM102.5 415.6h1.1v1.1h-1.1zM163.1 364.5h1.1v1.1h-1.1zM109.2 383.2h1.1v1.1h-1.1zM111.2 377.4h1.1v1.1h-1.1zM90.4 365.7h1.1v1.1h-1.1zM168.9 412.4h1.1v1.1h-1.1zM100.9 434.9h1.1v1.1h-1.1zM101.1 379.9h1.1v1.1h-1.1zM135.1 374.7h1.1v1.1h-1.1zM110.7 437.8h1.1v1.1h-1.1zM168.6 412.7h1.1v1.1h-1.1zM115.1 380.9h1.1v1.1h-1.1zM96.7 388.5h1.1v1.1h-1.1zM93.6 395.0h1.1v1.1h-1.1zM94.9 365.2h1.1v1.1h-1.1zM100.2 351.5h1.1v1.1h-1.1zM169.7 419.3h1.1v1.1h-1.1zM151.9 401.5h1.1v1.1h-1.1zM88.5 425.1h1.1v1.1h-1.1zM116.9 366.4h1.1v1.1h-1.1zM243.8 310.8h1.1v1.1h-1.1zM187.1 361.8h1.1v1.1h-1.1zM261.7 323.8h1.1v1.1h-1.1zM233.9 372.1h1.1v1.1h-1.1zM192.0 382.0h1.1v1.1h-1.1zM191.4 363.8h1.1v1.1h-1.1zM229.0 378.8h1.1v1.1h-1.1zM196.1 355.3h1.1v1.1h-1.1zM201.5 366.0h1.1v1.1h-1.1zM240.1 344.5h1.1v1.1h-1.1z"/>
<line x1="99.25" y1="355.00" x2="99.25" y2="379.40" stroke="#F8766D" stroke-width="0.9" stroke-opacity="0.66"/>
<line x1="99.25" y1="404.70" x2="99.25" y2="417.80" stroke="#F8766D" stroke-width="0.9" stroke-opacity="0.66"/>
<rect x="93.50" y="379.40" width="11.50" height="25.30" fill="none" stroke="#F8766D" stroke-width="0.9" stroke-opacity="0.66"/>
<line x1="93.50" y1="390.60" x2="105.00" y2="390.60" stroke="#F8766D" stroke-width="1.7" stroke-opacity="0.66"/>
<line x1="111.75" y1="340.00" x2="111.75" y2="375.80" stroke="#B79F00" stroke-width="0.9" stroke-opacity="0.66"/>
<line x1="111.75" y1="402.30" x2="111.75" y2="438.20" stroke="#B79F00" stroke-width="0.9" stroke-opacity="0.66"/>
<rect x="106.00" y="375.80" width="11.50" height="26.50" fill="none" stroke="#B79F00" stroke-width="0.9" stroke-opacity="0.66"/>
<line x1="106.00" y1="383.40" x2="117.50" y2="383.40" stroke="#B79F00" stroke-width="1.7" stroke-opacity="0.66"/>
<line x1="123.90" y1="353.30" x2="123.90" y2="378.10" stroke="#00BA38" stroke-width="0.9" stroke-opacity="0.66"/>
<line x1="123.90" y1="405.60" x2="123.90" y2="436.90" stroke="#00BA38" stroke-width="0.9" stroke-opacity="0.66"/>
<rect x="118.10" y="378.10" width="11.60" height="27.50" fill="none" stroke="#00BA38" stroke-width="0.9" stroke-opacity="0.66"/>
<line x1="118.10" y1="395.10" x2="129.70" y2="395.10" stroke="#00BA38" stroke-width="1.7" stroke-opacity="0.66"/>
<line x1="136.05" y1="332.00" x2="136.05" y2="368.50" stroke="#00BFC4" stroke-width="0.9" stroke-opacity="0.66"/>
<line x1="136.05" y1="400.50" x2="136.05" y2="437.50" stroke="#00BFC4" stroke-width="0.9" stroke-opacity="0.66"/>
<rect x="130.30" y="368.50" width="11.50" height="32.00" fill="none" stroke="#00BFC4" stroke-width="0.9" stroke-opacity="0.66"/>
<line x1="130.30" y1="382.30" x2="141.80" y2="382.30" stroke="#00BFC4" stroke-width="1.7" stroke-opacity="0.66"/>
<line x1="148.55" y1="359.00" x2="148.55" y2="377.10" stroke="#619CFF" stroke-width="0.9" stroke-opacity="0.66"/>
<line x1="148.55" y1="397.50" x2="148.55" y2="426.80" stroke="#619CFF" stroke-width="0.9" stroke-opacity="0.66"/>
<rect x="142.80" y="377.10" width="11.50" height="20.40" fill="none" stroke="#619CFF" stroke-width="0.9" stroke-opacity="0.66"/>
<line x1="142.80" y1="384.70" x2="154.30" y2="384.70" stroke="#619CFF" stroke-width="1.7" stroke-opacity="0.66"/>
<line x1="161.00" y1="334.40" x2="161.00" y2="367.20" stroke="#F564E3" stroke-width="0.9" stroke-opacity="0.66"/>
<line x1="161.00" y1="402.30" x2="161.00" y2="434.90" stroke="#F564E3" stroke-width="0.9" stroke-opacity="0.66"/>
<rect x="155.30" y="367.20" width="11.40" height="35.10" fill="none" stroke="#F564E3" stroke-width="0.9" stroke-opacity="0.66"/>
<line x1="155.30" y1="390.90" x2="166.70" y2="390.90" stroke="#F564E3" stroke-width="1.7" stroke-opacity="0.66"/>
<line x1="197.75" y1="276.80" x2="197.75" y2="331.10" stroke="#F8766D" stroke-width="0.9" stroke-opacity="0.66"/>
<line x1="197.75" y1="379.50" x2="197.75" y2="409.80" stroke="#F8766D" stroke-width="0.9" stroke-opacity="0.66"/>
<rect x="192.10" y="331.10" width="11.30" height="48.40" fill="none" stroke="#F8766D" stroke-width="0.9" stroke-opacity="0.66"/>
<line x1="192.10" y1="360.20" x2="203.40" y2="360.20" stroke="#F8766D" stroke-width="1.7" stroke-opacity="0.66"/>
<line x1="210.05" y1="318.60" x2="210.05" y2="349.60" stroke="#B79F00" stroke-width="0.9" stroke-opacity="0.66"/>
<line x1="210.05" y1="383.60" x2="210.05" y2="410.40" stroke="#B79F00" stroke-width="0.9" stroke-opacity="0.66"/>
<rect x="204.20" y="349.60" width="11.70" height="34.00" fill="none" stroke="#B79F00" stroke-width="0.9" stroke-opacity="0.66"/>
<line x1="204.20" y1="369.60" x2="215.90" y2="369.60" stroke="#B79F00" stroke-width="1.7" stroke-opacity="0.66"/>
<line x1="222.20" y1="311.30" x2="222.20" y2="337.50" stroke="#00BA38" stroke-width="0.9" stroke-opacity="0.66"/>
<line x1="222.20" y1="405.30" x2="222.20" y2="411.60" stroke="#00BA38" stroke-width="0.9" stroke-opacity="0.66"/>
<rect x="216.30" y="337.50" width="11.80" height="67.80" fill="none" stroke="#00BA38" stroke-width="0.9" stroke-opacity="0.66"/>
<line x1="216.30" y1="367.40" x2="228.10" y2="367.40" stroke="#00BA38" stroke-width="1.7" stroke-opacity="0.66"/>
<line x1="234.85" y1="290.90" x2="234.85" y2="336.40" stroke="#00BFC4" stroke-width="0.9" stroke-opacity="0.66"/>
<line x1="234.85" y1="379.50" x2="234.85" y2="385.60" stroke="#00BFC4" stroke-width="0.9" stroke-opacity="0.66"/>
<rect x="229.20" y="336.40" width="11.30" height="43.10" fill="none" stroke="#00BFC4" stroke-width="0.9" stroke-opacity="0.66"/>
<line x1="229.20" y1="344.60" x2="240.50" y2="344.60" stroke="#00BFC4" stroke-width="1.7" stroke-opacity="0.66"/>
<line x1="246.95" y1="307.20" x2="246.95" y2="323.10" stroke="#619CFF" stroke-width="0.9" stroke-opacity="0.66"/>
<line x1="246.95" y1="369.30" x2="246.95" y2="394.70" stroke="#619CFF" stroke-width="0.9" stroke-opacity="0.66"/>
<rect x="241.30" y="323.10" width="11.30" height="46.20" fill="none" stroke="#619CFF" stroke-width="0.9" stroke-opacity="0.66"/>
<line x1="241.30" y1="337.50" x2="252.60" y2="337.50" stroke="#619CFF" stroke-width="1.7" stroke-opacity="0.66"/>
<line x1="259.05" y1="331.40" x2="259.05" y2="343.50" stroke="#F564E3" stroke-width="0.9" stroke-opacity="0.66"/>
<line x1="259.05" y1="362.50" x2="259.05" y2="382.10" stroke="#F564E3" stroke-width="0.9" stroke-opacity="0.66"/>
<rect x="253.40" y="343.50" width="11.30" height="19.00" fill="none" stroke="#F564E3" stroke-width="0.9" stroke-opacity="0.66"/>
<line x1="253.40" y1="351.90" x2="264.70" y2="351.90" stroke="#F564E3" stroke-width="1.7" stroke-opacity="0.66"/>
<rect x="98.2" y="314.0" width="2" height="2" fill="#F8766D"/>
<rect x="98.2" y="335.6" width="2" height="2" fill="#F8766D"/>
<rect x="98.2" y="445.0" width="2" height="2" fill="#F8766D"/>
<rect x="110.7" y="296.7" width="2" height="2" fill="#B79F00"/>
<rect x="110.7" y="316.2" width="2" height="2" fill="#B79F00"/>
<rect x="122.9" y="325.0" width="2" height="2" fill="#00BA38"/>
<rect x="122.9" y="335.0" width="2" height="2" fill="#00BA38"/>
<rect x="135.4" y="313.7" width="2" height="2" fill="#00BFC4"/>
<rect x="147.6" y="344.0" width="2" height="2" fill="#619CFF"/>
<rect x="71.50" y="259.50" width="216.70" height="195.10" fill="none" stroke="#999" stroke-width="1" />
<line x1="69.30" y1="447.20" x2="71.50" y2="447.20" stroke="#555" stroke-width="0.6" />
<text x="68.30" y="450.10" font-size="10.5" text-anchor="end" fill="#1c1c1c" >-0.2</text>
<line x1="69.30" y1="403.00" x2="71.50" y2="403.00" stroke="#555" stroke-width="0.6" />
<text x="68.30" y="405.90" font-size="10.5" text-anchor="end" fill="#1c1c1c" >0.0</text>
<line x1="69.30" y1="358.80" x2="71.50" y2="358.80" stroke="#555" stroke-width="0.6" />
<text x="68.30" y="361.70" font-size="10.5" text-anchor="end" fill="#1c1c1c" >0.2</text>
<line x1="69.30" y1="314.60" x2="71.50" y2="314.60" stroke="#555" stroke-width="0.6" />
<text x="68.30" y="317.50" font-size="10.5" text-anchor="end" fill="#1c1c1c" >0.4</text>
<line x1="69.30" y1="270.40" x2="71.50" y2="270.40" stroke="#555" stroke-width="0.6" />
<text x="68.30" y="273.30" font-size="10.5" text-anchor="end" fill="#1c1c1c" >0.6</text>
<line x1="130.50" y1="454.60" x2="130.50" y2="456.80" stroke="#555" stroke-width="0.6" />
<line x1="228.50" y1="454.60" x2="228.50" y2="456.80" stroke="#555" stroke-width="0.6" />
<text x="74.20" y="254.00" font-size="10.6" text-anchor="start" fill="#1c1c1c" >Auto-reactivity</text>
<path d="M130.5,272.3 L130.5,267.9 L228.5,267.9 L228.5,272.3" fill="none" stroke="#777" stroke-width="0.8"/>
<text x="180.90" y="268.60" font-size="10.6" text-anchor="middle" fill="#111" >****</text>
<text x="0" y="0" font-size="10.6" text-anchor="middle" fill="#111" transform="translate(46.3,363.4) rotate(-90)">Gene set score</text>
<text x="120.90" y="466.30" font-size="10.5" text-anchor="start" fill="#1c1c1c" >TTneg</text>
<text x="219.50" y="466.30" font-size="10.5" text-anchor="start" fill="#1c1c1c" >TTpos</text>
<text x="140.70" y="480.30" font-size="10.6" text-anchor="start" fill="#1c1c1c" >sorting phenotype</text>
<rect x="356.50" y="258.50" width="216.40" height="195.70" fill="#fff" stroke="none" stroke-width="1" />
<line x1="356.50" y1="416.30" x2="572.90" y2="416.30" stroke="#f5f5f5" stroke-width="0.5" />
<line x1="356.50" y1="362.50" x2="572.90" y2="362.50" stroke="#f5f5f5" stroke-width="0.5" />
<line x1="356.50" y1="308.70" x2="572.90" y2="308.70" stroke="#f5f5f5" stroke-width="0.5" />
<line x1="356.50" y1="443.20" x2="572.90" y2="443.20" stroke="#ececec" stroke-width="0.7" />
<line x1="356.50" y1="389.40" x2="572.90" y2="389.40" stroke="#ececec" stroke-width="0.7" />
<line x1="356.50" y1="335.60" x2="572.90" y2="335.60" stroke="#ececec" stroke-width="0.7" />
<line x1="356.50" y1="281.80" x2="572.90" y2="281.80" stroke="#ececec" stroke-width="0.7" />
<line x1="415.50" y1="258.50" x2="415.50" y2="454.20" stroke="#ececec" stroke-width="0.7" />
<line x1="513.80" y1="258.50" x2="513.80" y2="454.20" stroke="#ececec" stroke-width="0.7" />
<path fill="#1a1a1a" fill-opacity="0.75" d="M433.1 400.0h1.1v1.1h-1.1zM410.2 403.9h1.1v1.1h-1.1zM449.3 425.5h1.1v1.1h-1.1zM454.7 437.1h1.1v1.1h-1.1zM431.3 392.1h1.1v1.1h-1.1zM427.8 394.6h1.1v1.1h-1.1zM400.9 366.6h1.1v1.1h-1.1zM443.6 400.6h1.1v1.1h-1.1zM442.3 385.0h1.1v1.1h-1.1zM424.4 374.9h1.1v1.1h-1.1zM452.4 417.5h1.1v1.1h-1.1zM386.2 369.8h1.1v1.1h-1.1zM428.5 413.4h1.1v1.1h-1.1zM426.1 387.3h1.1v1.1h-1.1zM415.4 363.7h1.1v1.1h-1.1zM440.7 411.2h1.1v1.1h-1.1zM451.8 404.1h1.1v1.1h-1.1zM377.7 401.1h1.1v1.1h-1.1zM407.1 399.5h1.1v1.1h-1.1zM406.3 388.8h1.1v1.1h-1.1zM416.7 388.5h1.1v1.1h-1.1zM439.8 427.6h1.1v1.1h-1.1zM454.4 368.1h1.1v1.1h-1.1zM454.8 404.8h1.1v1.1h-1.1zM391.9 357.1h1.1v1.1h-1.1zM396.3 377.3h1.1v1.1h-1.1zM415.2 387.9h1.1v1.1h-1.1zM420.2 373.8h1.1v1.1h-1.1zM433.2 393.4h1.1v1.1h-1.1zM440.2 379.9h1.1v1.1h-1.1zM394.9 393.8h1.1v1.1h-1.1zM398.9 367.2h1.1v1.1h-1.1zM435.3 372.7h1.1v1.1h-1.1zM416.6 415.5h1.1v1.1h-1.1zM379.7 361.8h1.1v1.1h-1.1zM448.3 389.1h1.1v1.1h-1.1zM456.0 390.9h1.1v1.1h-1.1zM409.0 397.5h1.1v1.1h-1.1zM455.7 371.4h1.1v1.1h-1.1zM424.9 393.4h1.1v1.1h-1.1zM407.7 383.6h1.1v1.1h-1.1zM448.8 422.5h1.1v1.1h-1.1zM396.4 374.1h1.1v1.1h-1.1zM434.4 399.3h1.1v1.1h-1.1zM400.3 405.4h1.1v1.1h-1.1zM410.0 389.6h1.1v1.1h-1.1zM420.1 369.3h1.1v1.1h-1.1zM394.2 360.5h1.1v1.1h-1.1zM404.4 422.6h1.1v1.1h-1.1zM372.9 372.4h1.1v1.1h-1.1zM434.9 396.7h1.1v1.1h-1.1zM397.1 397.8h1.1v1.1h-1.1zM432.7 396.6h1.1v1.1h-1.1zM373.1 400.6h1.1v1.1h-1.1zM389.6 407.1h1.1v1.1h-1.1zM383.8 384.2h1.1v1.1h-1.1zM449.2 390.9h1.1v1.1h-1.1zM454.7 402.9h1.1v1.1h-1.1zM409.4 420.7h1.1v1.1h-1.1zM396.9 409.3h1.1v1.1h-1.1zM393.3 405.5h1.1v1.1h-1.1zM389.7 379.4h1.1v1.1h-1.1zM394.7 415.9h1.1v1.1h-1.1zM426.2 384.9h1.1v1.1h-1.1zM450.1 393.8h1.1v1.1h-1.1zM381.6 424.9h1.1v1.1h-1.1zM438.2 348.3h1.1v1.1h-1.1zM410.0 362.7h1.1v1.1h-1.1zM437.6 386.4h1.1v1.1h-1.1zM409.1 407.8h1.1v1.1h-1.1zM377.2 373.7h1.1v1.1h-1.1zM386.8 417.1h1.1v1.1h-1.1zM391.5 360.0h1.1v1.1h-1.1zM377.1 416.0h1.1v1.1h-1.1zM382.1 396.7h1.1v1.1h-1.1zM413.6 333.2h1.1v1.1h-1.1zM388.5 433.1h1.1v1.1h-1.1zM388.5 390.9h1.1v1.1h-1.1zM432.7 420.4h1.1v1.1h-1.1zM455.0 421.7h1.1v1.1h-1.1zM382.2 380.0h1.1v1.1h-1.1zM415.7 421.3h1.1v1.1h-1.1zM371.9 336.6h1.1v1.1h-1.1zM405.4 391.3h1.1v1.1h-1.1zM424.7 378.2h1.1v1.1h-1.1zM417.2 421.9h1.1v1.1h-1.1zM443.1 410.5h1.1v1.1h-1.1zM433.1 390.4h1.1v1.1h-1.1zM385.5 391.2h1.1v1.1h-1.1zM386.1 364.3h1.1v1.1h-1.1zM456.6 391.1h1.1v1.1h-1.1zM429.5 412.2h1.1v1.1h-1.1zM389.0 383.7h1.1v1.1h-1.1zM404.6 412.2h1.1v1.1h-1.1zM403.9 407.0h1.1v1.1h-1.1zM422.7 433.5h1.1v1.1h-1.1zM395.6 389.6h1.1v1.1h-1.1zM455.1 415.6h1.1v1.1h-1.1zM400.0 347.8h1.1v1.1h-1.1zM432.1 400.5h1.1v1.1h-1.1zM372.1 426.0h1.1v1.1h-1.1zM377.9 394.9h1.1v1.1h-1.1zM395.3 403.4h1.1v1.1h-1.1zM438.1 392.9h1.1v1.1h-1.1zM401.3 421.1h1.1v1.1h-1.1zM424.4 430.9h1.1v1.1h-1.1zM446.0 433.3h1.1v1.1h-1.1zM383.0 388.3h1.1v1.1h-1.1zM431.9 405.8h1.1v1.1h-1.1zM401.2 361.3h1.1v1.1h-1.1zM412.5 400.3h1.1v1.1h-1.1zM378.6 392.9h1.1v1.1h-1.1zM430.2 399.9h1.1v1.1h-1.1zM438.3 359.6h1.1v1.1h-1.1zM374.7 409.3h1.1v1.1h-1.1zM396.7 417.0h1.1v1.1h-1.1zM444.1 420.7h1.1v1.1h-1.1zM438.7 333.0h1.1v1.1h-1.1zM396.6 387.4h1.1v1.1h-1.1zM455.5 419.3h1.1v1.1h-1.1zM413.6 394.2h1.1v1.1h-1.1zM453.6 368.3h1.1v1.1h-1.1zM382.0 422.4h1.1v1.1h-1.1zM411.5 403.9h1.1v1.1h-1.1zM453.2 316.2h1.1v1.1h-1.1zM411.8 398.5h1.1v1.1h-1.1zM421.1 391.1h1.1v1.1h-1.1zM429.1 418.9h1.1v1.1h-1.1zM385.3 425.1h1.1v1.1h-1.1zM421.6 443.9h1.1v1.1h-1.1zM428.5 405.8h1.1v1.1h-1.1zM424.0 434.2h1.1v1.1h-1.1zM524.8 440.6h1.1v1.1h-1.1zM484.3 393.0h1.1v1.1h-1.1zM540.9 408.7h1.1v1.1h-1.1zM512.3 438.9h1.1v1.1h-1.1zM490.8 393.0h1.1v1.1h-1.1zM493.8 414.7h1.1v1.1h-1.1zM529.7 419.1h1.1v1.1h-1.1zM527.3 427.0h1.1v1.1h-1.1zM481.3 422.5h1.1v1.1h-1.1zM528.8 394.3h1.1v1.1h-1.1zM470.0 358.3h1.1v1.1h-1.1zM498.1 399.8h1.1v1.1h-1.1zM501.6 398.6h1.1v1.1h-1.1zM471.2 388.3h1.1v1.1h-1.1zM492.6 396.3h1.1v1.1h-1.1zM492.0 391.9h1.1v1.1h-1.1zM471.3 409.9h1.1v1.1h-1.1zM532.8 405.0h1.1v1.1h-1.1zM502.7 398.4h1.1v1.1h-1.1zM529.9 397.2h1.1v1.1h-1.1zM484.9 429.0h1.1v1.1h-1.1zM528.8 377.8h1.1v1.1h-1.1zM482.1 408.1h1.1v1.1h-1.1z"/>
<path fill="#1a1a1a" fill-opacity="0.5" d="M425.2 402.4h1.1v1.1h-1.1zM422.7 384.0h1.1v1.1h-1.1zM415.9 370.0h1.1v1.1h-1.1zM412.6 403.2h1.1v1.1h-1.1zM388.5 375.1h1.1v1.1h-1.1zM404.3 403.4h1.1v1.1h-1.1zM440.1 408.6h1.1v1.1h-1.1zM385.4 383.6h1.1v1.1h-1.1zM419.8 403.2h1.1v1.1h-1.1zM393.1 413.1h1.1v1.1h-1.1zM419.3 382.1h1.1v1.1h-1.1zM380.4 414.4h1.1v1.1h-1.1zM429.5 362.9h1.1v1.1h-1.1zM441.8 405.1h1.1v1.1h-1.1zM437.2 403.0h1.1v1.1h-1.1zM449.9 392.2h1.1v1.1h-1.1zM427.1 314.5h1.1v1.1h-1.1zM408.6 406.0h1.1v1.1h-1.1zM430.7 386.7h1.1v1.1h-1.1zM447.7 386.4h1.1v1.1h-1.1zM454.4 407.7h1.1v1.1h-1.1zM443.5 399.7h1.1v1.1h-1.1zM395.5 394.1h1.1v1.1h-1.1zM383.0 313.0h1.1v1.1h-1.1zM401.4 383.4h1.1v1.1h-1.1zM419.6 366.6h1.1v1.1h-1.1zM372.2 407.4h1.1v1.1h-1.1zM441.7 379.1h1.1v1.1h-1.1zM434.2 383.8h1.1v1.1h-1.1zM409.8 424.7h1.1v1.1h-1.1zM440.1 407.5h1.1v1.1h-1.1zM388.8 395.9h1.1v1.1h-1.1zM450.4 386.7h1.1v1.1h-1.1zM391.3 388.1h1.1v1.1h-1.1zM423.8 434.7h1.1v1.1h-1.1zM373.0 395.6h1.1v1.1h-1.1zM407.0 367.8h1.1v1.1h-1.1zM417.0 325.9h1.1v1.1h-1.1zM377.3 392.2h1.1v1.1h-1.1zM422.9 420.5h1.1v1.1h-1.1zM410.2 388.7h1.1v1.1h-1.1zM432.5 386.2h1.1v1.1h-1.1zM441.9 427.0h1.1v1.1h-1.1zM407.3 408.0h1.1v1.1h-1.1zM452.6 405.6h1.1v1.1h-1.1zM410.7 429.6h1.1v1.1h-1.1zM420.5 378.7h1.1v1.1h-1.1zM379.1 409.7h1.1v1.1h-1.1zM438.2 396.5h1.1v1.1h-1.1zM439.2 412.6h1.1v1.1h-1.1zM411.7 349.1h1.1v1.1h-1.1zM419.8 401.0h1.1v1.1h-1.1zM454.3 386.2h1.1v1.1h-1.1zM420.5 428.8h1.1v1.1h-1.1zM401.2 393.7h1.1v1.1h-1.1zM381.3 394.6h1.1v1.1h-1.1zM378.0 395.5h1.1v1.1h-1.1zM402.4 403.3h1.1v1.1h-1.1zM396.0 418.1h1.1v1.1h-1.1zM384.3 408.6h1.1v1.1h-1.1zM375.1 413.6h1.1v1.1h-1.1zM430.8 405.9h1.1v1.1h-1.1zM373.2 404.2h1.1v1.1h-1.1zM440.9 431.2h1.1v1.1h-1.1zM449.7 419.6h1.1v1.1h-1.1zM454.9 424.6h1.1v1.1h-1.1zM392.5 381.0h1.1v1.1h-1.1zM412.5 398.4h1.1v1.1h-1.1zM435.1 413.1h1.1v1.1h-1.1zM386.7 400.5h1.1v1.1h-1.1zM399.1 405.8h1.1v1.1h-1.1zM420.4 420.7h1.1v1.1h-1.1zM455.1 409.2h1.1v1.1h-1.1zM394.8 391.9h1.1v1.1h-1.1zM373.9 397.5h1.1v1.1h-1.1zM424.1 378.5h1.1v1.1h-1.1zM375.1 403.5h1.1v1.1h-1.1zM387.5 399.2h1.1v1.1h-1.1zM435.8 391.1h1.1v1.1h-1.1zM411.2 422.4h1.1v1.1h-1.1zM420.5 408.0h1.1v1.1h-1.1zM400.7 404.1h1.1v1.1h-1.1zM434.8 433.4h1.1v1.1h-1.1zM405.8 435.1h1.1v1.1h-1.1zM377.2 371.6h1.1v1.1h-1.1zM383.5 373.6h1.1v1.1h-1.1zM425.8 422.4h1.1v1.1h-1.1zM384.5 375.5h1.1v1.1h-1.1zM449.5 381.0h1.1v1.1h-1.1zM400.8 434.3h1.1v1.1h-1.1zM447.0 374.3h1.1v1.1h-1.1zM435.5 429.1h1.1v1.1h-1.1zM438.5 387.9h1.1v1.1h-1.1zM379.5 406.9h1.1v1.1h-1.1zM428.6 399.3h1.1v1.1h-1.1zM400.1 406.3h1.1v1.1h-1.1zM419.7 427.6h1.1v1.1h-1.1zM387.8 411.3h1.1v1.1h-1.1zM383.8 409.8h1.1v1.1h-1.1zM454.5 368.6h1.1v1.1h-1.1zM406.4 392.1h1.1v1.1h-1.1zM450.3 395.9h1.1v1.1h-1.1zM395.7 415.0h1.1v1.1h-1.1zM403.0 427.7h1.1v1.1h-1.1zM397.4 406.4h1.1v1.1h-1.1zM438.3 427.4h1.1v1.1h-1.1zM410.7 398.1h1.1v1.1h-1.1zM417.2 398.4h1.1v1.1h-1.1zM436.5 387.1h1.1v1.1h-1.1zM432.7 419.9h1.1v1.1h-1.1zM415.5 383.5h1.1v1.1h-1.1zM385.2 417.0h1.1v1.1h-1.1zM392.4 383.2h1.1v1.1h-1.1zM394.4 396.4h1.1v1.1h-1.1zM380.0 422.8h1.1v1.1h-1.1zM504.0 420.7h1.1v1.1h-1.1zM525.0 386.1h1.1v1.1h-1.1zM533.0 384.4h1.1v1.1h-1.1zM482.3 408.2h1.1v1.1h-1.1zM506.1 400.4h1.1v1.1h-1.1zM514.3 396.4h1.1v1.1h-1.1zM501.7 383.5h1.1v1.1h-1.1zM501.9 411.2h1.1v1.1h-1.1zM532.1 413.2h1.1v1.1h-1.1zM521.1 432.9h1.1v1.1h-1.1zM473.4 390.0h1.1v1.1h-1.1zM521.7 407.8h1.1v1.1h-1.1zM486.4 398.1h1.1v1.1h-1.1zM487.2 395.2h1.1v1.1h-1.1zM503.4 415.6h1.1v1.1h-1.1zM538.3 393.7h1.1v1.1h-1.1zM536.8 435.0h1.1v1.1h-1.1zM538.5 405.0h1.1v1.1h-1.1zM477.3 394.3h1.1v1.1h-1.1zM491.8 369.2h1.1v1.1h-1.1zM543.3 398.6h1.1v1.1h-1.1zM495.5 404.3h1.1v1.1h-1.1zM542.4 396.2h1.1v1.1h-1.1zM488.2 401.6h1.1v1.1h-1.1zM484.9 419.2h1.1v1.1h-1.1zM554.5 403.3h1.1v1.1h-1.1zM546.8 435.0h1.1v1.1h-1.1zM527.6 407.6h1.1v1.1h-1.1z"/>
<path fill="#1a1a1a" fill-opacity="0.25" d="M428.9 407.4h1.1v1.1h-1.1zM380.5 379.8h1.1v1.1h-1.1zM422.2 385.4h1.1v1.1h-1.1zM401.8 296.3h1.1v1.1h-1.1zM449.7 402.0h1.1v1.1h-1.1zM425.7 395.2h1.1v1.1h-1.1zM422.4 419.1h1.1v1.1h-1.1zM373.5 387.9h1.1v1.1h-1.1zM433.1 373.8h1.1v1.1h-1.1zM425.8 391.5h1.1v1.1h-1.1zM400.1 384.5h1.1v1.1h-1.1zM436.4 381.4h1.1v1.1h-1.1zM430.4 396.8h1.1v1.1h-1.1zM455.6 366.9h1.1v1.1h-1.1zM377.3 396.9h1.1v1.1h-1.1zM440.4 339.8h1.1v1.1h-1.1zM385.7 358.8h1.1v1.1h-1.1zM392.3 421.6h1.1v1.1h-1.1zM424.4 425.3h1.1v1.1h-1.1zM420.8 396.3h1.1v1.1h-1.1zM456.3 425.6h1.1v1.1h-1.1zM389.1 401.2h1.1v1.1h-1.1zM438.0 395.0h1.1v1.1h-1.1zM390.6 388.3h1.1v1.1h-1.1zM455.3 386.7h1.1v1.1h-1.1zM397.1 411.9h1.1v1.1h-1.1zM408.8 410.9h1.1v1.1h-1.1zM409.1 405.1h1.1v1.1h-1.1zM431.7 401.6h1.1v1.1h-1.1zM456.1 393.6h1.1v1.1h-1.1zM452.1 405.4h1.1v1.1h-1.1zM373.1 420.8h1.1v1.1h-1.1zM443.7 400.2h1.1v1.1h-1.1zM454.5 371.1h1.1v1.1h-1.1zM418.2 412.4h1.1v1.1h-1.1zM429.5 412.4h1.1v1.1h-1.1zM383.6 394.0h1.1v1.1h-1.1zM380.7 368.1h1.1v1.1h-1.1zM415.7 419.6h1.1v1.1h-1.1zM397.4 386.9h1.1v1.1h-1.1zM454.3 411.2h1.1v1.1h-1.1zM403.5 382.1h1.1v1.1h-1.1zM448.5 358.3h1.1v1.1h-1.1zM419.5 390.8h1.1v1.1h-1.1zM517.8 386.8h1.1v1.1h-1.1zM511.0 361.7h1.1v1.1h-1.1zM523.4 398.0h1.1v1.1h-1.1zM494.8 419.9h1.1v1.1h-1.1z"/>
<path fill="#1a1a1a" fill-opacity="1.0" d="M411.9 381.7h1.1v1.1h-1.1zM399.2 441.5h1.1v1.1h-1.1zM393.5 342.3h1.1v1.1h-1.1zM382.0 400.3h1.1v1.1h-1.1zM435.8 419.5h1.1v1.1h-1.1zM401.9 396.4h1.1v1.1h-1.1zM419.8 415.8h1.1v1.1h-1.1zM404.1 377.5h1.1v1.1h-1.1zM418.0 395.3h1.1v1.1h-1.1zM474.2 412.1h1.1v1.1h-1.1zM524.8 409.1h1.1v1.1h-1.1zM555.2 394.9h1.1v1.1h-1.1zM473.4 414.4h1.1v1.1h-1.1zM534.1 397.5h1.1v1.1h-1.1z"/>
<line x1="384.20" y1="349.70" x2="384.20" y2="377.30" stroke="#F8766D" stroke-width="0.9" stroke-opacity="0.66"/>
<line x1="384.20" y1="407.00" x2="384.20" y2="441.00" stroke="#F8766D" stroke-width="0.9" stroke-opacity="0.66"/>
<rect x="378.40" y="377.30" width="11.60" height="29.70" fill="none" stroke="#F8766D" stroke-width="0.9" stroke-opacity="0.66"/>
<line x1="378.40" y1="397.70" x2="390.00" y2="397.70" stroke="#F8766D" stroke-width="1.7" stroke-opacity="0.66"/>
<line x1="396.75" y1="275.80" x2="396.75" y2="341.50" stroke="#B79F00" stroke-width="0.9" stroke-opacity="0.66"/>
<line x1="396.75" y1="407.40" x2="396.75" y2="442.60" stroke="#B79F00" stroke-width="0.9" stroke-opacity="0.66"/>
<rect x="391.00" y="341.50" width="11.50" height="65.90" fill="none" stroke="#B79F00" stroke-width="0.9" stroke-opacity="0.66"/>
<line x1="391.00" y1="387.20" x2="402.50" y2="387.20" stroke="#B79F00" stroke-width="1.7" stroke-opacity="0.66"/>
<line x1="409.05" y1="363.30" x2="409.05" y2="388.00" stroke="#00BA38" stroke-width="0.9" stroke-opacity="0.66"/>
<line x1="409.05" y1="420.30" x2="409.05" y2="440.70" stroke="#00BA38" stroke-width="0.9" stroke-opacity="0.66"/>
<rect x="403.40" y="388.00" width="11.30" height="32.30" fill="none" stroke="#00BA38" stroke-width="0.9" stroke-opacity="0.66"/>
<line x1="403.40" y1="405.50" x2="414.70" y2="405.50" stroke="#00BA38" stroke-width="1.7" stroke-opacity="0.66"/>
<line x1="421.35" y1="344.30" x2="421.35" y2="383.30" stroke="#00BFC4" stroke-width="0.9" stroke-opacity="0.66"/>
<line x1="421.35" y1="416.80" x2="421.35" y2="441.00" stroke="#00BFC4" stroke-width="0.9" stroke-opacity="0.66"/>
<rect x="415.70" y="383.30" width="11.30" height="33.50" fill="none" stroke="#00BFC4" stroke-width="0.9" stroke-opacity="0.66"/>
<line x1="415.70" y1="401.80" x2="427.00" y2="401.80" stroke="#00BFC4" stroke-width="1.7" stroke-opacity="0.66"/>
<line x1="433.95" y1="365.30" x2="433.95" y2="389.60" stroke="#619CFF" stroke-width="0.9" stroke-opacity="0.66"/>
<line x1="433.95" y1="412.50" x2="433.95" y2="433.30" stroke="#619CFF" stroke-width="0.9" stroke-opacity="0.66"/>
<rect x="428.30" y="389.60" width="11.30" height="22.90" fill="none" stroke="#619CFF" stroke-width="0.9" stroke-opacity="0.66"/>
<line x1="428.30" y1="399.30" x2="439.60" y2="399.30" stroke="#619CFF" stroke-width="1.7" stroke-opacity="0.66"/>
<line x1="446.00" y1="341.00" x2="446.00" y2="382.40" stroke="#F564E3" stroke-width="0.9" stroke-opacity="0.66"/>
<line x1="446.00" y1="413.90" x2="446.00" y2="443.00" stroke="#F564E3" stroke-width="0.9" stroke-opacity="0.66"/>
<rect x="440.40" y="382.40" width="11.20" height="31.50" fill="none" stroke="#F564E3" stroke-width="0.9" stroke-opacity="0.66"/>
<line x1="440.40" y1="398.90" x2="451.60" y2="398.90" stroke="#F564E3" stroke-width="1.7" stroke-opacity="0.66"/>
<line x1="483.00" y1="357.90" x2="483.00" y2="389.40" stroke="#F8766D" stroke-width="0.9" stroke-opacity="0.66"/>
<line x1="483.00" y1="413.00" x2="483.00" y2="445.60" stroke="#F8766D" stroke-width="0.9" stroke-opacity="0.66"/>
<rect x="477.20" y="389.40" width="11.60" height="23.60" fill="none" stroke="#F8766D" stroke-width="0.9" stroke-opacity="0.66"/>
<line x1="477.20" y1="402.30" x2="488.80" y2="402.30" stroke="#F8766D" stroke-width="1.7" stroke-opacity="0.66"/>
<line x1="495.40" y1="385.20" x2="495.40" y2="400.30" stroke="#B79F00" stroke-width="0.9" stroke-opacity="0.66"/>
<line x1="495.40" y1="422.60" x2="495.40" y2="438.40" stroke="#B79F00" stroke-width="0.9" stroke-opacity="0.66"/>
<rect x="489.70" y="400.30" width="11.40" height="22.30" fill="none" stroke="#B79F00" stroke-width="0.9" stroke-opacity="0.66"/>
<line x1="489.70" y1="409.50" x2="501.10" y2="409.50" stroke="#B79F00" stroke-width="1.7" stroke-opacity="0.66"/>
<line x1="507.90" y1="369.40" x2="507.90" y2="370.30" stroke="#00BA38" stroke-width="0.9" stroke-opacity="0.66"/>
<line x1="507.90" y1="412.50" x2="507.90" y2="425.70" stroke="#00BA38" stroke-width="0.9" stroke-opacity="0.66"/>
<rect x="502.20" y="370.30" width="11.40" height="42.20" fill="none" stroke="#00BA38" stroke-width="0.9" stroke-opacity="0.66"/>
<line x1="502.20" y1="395.30" x2="513.60" y2="395.30" stroke="#00BA38" stroke-width="1.7" stroke-opacity="0.66"/>
<line x1="520.10" y1="385.20" x2="520.10" y2="404.60" stroke="#00BFC4" stroke-width="0.9" stroke-opacity="0.66"/>
<line x1="520.10" y1="423.60" x2="520.10" y2="435.80" stroke="#00BFC4" stroke-width="0.9" stroke-opacity="0.66"/>
<rect x="514.40" y="404.60" width="11.40" height="19.00" fill="none" stroke="#00BFC4" stroke-width="0.9" stroke-opacity="0.66"/>
<line x1="514.40" y1="407.50" x2="525.80" y2="407.50" stroke="#00BFC4" stroke-width="1.7" stroke-opacity="0.66"/>
<line x1="532.40" y1="404.20" x2="532.40" y2="406.00" stroke="#619CFF" stroke-width="0.9" stroke-opacity="0.66"/>
<line x1="532.40" y1="419.60" x2="532.40" y2="435.80" stroke="#619CFF" stroke-width="0.9" stroke-opacity="0.66"/>
<rect x="526.90" y="406.00" width="11.00" height="13.60" fill="none" stroke="#619CFF" stroke-width="0.9" stroke-opacity="0.66"/>
<line x1="526.90" y1="407.50" x2="537.90" y2="407.50" stroke="#619CFF" stroke-width="1.7" stroke-opacity="0.66"/>
<rect x="539.30" y="394.40" width="11.30" height="14.20" fill="none" stroke="#F564E3" stroke-width="0.9" stroke-opacity="0.66"/>
<line x1="539.30" y1="397.30" x2="550.60" y2="397.30" stroke="#F564E3" stroke-width="1.7" stroke-opacity="0.66"/>
<rect x="383.2" y="318.0" width="2" height="2" fill="#F8766D"/>
<rect x="408.0" y="329.8" width="2" height="2" fill="#00BA38"/>
<rect x="420.4" y="326.7" width="2" height="2" fill="#00BFC4"/>
<rect x="433.0" y="335.5" width="2" height="2" fill="#619CFF"/>
<rect x="433.0" y="338.0" width="2" height="2" fill="#619CFF"/>
<rect x="433.0" y="353.2" width="2" height="2" fill="#619CFF"/>
<rect x="445.0" y="330.8" width="2" height="2" fill="#F564E3"/>
<rect x="445.0" y="333.5" width="2" height="2" fill="#F564E3"/>
<rect x="531.4" y="369.1" width="2" height="2" fill="#619CFF"/>
<rect x="544.0" y="430.8" width="2" height="2" fill="#F564E3"/>
<rect x="356.50" y="258.50" width="216.40" height="195.70" fill="none" stroke="#999" stroke-width="1" />
<line x1="354.30" y1="443.20" x2="356.50" y2="443.20" stroke="#555" stroke-width="0.6" />
<text x="353.10" y="446.10" font-size="10.5" text-anchor="end" fill="#1c1c1c" >-0.2</text>
<line x1="354.30" y1="389.40" x2="356.50" y2="389.40" stroke="#555" stroke-width="0.6" />
<text x="353.10" y="392.30" font-size="10.5" text-anchor="end" fill="#1c1c1c" >0.0</text>
<line x1="354.30" y1="335.60" x2="356.50" y2="335.60" stroke="#555" stroke-width="0.6" />
<text x="353.10" y="338.50" font-size="10.5" text-anchor="end" fill="#1c1c1c" >0.2</text>
<line x1="354.30" y1="281.80" x2="356.50" y2="281.80" stroke="#555" stroke-width="0.6" />
<text x="353.10" y="284.70" font-size="10.5" text-anchor="end" fill="#1c1c1c" >0.4</text>
<line x1="415.50" y1="454.20" x2="415.50" y2="456.40" stroke="#555" stroke-width="0.6" />
<line x1="513.80" y1="454.20" x2="513.80" y2="456.40" stroke="#555" stroke-width="0.6" />
<text x="358.10" y="253.10" font-size="10.4" text-anchor="start" fill="#1c1c1c" >H1N1</text>
<path d="M415.5,271.6 L415.5,267.4 L513.8,267.4 L513.8,271.6" fill="none" stroke="#777" stroke-width="0.8"/>
<text x="463.90" y="269.00" font-size="11" text-anchor="middle" fill="#111" >*</text>
<text x="0" y="0" font-size="10.6" text-anchor="middle" fill="#111" transform="translate(331.5,362.2) rotate(-90)">Gene set score</text>
<text x="402.40" y="465.50" font-size="10.5" text-anchor="start" fill="#1c1c1c" >TTneg</text>
<text x="500.90" y="465.50" font-size="10.5" text-anchor="start" fill="#1c1c1c" >TTpos</text>
<text x="424.10" y="480.10" font-size="10.6" text-anchor="start" fill="#1c1c1c" >sorting phenotype</text>
<text x="583.80" y="330.80" font-size="8.2" text-anchor="start" fill="#1c1c1c" >Sample:</text>
<line x1="586.40" y1="336.00" x2="586.40" y2="342.40" stroke="#F8766D" stroke-width="0.7" stroke-opacity="0.7"/>
<rect x="583.60" y="337.00" width="5.60" height="4.40" fill="#fff" stroke="#F8766D" stroke-width="0.7" stroke-opacity="0.7"/>
<line x1="583.60" y1="339.20" x2="589.20" y2="339.20" stroke="#F8766D" stroke-width="1.0" stroke-opacity="0.7"/>
<text x="592.00" y="341.50" font-size="8.3" text-anchor="start" fill="#1c1c1c" >01-004</text>
<line x1="586.40" y1="343.75" x2="586.40" y2="350.15" stroke="#B79F00" stroke-width="0.7" stroke-opacity="0.7"/>
<rect x="583.60" y="344.75" width="5.60" height="4.40" fill="#fff" stroke="#B79F00" stroke-width="0.7" stroke-opacity="0.7"/>
<line x1="583.60" y1="346.95" x2="589.20" y2="346.95" stroke="#B79F00" stroke-width="1.0" stroke-opacity="0.7"/>
<text x="592.00" y="349.25" font-size="8.3" text-anchor="start" fill="#1c1c1c" >01-018</text>
<line x1="586.40" y1="351.50" x2="586.40" y2="357.90" stroke="#00BA38" stroke-width="0.7" stroke-opacity="0.7"/>
<rect x="583.60" y="352.50" width="5.60" height="4.40" fill="#fff" stroke="#00BA38" stroke-width="0.7" stroke-opacity="0.7"/>
<line x1="583.60" y1="354.70" x2="589.20" y2="354.70" stroke="#00BA38" stroke-width="1.0" stroke-opacity="0.7"/>
<text x="592.00" y="357.00" font-size="8.3" text-anchor="start" fill="#1c1c1c" >01-046</text>
<line x1="586.40" y1="359.25" x2="586.40" y2="365.65" stroke="#00BFC4" stroke-width="0.7" stroke-opacity="0.7"/>
<rect x="583.60" y="360.25" width="5.60" height="4.40" fill="#fff" stroke="#00BFC4" stroke-width="0.7" stroke-opacity="0.7"/>
<line x1="583.60" y1="362.45" x2="589.20" y2="362.45" stroke="#00BFC4" stroke-width="1.0" stroke-opacity="0.7"/>
<text x="592.00" y="364.75" font-size="8.3" text-anchor="start" fill="#1c1c1c" >01-051</text>
<line x1="586.40" y1="367.00" x2="586.40" y2="373.40" stroke="#619CFF" stroke-width="0.7" stroke-opacity="0.7"/>
<rect x="583.60" y="368.00" width="5.60" height="4.40" fill="#fff" stroke="#619CFF" stroke-width="0.7" stroke-opacity="0.7"/>
<line x1="583.60" y1="370.20" x2="589.20" y2="370.20" stroke="#619CFF" stroke-width="1.0" stroke-opacity="0.7"/>
<text x="592.00" y="372.50" font-size="8.3" text-anchor="start" fill="#1c1c1c" >01-128</text>
<line x1="586.40" y1="374.75" x2="586.40" y2="381.15" stroke="#F564E3" stroke-width="0.7" stroke-opacity="0.7"/>
<rect x="583.60" y="375.75" width="5.60" height="4.40" fill="#fff" stroke="#F564E3" stroke-width="0.7" stroke-opacity="0.7"/>
<line x1="583.60" y1="377.95" x2="589.20" y2="377.95" stroke="#F564E3" stroke-width="1.0" stroke-opacity="0.7"/>
<text x="592.00" y="380.25" font-size="8.3" text-anchor="start" fill="#1c1c1c" >01-140</text>
<rect x="64.20" y="528.80" width="150.50" height="147.40" fill="#fff" stroke="none" stroke-width="1" />
<line x1="64.20" y1="654.65" x2="214.70" y2="654.65" stroke="#f5f5f5" stroke-width="0.5" />
<line x1="64.20" y1="627.35" x2="214.70" y2="627.35" stroke="#f5f5f5" stroke-width="0.5" />
<line x1="64.20" y1="600.05" x2="214.70" y2="600.05" stroke="#f5f5f5" stroke-width="0.5" />
<line x1="64.20" y1="572.75" x2="214.70" y2="572.75" stroke="#f5f5f5" stroke-width="0.5" />
<line x1="64.20" y1="545.45" x2="214.70" y2="545.45" stroke="#f5f5f5" stroke-width="0.5" />
<line x1="64.20" y1="531.80" x2="214.70" y2="531.80" stroke="#ececec" stroke-width="0.7" />
<line x1="64.20" y1="559.10" x2="214.70" y2="559.10" stroke="#ececec" stroke-width="0.7" />
<line x1="64.20" y1="586.40" x2="214.70" y2="586.40" stroke="#ececec" stroke-width="0.7" />
<line x1="64.20" y1="613.70" x2="214.70" y2="613.70" stroke="#ececec" stroke-width="0.7" />
<line x1="64.20" y1="641.00" x2="214.70" y2="641.00" stroke="#ececec" stroke-width="0.7" />
<line x1="64.20" y1="668.30" x2="214.70" y2="668.30" stroke="#ececec" stroke-width="0.7" />
<line x1="105.00" y1="528.80" x2="105.00" y2="676.20" stroke="#ececec" stroke-width="0.7" />
<line x1="173.70" y1="528.80" x2="173.70" y2="676.20" stroke="#ececec" stroke-width="0.7" />
<path fill="#1a1a1a" fill-opacity="0.75" d="M126.5 628.1h1v1h-1zM106.6 648.8h1v1h-1zM129.9 646.7h1v1h-1zM85.7 609.0h1v1h-1zM127.1 659.4h1v1h-1zM99.3 649.1h1v1h-1zM99.3 643.3h1v1h-1zM90.4 655.6h1v1h-1zM129.6 588.9h1v1h-1zM98.6 639.6h1v1h-1zM108.4 631.4h1v1h-1zM108.8 623.0h1v1h-1zM125.3 638.9h1v1h-1zM97.1 637.0h1v1h-1zM111.2 645.3h1v1h-1zM92.8 616.0h1v1h-1zM93.1 646.9h1v1h-1zM117.9 640.6h1v1h-1zM108.0 642.9h1v1h-1zM102.2 649.0h1v1h-1zM91.6 641.0h1v1h-1zM116.6 646.0h1v1h-1zM92.9 643.3h1v1h-1zM95.2 627.5h1v1h-1zM120.4 630.4h1v1h-1zM88.6 638.3h1v1h-1zM79.0 613.3h1v1h-1zM100.1 641.4h1v1h-1zM121.7 635.3h1v1h-1zM106.5 611.8h1v1h-1zM119.6 670.9h1v1h-1zM119.4 641.1h1v1h-1zM99.7 653.1h1v1h-1zM130.7 655.1h1v1h-1zM115.8 634.6h1v1h-1zM99.8 614.6h1v1h-1zM78.0 629.8h1v1h-1zM82.3 635.0h1v1h-1zM82.4 628.4h1v1h-1zM80.5 645.9h1v1h-1zM97.1 615.6h1v1h-1zM121.3 640.9h1v1h-1zM120.2 658.0h1v1h-1zM80.0 658.7h1v1h-1zM121.5 634.8h1v1h-1zM86.5 591.3h1v1h-1zM120.3 622.8h1v1h-1zM102.2 639.6h1v1h-1zM80.1 640.4h1v1h-1zM101.7 639.9h1v1h-1zM87.0 652.0h1v1h-1zM115.2 656.5h1v1h-1zM84.8 621.7h1v1h-1zM95.7 654.6h1v1h-1zM84.9 642.1h1v1h-1zM104.7 651.7h1v1h-1zM94.9 650.4h1v1h-1zM116.6 652.4h1v1h-1zM104.4 649.1h1v1h-1zM113.3 659.4h1v1h-1zM78.8 640.1h1v1h-1zM114.5 648.1h1v1h-1zM86.4 602.5h1v1h-1zM126.6 644.5h1v1h-1zM92.3 644.2h1v1h-1zM86.5 641.3h1v1h-1zM82.0 643.5h1v1h-1zM119.7 628.5h1v1h-1zM101.9 634.1h1v1h-1zM93.6 648.2h1v1h-1zM98.6 629.1h1v1h-1zM109.2 637.9h1v1h-1zM95.2 632.0h1v1h-1zM84.8 636.0h1v1h-1zM107.5 656.0h1v1h-1zM121.5 631.9h1v1h-1zM114.0 644.5h1v1h-1zM97.4 638.5h1v1h-1zM124.9 651.4h1v1h-1zM98.2 631.5h1v1h-1zM81.1 651.1h1v1h-1zM111.4 619.9h1v1h-1zM96.0 628.6h1v1h-1zM102.3 652.1h1v1h-1zM114.3 643.2h1v1h-1zM104.0 632.6h1v1h-1zM84.3 649.7h1v1h-1zM100.4 668.9h1v1h-1zM92.4 638.8h1v1h-1zM93.1 642.9h1v1h-1zM120.1 621.8h1v1h-1zM83.5 666.7h1v1h-1zM113.4 645.3h1v1h-1zM92.3 642.6h1v1h-1zM131.4 633.0h1v1h-1zM107.7 665.6h1v1h-1zM88.0 615.0h1v1h-1zM122.6 655.0h1v1h-1zM107.2 633.8h1v1h-1zM119.2 645.2h1v1h-1zM127.6 651.5h1v1h-1zM115.2 663.6h1v1h-1zM82.4 651.1h1v1h-1zM127.9 650.5h1v1h-1zM84.1 656.8h1v1h-1zM131.3 621.6h1v1h-1zM111.7 630.9h1v1h-1zM111.7 645.1h1v1h-1zM77.4 635.9h1v1h-1zM115.0 646.1h1v1h-1zM128.1 656.6h1v1h-1zM116.4 618.9h1v1h-1zM89.7 640.7h1v1h-1zM96.4 639.8h1v1h-1zM85.4 654.0h1v1h-1zM105.8 649.2h1v1h-1zM77.8 650.7h1v1h-1zM79.5 639.8h1v1h-1zM119.4 649.8h1v1h-1zM77.8 625.3h1v1h-1zM107.0 657.1h1v1h-1zM110.4 646.8h1v1h-1zM78.6 639.7h1v1h-1zM80.9 641.0h1v1h-1zM87.7 647.7h1v1h-1zM112.0 650.5h1v1h-1zM129.6 619.9h1v1h-1zM156.4 633.7h1v1h-1zM179.5 633.6h1v1h-1zM199.0 667.2h1v1h-1zM192.0 661.9h1v1h-1zM169.5 650.2h1v1h-1zM195.9 653.3h1v1h-1zM147.0 637.6h1v1h-1zM149.4 635.9h1v1h-1zM162.5 609.0h1v1h-1zM180.7 652.8h1v1h-1zM188.5 623.2h1v1h-1zM187.0 646.7h1v1h-1zM197.1 634.0h1v1h-1zM161.5 653.9h1v1h-1zM159.8 657.0h1v1h-1zM193.8 648.8h1v1h-1zM163.7 636.1h1v1h-1zM194.1 651.8h1v1h-1zM171.1 625.0h1v1h-1zM179.3 638.3h1v1h-1zM195.6 610.0h1v1h-1zM171.7 653.9h1v1h-1zM183.7 661.7h1v1h-1zM198.4 622.8h1v1h-1zM159.5 608.2h1v1h-1zM159.0 640.4h1v1h-1z"/>
<path fill="#1a1a1a" fill-opacity="1.0" d="M121.8 628.9h1v1h-1zM92.9 640.8h1v1h-1zM118.5 648.9h1v1h-1zM106.5 631.7h1v1h-1zM103.9 637.8h1v1h-1zM113.7 650.0h1v1h-1zM103.9 648.1h1v1h-1zM85.6 641.5h1v1h-1zM93.1 661.8h1v1h-1zM127.6 649.9h1v1h-1zM104.6 609.4h1v1h-1zM130.4 615.9h1v1h-1zM90.4 655.4h1v1h-1zM128.1 587.7h1v1h-1zM171.1 627.7h1v1h-1zM147.0 656.2h1v1h-1z"/>
<path fill="#1a1a1a" fill-opacity="0.5" d="M83.9 635.6h1v1h-1zM104.1 636.0h1v1h-1zM111.3 614.7h1v1h-1zM85.9 653.3h1v1h-1zM113.0 641.9h1v1h-1zM113.2 627.5h1v1h-1zM117.0 650.3h1v1h-1zM119.6 658.9h1v1h-1zM126.7 638.9h1v1h-1zM87.2 640.4h1v1h-1zM108.1 648.2h1v1h-1zM99.9 636.9h1v1h-1zM97.8 639.6h1v1h-1zM101.6 627.3h1v1h-1zM80.8 649.0h1v1h-1zM129.1 639.8h1v1h-1zM92.9 636.8h1v1h-1zM106.3 620.4h1v1h-1zM78.8 650.3h1v1h-1zM98.1 643.4h1v1h-1zM86.4 667.9h1v1h-1zM110.9 632.1h1v1h-1zM114.5 635.1h1v1h-1zM86.6 587.6h1v1h-1zM121.7 651.5h1v1h-1zM98.0 631.9h1v1h-1zM128.9 650.2h1v1h-1zM93.9 625.6h1v1h-1zM95.6 657.5h1v1h-1zM83.5 635.3h1v1h-1zM99.0 639.1h1v1h-1zM107.0 656.2h1v1h-1zM103.1 637.6h1v1h-1zM105.0 636.8h1v1h-1zM101.9 656.2h1v1h-1zM107.2 657.8h1v1h-1zM92.8 597.1h1v1h-1zM107.7 642.7h1v1h-1zM118.5 636.6h1v1h-1zM120.6 654.8h1v1h-1zM128.8 628.1h1v1h-1zM112.9 652.5h1v1h-1zM85.3 635.0h1v1h-1zM112.3 641.5h1v1h-1zM119.9 616.9h1v1h-1zM112.9 633.5h1v1h-1zM98.6 630.9h1v1h-1zM115.1 605.7h1v1h-1zM106.4 644.1h1v1h-1zM106.9 588.4h1v1h-1zM128.8 624.1h1v1h-1zM100.4 594.7h1v1h-1zM122.2 635.2h1v1h-1zM128.5 635.0h1v1h-1zM98.2 647.7h1v1h-1zM130.8 642.3h1v1h-1zM81.9 634.7h1v1h-1zM114.1 653.8h1v1h-1zM78.0 646.2h1v1h-1zM110.6 660.8h1v1h-1zM92.7 655.7h1v1h-1zM94.7 617.8h1v1h-1zM129.8 615.2h1v1h-1zM99.9 600.1h1v1h-1zM100.5 642.4h1v1h-1zM104.3 636.7h1v1h-1zM108.6 628.2h1v1h-1zM101.8 636.9h1v1h-1zM130.4 641.2h1v1h-1zM114.6 642.9h1v1h-1zM93.4 635.6h1v1h-1zM124.4 645.9h1v1h-1zM108.7 618.5h1v1h-1zM123.9 650.9h1v1h-1zM105.1 606.8h1v1h-1zM112.0 649.4h1v1h-1zM117.5 638.8h1v1h-1zM118.6 646.7h1v1h-1zM84.6 648.8h1v1h-1zM101.5 638.0h1v1h-1zM129.6 659.8h1v1h-1zM95.4 660.0h1v1h-1zM111.7 601.7h1v1h-1zM103.2 636.5h1v1h-1zM109.5 643.5h1v1h-1zM100.3 643.5h1v1h-1zM108.2 650.3h1v1h-1zM117.9 621.7h1v1h-1zM86.6 642.2h1v1h-1zM112.8 612.8h1v1h-1zM104.2 620.3h1v1h-1zM94.6 644.1h1v1h-1zM85.0 646.4h1v1h-1zM129.6 655.3h1v1h-1zM126.5 657.7h1v1h-1zM95.1 654.1h1v1h-1zM82.8 633.0h1v1h-1zM112.8 640.5h1v1h-1zM96.7 650.9h1v1h-1zM128.5 627.1h1v1h-1zM82.9 647.5h1v1h-1zM83.9 647.3h1v1h-1zM105.0 639.0h1v1h-1zM88.6 662.3h1v1h-1zM103.0 640.1h1v1h-1zM107.7 632.9h1v1h-1zM91.4 629.5h1v1h-1zM123.4 641.4h1v1h-1zM87.6 648.3h1v1h-1zM89.8 635.4h1v1h-1zM112.8 627.0h1v1h-1zM79.9 660.1h1v1h-1zM115.3 649.4h1v1h-1zM121.8 617.6h1v1h-1zM127.4 646.8h1v1h-1zM110.2 639.9h1v1h-1zM100.9 641.8h1v1h-1zM82.9 666.4h1v1h-1zM121.4 654.9h1v1h-1zM113.5 628.1h1v1h-1zM106.1 642.7h1v1h-1zM87.5 629.6h1v1h-1zM116.3 640.0h1v1h-1zM114.8 653.9h1v1h-1zM87.1 660.2h1v1h-1zM96.9 644.6h1v1h-1zM121.3 641.9h1v1h-1zM155.4 634.7h1v1h-1zM160.9 643.7h1v1h-1zM156.1 655.7h1v1h-1zM196.5 654.4h1v1h-1zM150.4 643.2h1v1h-1zM157.9 625.8h1v1h-1zM164.8 635.3h1v1h-1zM161.2 648.6h1v1h-1zM194.9 643.6h1v1h-1zM160.7 621.2h1v1h-1zM148.0 663.8h1v1h-1zM200.3 636.0h1v1h-1zM185.7 630.1h1v1h-1zM159.0 651.9h1v1h-1zM193.7 626.7h1v1h-1zM184.8 647.5h1v1h-1zM199.7 637.3h1v1h-1zM195.4 645.3h1v1h-1zM173.2 645.1h1v1h-1zM169.8 641.5h1v1h-1zM164.5 654.6h1v1h-1zM181.1 646.6h1v1h-1zM196.9 637.2h1v1h-1zM191.5 636.6h1v1h-1zM148.2 659.8h1v1h-1zM157.3 643.5h1v1h-1zM170.3 648.2h1v1h-1zM160.2 666.1h1v1h-1zM190.3 626.2h1v1h-1zM160.8 636.1h1v1h-1z"/>
<path fill="#1a1a1a" fill-opacity="0.25" d="M122.4 641.2h1v1h-1zM89.6 642.8h1v1h-1zM84.8 638.6h1v1h-1zM107.0 647.8h1v1h-1zM108.9 624.4h1v1h-1zM125.8 647.7h1v1h-1zM99.3 635.8h1v1h-1zM95.7 643.1h1v1h-1zM125.5 638.4h1v1h-1zM81.4 646.2h1v1h-1zM127.7 648.9h1v1h-1zM128.9 619.5h1v1h-1zM109.4 622.5h1v1h-1zM103.9 620.9h1v1h-1zM124.0 636.5h1v1h-1zM108.3 668.2h1v1h-1zM86.2 625.0h1v1h-1zM88.5 652.0h1v1h-1zM82.2 644.9h1v1h-1zM81.8 587.8h1v1h-1zM88.0 633.1h1v1h-1zM90.3 657.4h1v1h-1zM95.7 637.0h1v1h-1zM82.1 618.4h1v1h-1zM98.3 636.0h1v1h-1zM78.4 639.9h1v1h-1zM127.7 641.8h1v1h-1zM103.0 658.1h1v1h-1zM86.7 638.0h1v1h-1zM99.0 629.0h1v1h-1zM109.4 664.8h1v1h-1zM107.2 603.4h1v1h-1zM178.8 644.7h1v1h-1zM164.0 636.7h1v1h-1zM196.8 642.6h1v1h-1zM162.8 665.9h1v1h-1zM189.0 642.6h1v1h-1zM191.6 637.3h1v1h-1zM155.0 639.3h1v1h-1zM147.5 632.5h1v1h-1zM172.2 662.7h1v1h-1zM191.1 652.7h1v1h-1zM190.8 654.7h1v1h-1zM170.0 615.2h1v1h-1z"/>
<line x1="104.85" y1="586.60" x2="104.85" y2="629.30" stroke="#F8766D" stroke-width="0.9" stroke-opacity="0.6"/>
<line x1="104.85" y1="656.20" x2="104.85" y2="668.30" stroke="#F8766D" stroke-width="0.9" stroke-opacity="0.6"/>
<rect x="79.20" y="629.30" width="51.30" height="26.90" fill="none" stroke="#F8766D" stroke-width="0.9" stroke-opacity="0.6"/>
<line x1="79.20" y1="644.30" x2="130.50" y2="644.30" stroke="#F8766D" stroke-width="1.5" stroke-opacity="0.6"/>
<line x1="173.30" y1="606.90" x2="173.30" y2="635.20" stroke="#00BFC4" stroke-width="0.9" stroke-opacity="0.6"/>
<line x1="173.30" y1="654.30" x2="173.30" y2="669.50" stroke="#00BFC4" stroke-width="0.9" stroke-opacity="0.6"/>
<rect x="147.10" y="635.20" width="52.40" height="19.10" fill="none" stroke="#00BFC4" stroke-width="0.9" stroke-opacity="0.6"/>
<line x1="147.10" y1="644.30" x2="199.50" y2="644.30" stroke="#00BFC4" stroke-width="1.5" stroke-opacity="0.6"/>
<rect x="104.1" y="541.0" width="1.4" height="1.4" fill="#F8766D" fill-opacity="0.85"/>
<rect x="104.1" y="556.7" width="1.4" height="1.4" fill="#F8766D" fill-opacity="0.85"/>
<rect x="104.1" y="564.8" width="1.4" height="1.4" fill="#F8766D" fill-opacity="0.85"/>
<rect x="104.1" y="569.8" width="1.4" height="1.4" fill="#F8766D" fill-opacity="0.85"/>
<rect x="104.1" y="574.2" width="1.4" height="1.4" fill="#F8766D" fill-opacity="0.85"/>
<rect x="104.1" y="578.8" width="1.4" height="1.4" fill="#F8766D" fill-opacity="0.85"/>
<rect x="104.1" y="582.4" width="1.4" height="1.4" fill="#F8766D" fill-opacity="0.85"/>
<rect x="172.4" y="587.9" width="2" height="2" fill="#00BFC4"/>
<rect x="64.20" y="528.80" width="150.50" height="147.40" fill="none" stroke="#999" stroke-width="1" />
<line x1="62.00" y1="531.80" x2="64.20" y2="531.80" stroke="#555" stroke-width="0.6" />
<text x="60.30" y="534.70" font-size="10.5" text-anchor="end" fill="#1c1c1c" >2.0</text>
<line x1="62.00" y1="559.10" x2="64.20" y2="559.10" stroke="#555" stroke-width="0.6" />
<text x="60.30" y="562.00" font-size="10.5" text-anchor="end" fill="#1c1c1c" >1.5</text>
<line x1="62.00" y1="586.40" x2="64.20" y2="586.40" stroke="#555" stroke-width="0.6" />
<text x="60.30" y="589.30" font-size="10.5" text-anchor="end" fill="#1c1c1c" >1.0</text>
<line x1="62.00" y1="613.70" x2="64.20" y2="613.70" stroke="#555" stroke-width="0.6" />
<text x="60.30" y="616.60" font-size="10.5" text-anchor="end" fill="#1c1c1c" >0.5</text>
<line x1="62.00" y1="641.00" x2="64.20" y2="641.00" stroke="#555" stroke-width="0.6" />
<text x="60.30" y="643.90" font-size="10.5" text-anchor="end" fill="#1c1c1c" >0.0</text>
<line x1="62.00" y1="668.30" x2="64.20" y2="668.30" stroke="#555" stroke-width="0.6" />
<text x="60.30" y="671.20" font-size="10.5" text-anchor="end" fill="#1c1c1c" >-0.5</text>
<line x1="105.00" y1="676.20" x2="105.00" y2="678.40" stroke="#555" stroke-width="0.6" />
<line x1="173.70" y1="676.20" x2="173.70" y2="678.40" stroke="#555" stroke-width="0.6" />
<path d="M105.1,539.9 L105.1,535.7 L173.8,535.7 L173.8,539.9" fill="none" stroke="#777" stroke-width="0.8"/>
<text x="139.80" y="544.70" font-size="11" text-anchor="middle" fill="#111" >ns</text>
<text x="69.4" y="523.7" font-size="10.6" fill="#111">Cluster 1 (T<tspan font-size="7" dy="1.4">EM</tspan><tspan dy="-1.4"> GZMK</tspan><tspan font-size="6.5" dy="-4.2">+</tspan><tspan dy="4.2">)</tspan></text>
<text x="88.10" y="687.30" font-size="10.5" text-anchor="start" fill="#1c1c1c" >TTneg</text>
<text x="158.50" y="687.30" font-size="10.5" text-anchor="start" fill="#1c1c1c" >TTpos</text>
<text x="96.00" y="701.80" font-size="10.6" text-anchor="start" fill="#1c1c1c" >sorting phenotype</text>
<rect x="255.60" y="529.30" width="150.00" height="146.10" fill="#fff" stroke="none" stroke-width="1" />
<line x1="255.60" y1="542.50" x2="405.60" y2="542.50" stroke="#f5f5f5" stroke-width="0.5" />
<line x1="255.60" y1="581.60" x2="405.60" y2="581.60" stroke="#f5f5f5" stroke-width="0.5" />
<line x1="255.60" y1="621.00" x2="405.60" y2="621.00" stroke="#f5f5f5" stroke-width="0.5" />
<line x1="255.60" y1="660.20" x2="405.60" y2="660.20" stroke="#f5f5f5" stroke-width="0.5" />
<line x1="255.60" y1="562.10" x2="405.60" y2="562.10" stroke="#ececec" stroke-width="0.7" />
<line x1="255.60" y1="601.50" x2="405.60" y2="601.50" stroke="#ececec" stroke-width="0.7" />
<line x1="255.60" y1="640.60" x2="405.60" y2="640.60" stroke="#ececec" stroke-width="0.7" />
<line x1="296.50" y1="529.30" x2="296.50" y2="675.40" stroke="#ececec" stroke-width="0.7" />
<line x1="364.80" y1="529.30" x2="364.80" y2="675.40" stroke="#ececec" stroke-width="0.7" />
<path fill="#1a1a1a" fill-opacity="0.5" d="M305.4 658.0h1v1h-1zM294.4 648.1h1v1h-1zM273.7 642.6h1v1h-1zM323.3 647.6h1v1h-1zM320.2 621.0h1v1h-1zM316.6 632.2h1v1h-1zM307.2 630.5h1v1h-1zM309.0 630.7h1v1h-1zM320.1 638.4h1v1h-1zM302.4 620.9h1v1h-1zM280.5 615.7h1v1h-1zM277.2 639.0h1v1h-1zM306.2 640.7h1v1h-1zM320.8 618.5h1v1h-1zM284.2 649.9h1v1h-1zM317.2 637.5h1v1h-1zM292.1 646.5h1v1h-1zM322.0 654.5h1v1h-1zM283.9 629.4h1v1h-1zM289.3 639.5h1v1h-1zM287.4 624.3h1v1h-1zM280.7 636.6h1v1h-1zM309.7 638.5h1v1h-1zM304.9 632.5h1v1h-1zM291.6 644.3h1v1h-1zM296.6 640.9h1v1h-1zM311.0 631.7h1v1h-1zM293.8 624.4h1v1h-1zM300.1 665.7h1v1h-1zM277.2 653.5h1v1h-1zM291.1 630.7h1v1h-1zM294.6 643.1h1v1h-1zM306.4 635.6h1v1h-1zM283.8 613.1h1v1h-1zM322.6 638.8h1v1h-1zM268.5 641.6h1v1h-1zM305.8 622.4h1v1h-1zM279.7 640.0h1v1h-1zM311.3 616.3h1v1h-1zM321.3 629.4h1v1h-1zM286.8 653.2h1v1h-1zM269.5 606.1h1v1h-1zM313.0 623.7h1v1h-1zM307.2 620.0h1v1h-1zM268.0 645.8h1v1h-1zM274.2 618.7h1v1h-1zM275.5 646.0h1v1h-1zM279.7 652.5h1v1h-1zM296.0 651.5h1v1h-1zM293.4 617.5h1v1h-1zM294.3 630.8h1v1h-1zM303.8 656.6h1v1h-1zM305.2 627.4h1v1h-1zM298.5 637.9h1v1h-1zM282.3 663.2h1v1h-1zM278.6 652.3h1v1h-1zM279.1 645.2h1v1h-1zM276.2 664.1h1v1h-1zM297.5 640.1h1v1h-1zM315.6 612.3h1v1h-1zM304.1 618.7h1v1h-1zM276.5 620.6h1v1h-1zM283.9 637.5h1v1h-1zM306.5 632.3h1v1h-1zM316.1 629.3h1v1h-1zM308.9 654.7h1v1h-1zM276.6 650.3h1v1h-1zM320.9 648.8h1v1h-1zM287.9 622.5h1v1h-1zM271.9 596.5h1v1h-1zM282.7 608.5h1v1h-1zM277.7 645.3h1v1h-1zM296.4 646.2h1v1h-1zM269.8 638.2h1v1h-1zM306.0 633.3h1v1h-1zM269.0 646.2h1v1h-1zM279.8 637.2h1v1h-1zM289.1 643.5h1v1h-1zM285.6 639.5h1v1h-1zM316.9 651.7h1v1h-1zM292.1 604.1h1v1h-1zM323.3 629.7h1v1h-1zM294.0 622.0h1v1h-1zM315.8 633.5h1v1h-1zM280.1 646.7h1v1h-1zM312.5 661.7h1v1h-1zM272.8 646.2h1v1h-1zM284.2 649.5h1v1h-1zM297.4 643.0h1v1h-1zM269.8 628.5h1v1h-1zM320.5 621.3h1v1h-1zM301.4 616.2h1v1h-1zM284.6 623.9h1v1h-1zM307.9 627.7h1v1h-1zM270.4 639.9h1v1h-1zM322.5 639.8h1v1h-1zM289.6 639.2h1v1h-1zM274.2 636.2h1v1h-1zM300.7 628.7h1v1h-1zM288.9 624.0h1v1h-1zM310.9 634.9h1v1h-1zM290.8 659.0h1v1h-1zM274.7 624.9h1v1h-1zM305.2 627.7h1v1h-1zM279.3 654.9h1v1h-1zM309.0 655.8h1v1h-1zM307.9 634.2h1v1h-1zM288.0 642.8h1v1h-1zM317.5 655.4h1v1h-1zM296.1 613.8h1v1h-1zM289.3 601.7h1v1h-1zM276.6 631.6h1v1h-1zM313.8 626.5h1v1h-1zM312.6 642.0h1v1h-1zM299.8 653.5h1v1h-1zM270.6 621.9h1v1h-1zM321.2 637.9h1v1h-1zM273.3 637.2h1v1h-1zM303.3 636.5h1v1h-1zM268.6 626.2h1v1h-1zM304.7 646.6h1v1h-1zM286.0 629.2h1v1h-1zM270.0 628.0h1v1h-1zM304.1 635.7h1v1h-1zM273.5 649.1h1v1h-1zM314.1 645.9h1v1h-1zM289.7 637.3h1v1h-1zM283.9 664.4h1v1h-1zM308.4 638.7h1v1h-1zM385.0 614.0h1v1h-1zM356.1 614.7h1v1h-1zM365.0 607.1h1v1h-1zM367.7 642.4h1v1h-1zM362.6 610.4h1v1h-1zM379.2 584.5h1v1h-1zM370.5 589.5h1v1h-1zM376.6 617.0h1v1h-1zM360.6 652.2h1v1h-1zM363.8 610.2h1v1h-1zM390.0 637.0h1v1h-1zM387.4 619.2h1v1h-1zM344.0 572.9h1v1h-1zM375.1 637.5h1v1h-1zM342.4 627.4h1v1h-1zM347.3 598.1h1v1h-1zM353.9 626.5h1v1h-1zM370.4 595.3h1v1h-1zM347.0 636.3h1v1h-1zM366.5 579.2h1v1h-1zM345.7 617.0h1v1h-1zM378.7 608.9h1v1h-1zM376.9 618.4h1v1h-1zM342.8 595.5h1v1h-1zM376.4 577.7h1v1h-1zM365.3 601.2h1v1h-1zM364.9 611.6h1v1h-1zM354.1 642.0h1v1h-1z"/>
<path fill="#1a1a1a" fill-opacity="0.25" d="M302.7 654.6h1v1h-1zM297.3 655.4h1v1h-1zM321.3 641.9h1v1h-1zM305.0 629.5h1v1h-1zM319.6 634.2h1v1h-1zM303.9 646.1h1v1h-1zM298.4 653.6h1v1h-1zM277.4 643.2h1v1h-1zM307.2 625.5h1v1h-1zM268.7 621.9h1v1h-1zM318.8 626.4h1v1h-1zM283.1 619.0h1v1h-1zM323.3 656.1h1v1h-1zM293.7 650.8h1v1h-1zM291.1 663.6h1v1h-1zM278.1 625.8h1v1h-1zM274.4 632.6h1v1h-1zM309.4 647.4h1v1h-1zM306.4 633.7h1v1h-1zM295.7 633.1h1v1h-1zM309.2 654.6h1v1h-1zM323.0 637.8h1v1h-1zM312.8 664.5h1v1h-1zM312.4 638.1h1v1h-1zM273.6 635.8h1v1h-1zM313.8 665.7h1v1h-1zM298.7 619.9h1v1h-1zM270.6 611.2h1v1h-1zM272.5 632.9h1v1h-1zM322.4 659.3h1v1h-1zM318.7 622.5h1v1h-1zM289.2 626.7h1v1h-1zM303.0 628.1h1v1h-1zM285.3 644.4h1v1h-1zM313.7 617.4h1v1h-1zM322.8 651.1h1v1h-1zM310.7 647.0h1v1h-1zM311.3 667.9h1v1h-1zM293.9 655.2h1v1h-1zM303.1 639.9h1v1h-1zM349.0 621.6h1v1h-1zM353.6 623.4h1v1h-1zM364.5 614.6h1v1h-1zM354.2 638.5h1v1h-1zM351.1 596.2h1v1h-1zM353.7 559.1h1v1h-1z"/>
<path fill="#1a1a1a" fill-opacity="0.75" d="M278.5 588.6h1v1h-1zM314.2 627.6h1v1h-1zM287.4 636.7h1v1h-1zM274.8 614.1h1v1h-1zM316.9 648.2h1v1h-1zM295.5 637.3h1v1h-1zM283.8 659.5h1v1h-1zM271.6 645.2h1v1h-1zM295.3 649.6h1v1h-1zM321.1 622.3h1v1h-1zM302.0 638.0h1v1h-1zM303.4 618.4h1v1h-1zM278.9 661.7h1v1h-1zM304.9 626.7h1v1h-1zM310.4 631.6h1v1h-1zM286.2 635.3h1v1h-1zM319.1 625.2h1v1h-1zM293.1 650.7h1v1h-1zM305.8 644.2h1v1h-1zM283.7 623.2h1v1h-1zM315.1 651.4h1v1h-1zM297.1 619.8h1v1h-1zM299.4 600.7h1v1h-1zM322.2 638.7h1v1h-1zM309.4 635.1h1v1h-1zM278.6 641.3h1v1h-1zM279.3 621.8h1v1h-1zM318.3 650.0h1v1h-1zM282.1 652.9h1v1h-1zM299.8 633.7h1v1h-1zM290.2 651.0h1v1h-1zM305.0 620.9h1v1h-1zM302.3 637.7h1v1h-1zM295.7 662.6h1v1h-1zM307.6 637.1h1v1h-1zM290.3 639.4h1v1h-1zM280.8 638.2h1v1h-1zM303.6 670.3h1v1h-1zM319.6 651.5h1v1h-1zM296.1 631.6h1v1h-1zM273.9 641.1h1v1h-1zM290.1 638.9h1v1h-1zM290.4 656.2h1v1h-1zM285.2 636.6h1v1h-1zM294.6 632.0h1v1h-1zM282.5 624.9h1v1h-1zM289.0 634.6h1v1h-1zM269.9 621.7h1v1h-1zM279.4 639.0h1v1h-1zM278.7 631.7h1v1h-1zM308.2 646.5h1v1h-1zM321.3 646.4h1v1h-1zM315.5 641.5h1v1h-1zM274.7 618.3h1v1h-1zM310.5 631.6h1v1h-1zM275.4 626.0h1v1h-1zM318.3 627.4h1v1h-1zM299.6 620.8h1v1h-1zM299.6 634.0h1v1h-1zM291.7 628.1h1v1h-1zM320.7 629.3h1v1h-1zM271.9 653.8h1v1h-1zM300.1 637.4h1v1h-1zM295.7 635.0h1v1h-1zM280.7 639.4h1v1h-1zM309.6 628.3h1v1h-1zM278.6 648.3h1v1h-1zM318.8 654.5h1v1h-1zM272.5 650.6h1v1h-1zM315.6 642.5h1v1h-1zM315.2 637.7h1v1h-1zM281.7 654.6h1v1h-1zM287.7 637.3h1v1h-1zM311.7 638.1h1v1h-1zM289.3 646.0h1v1h-1zM303.9 634.6h1v1h-1zM280.7 627.9h1v1h-1zM287.1 636.7h1v1h-1zM284.2 649.0h1v1h-1zM299.0 642.4h1v1h-1zM302.9 626.1h1v1h-1zM273.0 620.2h1v1h-1zM309.5 650.1h1v1h-1zM317.8 636.1h1v1h-1zM289.0 624.8h1v1h-1zM287.5 636.7h1v1h-1zM285.3 641.6h1v1h-1zM269.5 630.3h1v1h-1zM276.7 639.9h1v1h-1zM316.4 623.7h1v1h-1zM282.9 641.2h1v1h-1zM309.2 643.9h1v1h-1zM282.9 627.0h1v1h-1zM296.4 638.1h1v1h-1zM305.9 640.6h1v1h-1zM300.6 632.9h1v1h-1zM285.7 656.5h1v1h-1zM278.6 612.7h1v1h-1zM313.3 635.9h1v1h-1zM298.6 620.2h1v1h-1zM299.1 650.6h1v1h-1zM323.4 654.0h1v1h-1zM277.8 649.2h1v1h-1zM290.4 628.4h1v1h-1zM274.6 636.6h1v1h-1zM291.8 653.8h1v1h-1zM289.1 630.9h1v1h-1zM299.6 607.2h1v1h-1zM299.5 640.2h1v1h-1zM275.4 623.4h1v1h-1zM297.8 662.9h1v1h-1zM289.4 635.4h1v1h-1zM320.0 620.9h1v1h-1zM322.9 650.9h1v1h-1zM278.0 647.0h1v1h-1zM289.2 645.6h1v1h-1zM310.0 650.2h1v1h-1zM366.7 603.1h1v1h-1zM380.3 649.5h1v1h-1zM384.1 619.8h1v1h-1zM344.3 620.5h1v1h-1zM381.6 611.4h1v1h-1zM361.2 633.5h1v1h-1zM391.4 628.1h1v1h-1zM380.0 580.1h1v1h-1zM374.0 615.3h1v1h-1zM385.9 652.6h1v1h-1zM375.3 625.7h1v1h-1zM352.7 617.3h1v1h-1zM383.0 616.1h1v1h-1zM342.2 642.6h1v1h-1zM337.8 629.7h1v1h-1zM369.6 615.2h1v1h-1zM379.6 603.6h1v1h-1zM356.4 602.0h1v1h-1zM342.5 616.3h1v1h-1zM363.1 655.2h1v1h-1zM337.9 601.1h1v1h-1zM343.4 660.2h1v1h-1zM347.6 630.6h1v1h-1zM384.3 649.1h1v1h-1z"/>
<path fill="#1a1a1a" fill-opacity="1.0" d="M296.1 611.1h1v1h-1zM323.0 640.5h1v1h-1zM269.1 634.7h1v1h-1zM282.2 658.0h1v1h-1zM307.5 639.6h1v1h-1zM305.2 665.1h1v1h-1zM304.5 650.5h1v1h-1zM305.9 621.6h1v1h-1zM272.9 602.7h1v1h-1zM287.8 628.5h1v1h-1zM272.0 620.5h1v1h-1zM271.4 651.4h1v1h-1zM298.8 655.9h1v1h-1zM310.9 655.1h1v1h-1zM341.2 661.2h1v1h-1zM349.5 647.7h1v1h-1zM383.6 608.3h1v1h-1zM391.0 651.3h1v1h-1z"/>
<line x1="296.25" y1="600.60" x2="296.25" y2="629.50" stroke="#F8766D" stroke-width="0.9" stroke-opacity="0.6"/>
<line x1="296.25" y1="650.00" x2="296.25" y2="669.00" stroke="#F8766D" stroke-width="0.9" stroke-opacity="0.6"/>
<rect x="270.00" y="629.50" width="52.50" height="20.50" fill="none" stroke="#F8766D" stroke-width="0.9" stroke-opacity="0.6"/>
<line x1="270.00" y1="641.40" x2="322.50" y2="641.40" stroke="#F8766D" stroke-width="1.5" stroke-opacity="0.6"/>
<line x1="365.20" y1="553.40" x2="365.20" y2="604.60" stroke="#00BFC4" stroke-width="0.9" stroke-opacity="0.6"/>
<line x1="365.20" y1="640.60" x2="365.20" y2="660.30" stroke="#00BFC4" stroke-width="0.9" stroke-opacity="0.6"/>
<rect x="339.60" y="604.60" width="51.20" height="36.00" fill="none" stroke="#00BFC4" stroke-width="0.9" stroke-opacity="0.6"/>
<line x1="339.60" y1="619.80" x2="390.80" y2="619.80" stroke="#00BFC4" stroke-width="1.5" stroke-opacity="0.6"/>
<rect x="295.6" y="541.8" width="1.4" height="1.4" fill="#F8766D" fill-opacity="0.85"/>
<rect x="295.6" y="570.7" width="1.4" height="1.4" fill="#F8766D" fill-opacity="0.85"/>
<rect x="295.6" y="587.8" width="1.4" height="1.4" fill="#F8766D" fill-opacity="0.85"/>
<rect x="295.6" y="589.8" width="1.4" height="1.4" fill="#F8766D" fill-opacity="0.85"/>
<rect x="295.6" y="591.8" width="1.4" height="1.4" fill="#F8766D" fill-opacity="0.85"/>
<rect x="295.6" y="593.5" width="1.4" height="1.4" fill="#F8766D" fill-opacity="0.85"/>
<rect x="295.6" y="595.3" width="1.4" height="1.4" fill="#F8766D" fill-opacity="0.85"/>
<rect x="295.6" y="597.1" width="1.4" height="1.4" fill="#F8766D" fill-opacity="0.85"/>
<rect x="295.6" y="598.8" width="1.4" height="1.4" fill="#F8766D" fill-opacity="0.85"/>
<rect x="255.60" y="529.30" width="150.00" height="146.10" fill="none" stroke="#999" stroke-width="1" />
<line x1="253.40" y1="562.10" x2="255.60" y2="562.10" stroke="#555" stroke-width="0.6" />
<text x="251.30" y="565.00" font-size="10.5" text-anchor="end" fill="#1c1c1c" >0.1</text>
<line x1="253.40" y1="601.50" x2="255.60" y2="601.50" stroke="#555" stroke-width="0.6" />
<text x="251.30" y="604.40" font-size="10.5" text-anchor="end" fill="#1c1c1c" >0.5</text>
<line x1="253.40" y1="640.60" x2="255.60" y2="640.60" stroke="#555" stroke-width="0.6" />
<text x="251.30" y="643.50" font-size="10.5" text-anchor="end" fill="#1c1c1c" >0.0</text>
<line x1="296.50" y1="675.40" x2="296.50" y2="677.60" stroke="#555" stroke-width="0.6" />
<line x1="364.80" y1="675.40" x2="364.80" y2="677.60" stroke="#555" stroke-width="0.6" />
<path d="M296.5,539.7 L296.5,536.3 L364.8,536.3 L364.8,539.7" fill="none" stroke="#777" stroke-width="0.8"/>
<text x="333.30" y="545.60" font-size="10.6" text-anchor="middle" fill="#111" >****</text>
<text x="261.0" y="523.6" font-size="10.6" fill="#111">Cluster 2 (T<tspan font-size="7" dy="1.4">CM</tspan><tspan dy="-1.4"> HLA-DR</tspan><tspan font-size="6.5" dy="-4.2">+</tspan><tspan dy="4.2">)</tspan></text>
<text x="284.20" y="688.40" font-size="10.5" text-anchor="start" fill="#1c1c1c" >TTneg</text>
<text x="354.60" y="688.40" font-size="10.5" text-anchor="start" fill="#1c1c1c" >TTpos</text>
<text x="291.50" y="702.30" font-size="10.6" text-anchor="start" fill="#1c1c1c" >sorting phenotype</text>
<rect x="453.90" y="529.60" width="150.30" height="145.70" fill="#fff" stroke="none" stroke-width="1" />
<line x1="453.90" y1="552.50" x2="604.20" y2="552.50" stroke="#f5f5f5" stroke-width="0.5" />
<line x1="453.90" y1="590.20" x2="604.20" y2="590.20" stroke="#f5f5f5" stroke-width="0.5" />
<line x1="453.90" y1="628.10" x2="604.20" y2="628.10" stroke="#f5f5f5" stroke-width="0.5" />
<line x1="453.90" y1="666.00" x2="604.20" y2="666.00" stroke="#f5f5f5" stroke-width="0.5" />
<line x1="453.90" y1="533.70" x2="604.20" y2="533.70" stroke="#ececec" stroke-width="0.7" />
<line x1="453.90" y1="571.30" x2="604.20" y2="571.30" stroke="#ececec" stroke-width="0.7" />
<line x1="453.90" y1="609.10" x2="604.20" y2="609.10" stroke="#ececec" stroke-width="0.7" />
<line x1="453.90" y1="647.20" x2="604.20" y2="647.20" stroke="#ececec" stroke-width="0.7" />
<line x1="494.30" y1="529.60" x2="494.30" y2="675.30" stroke="#ececec" stroke-width="0.7" />
<line x1="563.50" y1="529.60" x2="563.50" y2="675.30" stroke="#ececec" stroke-width="0.7" />
<path fill="#1a1a1a" fill-opacity="0.5" d="M508.8 655.0h1v1h-1zM487.6 656.8h1v1h-1zM503.3 642.8h1v1h-1zM511.6 649.3h1v1h-1zM506.8 666.9h1v1h-1zM491.3 648.5h1v1h-1zM472.5 628.8h1v1h-1zM481.2 646.1h1v1h-1zM488.7 657.2h1v1h-1zM470.5 651.3h1v1h-1zM501.6 636.7h1v1h-1zM502.7 597.6h1v1h-1zM519.2 636.0h1v1h-1zM480.7 650.6h1v1h-1zM489.2 650.5h1v1h-1zM486.1 652.7h1v1h-1zM502.0 647.3h1v1h-1zM487.5 655.9h1v1h-1zM512.6 648.8h1v1h-1zM476.4 657.5h1v1h-1zM512.1 663.9h1v1h-1zM485.2 646.4h1v1h-1zM511.4 666.5h1v1h-1zM483.1 630.6h1v1h-1zM514.9 648.8h1v1h-1zM496.5 653.8h1v1h-1zM510.2 646.7h1v1h-1zM512.8 648.9h1v1h-1zM477.2 608.5h1v1h-1zM480.7 648.5h1v1h-1zM471.5 650.4h1v1h-1zM485.3 649.7h1v1h-1zM486.7 638.9h1v1h-1zM485.5 650.2h1v1h-1zM483.3 646.5h1v1h-1zM469.6 649.5h1v1h-1zM486.0 631.6h1v1h-1zM485.0 651.8h1v1h-1zM500.5 631.4h1v1h-1zM492.8 649.8h1v1h-1zM480.7 581.7h1v1h-1zM476.8 652.4h1v1h-1zM467.2 656.9h1v1h-1zM513.9 603.5h1v1h-1zM494.2 656.6h1v1h-1zM501.8 645.8h1v1h-1zM505.8 625.2h1v1h-1zM521.7 657.6h1v1h-1zM493.8 649.2h1v1h-1zM512.8 653.2h1v1h-1zM488.0 653.6h1v1h-1zM471.9 540.7h1v1h-1zM491.3 651.1h1v1h-1zM503.2 647.7h1v1h-1zM520.4 656.1h1v1h-1zM483.0 636.1h1v1h-1zM514.5 659.1h1v1h-1zM503.6 653.5h1v1h-1zM512.9 647.5h1v1h-1zM505.1 645.6h1v1h-1zM489.8 646.1h1v1h-1zM492.4 643.2h1v1h-1zM476.3 644.1h1v1h-1zM514.9 644.7h1v1h-1zM497.0 650.5h1v1h-1zM518.4 653.9h1v1h-1zM509.0 650.8h1v1h-1zM520.6 650.6h1v1h-1zM505.8 565.7h1v1h-1zM474.1 629.6h1v1h-1zM519.0 655.6h1v1h-1zM479.9 668.0h1v1h-1zM478.7 652.8h1v1h-1zM493.8 650.8h1v1h-1zM492.5 654.4h1v1h-1zM474.3 655.6h1v1h-1zM507.5 658.7h1v1h-1zM489.0 598.2h1v1h-1zM504.1 657.3h1v1h-1zM471.3 645.9h1v1h-1zM489.0 644.3h1v1h-1zM469.2 659.0h1v1h-1zM515.5 574.5h1v1h-1zM495.2 646.7h1v1h-1zM485.2 656.7h1v1h-1zM514.6 647.1h1v1h-1zM520.1 654.5h1v1h-1zM484.5 651.9h1v1h-1zM504.5 655.7h1v1h-1zM484.4 650.8h1v1h-1zM479.7 660.3h1v1h-1zM488.7 666.9h1v1h-1zM469.5 658.5h1v1h-1zM503.3 661.9h1v1h-1zM470.9 648.3h1v1h-1zM474.0 665.4h1v1h-1zM487.9 579.7h1v1h-1zM505.7 664.9h1v1h-1zM489.1 577.3h1v1h-1zM499.6 659.3h1v1h-1zM500.0 655.3h1v1h-1zM512.6 655.3h1v1h-1zM482.0 656.7h1v1h-1zM510.0 660.0h1v1h-1zM468.1 650.8h1v1h-1zM469.3 656.0h1v1h-1zM472.9 651.1h1v1h-1zM483.4 586.7h1v1h-1zM470.5 650.6h1v1h-1zM483.7 640.9h1v1h-1zM481.0 658.8h1v1h-1zM488.7 649.5h1v1h-1zM479.2 653.9h1v1h-1zM476.1 651.7h1v1h-1zM488.6 597.2h1v1h-1zM486.5 658.0h1v1h-1zM474.3 650.2h1v1h-1zM486.1 646.8h1v1h-1zM468.7 663.1h1v1h-1zM504.8 649.9h1v1h-1zM505.4 648.6h1v1h-1zM475.2 625.9h1v1h-1zM512.2 606.5h1v1h-1zM587.2 661.1h1v1h-1zM578.2 648.3h1v1h-1zM550.4 651.5h1v1h-1zM583.6 659.5h1v1h-1zM570.9 653.5h1v1h-1zM574.1 654.1h1v1h-1zM554.7 656.4h1v1h-1zM559.3 645.4h1v1h-1zM575.0 631.9h1v1h-1zM560.6 654.8h1v1h-1zM559.0 642.8h1v1h-1zM562.3 641.9h1v1h-1zM538.8 646.9h1v1h-1zM542.5 661.5h1v1h-1zM542.9 650.9h1v1h-1zM571.1 645.6h1v1h-1zM578.4 651.3h1v1h-1zM540.7 659.9h1v1h-1zM549.4 651.2h1v1h-1zM589.3 650.6h1v1h-1zM560.2 651.3h1v1h-1zM568.5 657.4h1v1h-1zM550.0 667.8h1v1h-1zM549.5 650.5h1v1h-1zM579.8 644.6h1v1h-1zM589.7 653.4h1v1h-1zM535.3 649.3h1v1h-1zM566.8 645.1h1v1h-1zM549.2 661.9h1v1h-1zM561.2 652.9h1v1h-1z"/>
<path fill="#1a1a1a" fill-opacity="0.75" d="M499.6 660.4h1v1h-1zM505.4 653.0h1v1h-1zM496.1 652.2h1v1h-1zM479.5 638.9h1v1h-1zM509.2 650.5h1v1h-1zM467.7 564.3h1v1h-1zM480.2 652.3h1v1h-1zM495.2 639.5h1v1h-1zM474.4 641.7h1v1h-1zM499.1 650.4h1v1h-1zM489.6 656.5h1v1h-1zM506.9 650.3h1v1h-1zM493.3 651.5h1v1h-1zM489.4 652.1h1v1h-1zM519.5 658.6h1v1h-1zM481.4 646.6h1v1h-1zM514.2 651.0h1v1h-1zM493.4 651.2h1v1h-1zM511.1 651.1h1v1h-1zM499.9 654.2h1v1h-1zM503.0 638.8h1v1h-1zM520.2 659.1h1v1h-1zM481.1 650.3h1v1h-1zM517.0 653.9h1v1h-1zM492.9 634.8h1v1h-1zM470.1 652.6h1v1h-1zM513.8 653.6h1v1h-1zM476.4 650.4h1v1h-1zM495.4 659.0h1v1h-1zM471.3 565.2h1v1h-1zM517.5 660.9h1v1h-1zM468.8 652.5h1v1h-1zM468.8 651.0h1v1h-1zM492.1 641.2h1v1h-1zM515.3 648.5h1v1h-1zM478.5 599.9h1v1h-1zM498.9 658.2h1v1h-1zM482.9 619.7h1v1h-1zM505.1 651.5h1v1h-1zM469.4 648.6h1v1h-1zM512.3 654.0h1v1h-1zM499.2 647.6h1v1h-1zM514.3 656.5h1v1h-1zM468.4 662.8h1v1h-1zM518.7 658.4h1v1h-1zM509.0 654.8h1v1h-1zM519.1 648.9h1v1h-1zM499.9 648.0h1v1h-1zM470.8 644.7h1v1h-1zM513.3 643.3h1v1h-1zM500.0 597.2h1v1h-1zM490.9 656.3h1v1h-1zM475.9 643.5h1v1h-1zM499.4 649.2h1v1h-1zM516.1 653.0h1v1h-1zM483.8 653.1h1v1h-1zM469.0 619.6h1v1h-1zM489.2 658.0h1v1h-1zM487.3 641.6h1v1h-1zM492.3 656.5h1v1h-1zM520.6 627.5h1v1h-1zM516.7 648.0h1v1h-1zM521.3 643.8h1v1h-1zM504.4 650.2h1v1h-1zM474.2 634.8h1v1h-1zM483.5 647.9h1v1h-1zM490.4 666.2h1v1h-1zM479.9 566.7h1v1h-1zM503.6 619.8h1v1h-1zM502.4 647.2h1v1h-1zM508.0 653.8h1v1h-1zM489.4 660.3h1v1h-1zM481.7 638.4h1v1h-1zM468.5 648.3h1v1h-1zM474.7 625.2h1v1h-1zM512.0 656.1h1v1h-1zM499.5 546.2h1v1h-1zM484.1 598.4h1v1h-1zM485.1 657.4h1v1h-1zM517.2 557.5h1v1h-1zM491.6 645.8h1v1h-1zM493.6 659.1h1v1h-1zM520.4 643.7h1v1h-1zM494.8 654.9h1v1h-1zM470.6 645.1h1v1h-1zM510.3 656.8h1v1h-1zM498.2 651.3h1v1h-1zM511.4 657.9h1v1h-1zM480.1 654.5h1v1h-1zM512.3 655.4h1v1h-1zM493.6 645.3h1v1h-1zM488.8 657.1h1v1h-1zM483.9 653.1h1v1h-1zM480.1 646.4h1v1h-1zM513.5 661.6h1v1h-1zM471.5 646.0h1v1h-1zM521.1 642.5h1v1h-1zM480.5 647.2h1v1h-1zM491.3 623.6h1v1h-1zM512.8 664.6h1v1h-1zM504.8 654.9h1v1h-1zM505.0 646.0h1v1h-1zM480.7 660.0h1v1h-1zM510.4 650.0h1v1h-1zM496.6 656.9h1v1h-1zM510.7 630.9h1v1h-1zM481.0 661.1h1v1h-1zM497.1 651.1h1v1h-1zM491.2 651.6h1v1h-1zM471.7 648.2h1v1h-1zM479.9 659.4h1v1h-1zM493.3 664.2h1v1h-1zM506.6 657.8h1v1h-1zM519.3 595.2h1v1h-1zM503.4 656.6h1v1h-1zM484.5 647.4h1v1h-1zM507.5 648.1h1v1h-1zM506.6 639.0h1v1h-1zM492.9 629.2h1v1h-1zM505.7 652.2h1v1h-1zM515.6 652.0h1v1h-1zM509.8 651.3h1v1h-1zM479.4 623.1h1v1h-1zM471.7 637.4h1v1h-1zM512.8 651.4h1v1h-1zM469.7 653.8h1v1h-1zM501.8 651.9h1v1h-1zM501.0 652.1h1v1h-1zM488.0 646.3h1v1h-1zM503.5 659.8h1v1h-1zM567.0 653.2h1v1h-1zM548.9 653.9h1v1h-1zM549.9 654.3h1v1h-1zM575.9 653.3h1v1h-1zM546.5 663.3h1v1h-1zM579.9 648.7h1v1h-1zM538.3 659.8h1v1h-1zM577.4 646.1h1v1h-1zM551.6 653.9h1v1h-1zM561.1 642.6h1v1h-1zM549.2 662.1h1v1h-1zM563.7 659.6h1v1h-1zM546.2 652.4h1v1h-1zM540.5 644.6h1v1h-1zM586.6 661.4h1v1h-1zM579.2 662.3h1v1h-1zM565.2 646.6h1v1h-1zM555.1 649.3h1v1h-1zM565.4 656.4h1v1h-1zM588.5 652.0h1v1h-1zM569.4 663.0h1v1h-1zM581.1 642.5h1v1h-1zM545.2 663.6h1v1h-1zM545.4 655.0h1v1h-1zM541.5 669.2h1v1h-1zM538.9 645.3h1v1h-1zM537.1 644.1h1v1h-1z"/>
<path fill="#1a1a1a" fill-opacity="1.0" d="M505.5 643.4h1v1h-1zM468.4 654.5h1v1h-1zM472.0 616.4h1v1h-1zM495.6 648.3h1v1h-1zM492.5 648.3h1v1h-1zM504.3 657.8h1v1h-1zM480.7 640.7h1v1h-1zM507.5 651.7h1v1h-1zM480.9 651.9h1v1h-1zM474.6 633.6h1v1h-1zM491.2 639.7h1v1h-1zM521.8 601.9h1v1h-1zM516.7 660.4h1v1h-1zM535.9 663.9h1v1h-1zM543.5 656.0h1v1h-1zM576.6 655.8h1v1h-1z"/>
<path fill="#1a1a1a" fill-opacity="0.25" d="M484.9 646.5h1v1h-1zM484.4 661.0h1v1h-1zM488.8 645.8h1v1h-1zM492.2 659.0h1v1h-1zM519.8 658.5h1v1h-1zM470.1 662.7h1v1h-1zM492.9 655.7h1v1h-1zM506.0 562.3h1v1h-1zM507.7 649.6h1v1h-1zM484.9 646.8h1v1h-1zM506.8 642.4h1v1h-1zM503.8 655.1h1v1h-1zM491.7 657.0h1v1h-1zM475.3 651.4h1v1h-1zM506.7 660.1h1v1h-1zM472.8 654.3h1v1h-1zM479.7 656.7h1v1h-1zM481.5 641.1h1v1h-1zM481.3 612.3h1v1h-1zM506.2 640.6h1v1h-1zM506.4 647.2h1v1h-1zM470.2 652.1h1v1h-1zM489.8 606.5h1v1h-1zM492.6 645.7h1v1h-1zM485.4 659.2h1v1h-1zM474.6 643.5h1v1h-1zM514.7 640.2h1v1h-1zM492.3 648.7h1v1h-1zM489.3 639.1h1v1h-1zM505.1 643.6h1v1h-1zM486.8 640.8h1v1h-1zM515.0 646.2h1v1h-1zM489.1 645.5h1v1h-1zM496.0 647.2h1v1h-1zM541.5 660.0h1v1h-1zM540.6 646.7h1v1h-1zM565.6 653.7h1v1h-1zM541.3 653.4h1v1h-1zM543.1 650.8h1v1h-1zM578.5 645.6h1v1h-1zM573.7 653.2h1v1h-1zM586.0 646.5h1v1h-1zM546.5 652.3h1v1h-1zM565.0 657.3h1v1h-1z"/>
<line x1="495.00" y1="658.50" x2="495.00" y2="668.10" stroke="#F8766D" stroke-width="0.9" stroke-opacity="0.6"/>
<rect x="469.10" y="647.20" width="51.80" height="11.30" fill="none" stroke="#F8766D" stroke-width="0.9" stroke-opacity="0.6"/>
<line x1="469.10" y1="653.20" x2="520.90" y2="653.20" stroke="#F8766D" stroke-width="1.5" stroke-opacity="0.6"/>
<line x1="563.00" y1="633.20" x2="563.00" y2="648.40" stroke="#00BFC4" stroke-width="0.9" stroke-opacity="0.6"/>
<line x1="563.00" y1="659.00" x2="563.00" y2="666.90" stroke="#00BFC4" stroke-width="0.9" stroke-opacity="0.6"/>
<rect x="537.20" y="648.40" width="51.60" height="10.60" fill="none" stroke="#00BFC4" stroke-width="0.9" stroke-opacity="0.6"/>
<line x1="537.20" y1="654.20" x2="588.80" y2="654.20" stroke="#00BFC4" stroke-width="1.5" stroke-opacity="0.6"/>
<rect x="494.3" y="542.0" width="1.4" height="1.4" fill="#F8766D" fill-opacity="0.85"/>
<rect x="494.3" y="542.8" width="1.4" height="1.4" fill="#F8766D" fill-opacity="0.85"/>
<rect x="494.3" y="546.3" width="1.4" height="1.4" fill="#F8766D" fill-opacity="0.85"/>
<rect x="494.3" y="549.6" width="1.4" height="1.4" fill="#F8766D" fill-opacity="0.85"/>
<rect x="494.3" y="552.5" width="1.4" height="1.4" fill="#F8766D" fill-opacity="0.85"/>
<rect x="494.3" y="553.9" width="1.4" height="1.4" fill="#F8766D" fill-opacity="0.85"/>
<rect x="494.3" y="555.8" width="1.4" height="1.4" fill="#F8766D" fill-opacity="0.85"/>
<rect x="494.3" y="560.2" width="1.4" height="1.4" fill="#F8766D" fill-opacity="0.85"/>
<rect x="494.3" y="562.7" width="1.4" height="1.4" fill="#F8766D" fill-opacity="0.85"/>
<rect x="494.3" y="564.6" width="1.4" height="1.4" fill="#F8766D" fill-opacity="0.85"/>
<rect x="494.3" y="568.6" width="1.4" height="1.4" fill="#F8766D" fill-opacity="0.85"/>
<rect x="494.3" y="570.7" width="1.4" height="1.4" fill="#F8766D" fill-opacity="0.85"/>
<rect x="494.3" y="573.0" width="1.4" height="1.4" fill="#F8766D" fill-opacity="0.85"/>
<rect x="494.3" y="575.6" width="1.4" height="1.4" fill="#F8766D" fill-opacity="0.85"/>
<rect x="494.3" y="577.1" width="1.4" height="1.4" fill="#F8766D" fill-opacity="0.85"/>
<rect x="494.3" y="581.8" width="1.4" height="1.4" fill="#F8766D" fill-opacity="0.85"/>
<rect x="494.3" y="584.6" width="1.4" height="1.4" fill="#F8766D" fill-opacity="0.85"/>
<rect x="494.3" y="585.2" width="1.4" height="1.4" fill="#F8766D" fill-opacity="0.85"/>
<rect x="494.3" y="589.3" width="1.4" height="1.4" fill="#F8766D" fill-opacity="0.85"/>
<rect x="494.3" y="591.5" width="1.4" height="1.4" fill="#F8766D" fill-opacity="0.85"/>
<rect x="494.3" y="593.7" width="1.4" height="1.4" fill="#F8766D" fill-opacity="0.85"/>
<rect x="494.3" y="596.8" width="1.4" height="1.4" fill="#F8766D" fill-opacity="0.85"/>
<rect x="494.3" y="598.4" width="1.4" height="1.4" fill="#F8766D" fill-opacity="0.85"/>
<rect x="494.3" y="601.6" width="1.4" height="1.4" fill="#F8766D" fill-opacity="0.85"/>
<rect x="494.3" y="604.2" width="1.4" height="1.4" fill="#F8766D" fill-opacity="0.85"/>
<rect x="494.3" y="607.7" width="1.4" height="1.4" fill="#F8766D" fill-opacity="0.85"/>
<rect x="494.3" y="609.9" width="1.4" height="1.4" fill="#F8766D" fill-opacity="0.85"/>
<rect x="494.3" y="611.4" width="1.4" height="1.4" fill="#F8766D" fill-opacity="0.85"/>
<rect x="494.3" y="614.7" width="1.4" height="1.4" fill="#F8766D" fill-opacity="0.85"/>
<rect x="494.3" y="617.5" width="1.4" height="1.4" fill="#F8766D" fill-opacity="0.85"/>
<rect x="494.3" y="620.1" width="1.4" height="1.4" fill="#F8766D" fill-opacity="0.85"/>
<rect x="494.3" y="623.8" width="1.4" height="1.4" fill="#F8766D" fill-opacity="0.85"/>
<rect x="494.3" y="626.5" width="1.4" height="1.4" fill="#F8766D" fill-opacity="0.85"/>
<rect x="494.3" y="629.5" width="1.4" height="1.4" fill="#F8766D" fill-opacity="0.85"/>
<rect x="494.3" y="632.1" width="1.4" height="1.4" fill="#F8766D" fill-opacity="0.85"/>
<rect x="494.3" y="633.7" width="1.4" height="1.4" fill="#F8766D" fill-opacity="0.85"/>
<rect x="494.3" y="636.5" width="1.4" height="1.4" fill="#F8766D" fill-opacity="0.85"/>
<rect x="494.3" y="639.2" width="1.4" height="1.4" fill="#F8766D" fill-opacity="0.85"/>
<rect x="494.3" y="641.7" width="1.4" height="1.4" fill="#F8766D" fill-opacity="0.85"/>
<rect x="494.3" y="643.2" width="1.4" height="1.4" fill="#F8766D" fill-opacity="0.85"/>
<rect x="562.3" y="628.6" width="2" height="2" fill="#00BFC4"/>
<rect x="453.90" y="529.60" width="150.30" height="145.70" fill="none" stroke="#999" stroke-width="1" />
<line x1="451.70" y1="533.70" x2="453.90" y2="533.70" stroke="#555" stroke-width="0.6" />
<text x="450.90" y="536.60" font-size="10.5" text-anchor="end" fill="#1c1c1c" >1.5</text>
<line x1="451.70" y1="571.30" x2="453.90" y2="571.30" stroke="#555" stroke-width="0.6" />
<text x="450.90" y="574.20" font-size="10.5" text-anchor="end" fill="#1c1c1c" >1.0</text>
<line x1="451.70" y1="609.10" x2="453.90" y2="609.10" stroke="#555" stroke-width="0.6" />
<text x="450.90" y="612.00" font-size="10.5" text-anchor="end" fill="#1c1c1c" >0.5</text>
<line x1="451.70" y1="647.20" x2="453.90" y2="647.20" stroke="#555" stroke-width="0.6" />
<text x="450.90" y="650.10" font-size="10.5" text-anchor="end" fill="#1c1c1c" >0.0</text>
<line x1="494.30" y1="675.30" x2="494.30" y2="677.50" stroke="#555" stroke-width="0.6" />
<line x1="563.50" y1="675.30" x2="563.50" y2="677.50" stroke="#555" stroke-width="0.6" />
<path d="M494.4,539.3 L494.4,536.1 L563.3,536.1 L563.3,539.3" fill="none" stroke="#777" stroke-width="0.8"/>
<text x="530.60" y="544.30" font-size="11" text-anchor="middle" fill="#111" >ns</text>
<text x="459.6" y="524.2" font-size="10.6" fill="#111">Cluster 3 (T<tspan font-size="7" dy="1.4">EM</tspan><tspan dy="-1.4"> NKG7</tspan><tspan font-size="6.5" dy="-4.2">+</tspan><tspan dy="4.2">)</tspan></text>
<text x="482.30" y="687.50" font-size="10.5" text-anchor="start" fill="#1c1c1c" >TTneg</text>
<text x="552.50" y="687.50" font-size="10.5" text-anchor="start" fill="#1c1c1c" >TTpos</text>
<text x="489.40" y="701.80" font-size="10.6" text-anchor="start" fill="#1c1c1c" >sorting phenotype</text>
<rect x="62.20" y="750.10" width="150.60" height="146.20" fill="#fff" stroke="none" stroke-width="1" />
<line x1="62.20" y1="765.90" x2="212.80" y2="765.90" stroke="#f5f5f5" stroke-width="0.5" />
<line x1="62.20" y1="808.00" x2="212.80" y2="808.00" stroke="#f5f5f5" stroke-width="0.5" />
<line x1="62.20" y1="850.20" x2="212.80" y2="850.20" stroke="#f5f5f5" stroke-width="0.5" />
<line x1="62.20" y1="892.40" x2="212.80" y2="892.40" stroke="#f5f5f5" stroke-width="0.5" />
<line x1="62.20" y1="787.00" x2="212.80" y2="787.00" stroke="#ececec" stroke-width="0.7" />
<line x1="62.20" y1="829.10" x2="212.80" y2="829.10" stroke="#ececec" stroke-width="0.7" />
<line x1="62.20" y1="871.30" x2="212.80" y2="871.30" stroke="#ececec" stroke-width="0.7" />
<line x1="103.20" y1="750.10" x2="103.20" y2="896.30" stroke="#ececec" stroke-width="0.7" />
<line x1="171.70" y1="750.10" x2="171.70" y2="896.30" stroke="#ececec" stroke-width="0.7" />
<path fill="#1a1a1a" fill-opacity="0.75" d="M115.7 877.5h1v1h-1zM117.2 860.4h1v1h-1zM129.1 879.3h1v1h-1zM110.5 866.8h1v1h-1zM110.3 871.7h1v1h-1zM104.7 872.3h1v1h-1zM97.2 862.4h1v1h-1zM111.6 868.5h1v1h-1zM104.7 818.8h1v1h-1zM94.0 873.1h1v1h-1zM107.7 874.8h1v1h-1zM99.0 875.3h1v1h-1zM87.3 874.7h1v1h-1zM126.6 879.8h1v1h-1zM106.9 871.6h1v1h-1zM105.0 868.5h1v1h-1zM95.1 884.3h1v1h-1zM102.9 887.9h1v1h-1zM129.6 866.1h1v1h-1zM125.8 854.8h1v1h-1zM112.4 862.9h1v1h-1zM82.1 853.5h1v1h-1zM82.6 866.4h1v1h-1zM129.9 882.6h1v1h-1zM121.9 873.5h1v1h-1zM110.7 878.0h1v1h-1zM76.6 874.6h1v1h-1zM119.8 883.2h1v1h-1zM88.2 778.4h1v1h-1zM111.6 878.2h1v1h-1zM109.0 872.4h1v1h-1zM127.0 822.1h1v1h-1zM88.1 862.3h1v1h-1zM83.9 865.8h1v1h-1zM104.1 878.3h1v1h-1zM95.8 885.5h1v1h-1zM95.1 866.4h1v1h-1zM83.2 843.7h1v1h-1zM104.4 872.7h1v1h-1zM129.9 872.6h1v1h-1zM98.6 874.9h1v1h-1zM120.4 871.7h1v1h-1zM106.4 878.2h1v1h-1zM92.1 872.6h1v1h-1zM116.5 832.3h1v1h-1zM114.3 876.4h1v1h-1zM105.5 877.1h1v1h-1zM82.3 860.4h1v1h-1zM108.1 872.9h1v1h-1zM78.0 886.4h1v1h-1zM99.6 878.0h1v1h-1zM122.6 868.5h1v1h-1zM125.8 874.1h1v1h-1zM86.9 868.2h1v1h-1zM79.4 876.2h1v1h-1zM88.1 803.3h1v1h-1zM74.8 871.3h1v1h-1zM101.6 876.3h1v1h-1zM127.8 884.5h1v1h-1zM79.9 883.1h1v1h-1zM78.9 863.5h1v1h-1zM122.0 883.2h1v1h-1zM77.6 869.1h1v1h-1zM124.5 865.3h1v1h-1zM93.4 869.9h1v1h-1zM127.4 869.0h1v1h-1zM84.6 813.9h1v1h-1zM98.5 878.2h1v1h-1zM92.6 823.5h1v1h-1zM110.1 841.8h1v1h-1zM124.6 865.5h1v1h-1zM107.3 883.0h1v1h-1zM127.0 871.5h1v1h-1zM76.5 868.4h1v1h-1zM86.7 801.3h1v1h-1zM83.3 873.6h1v1h-1zM89.0 846.6h1v1h-1zM107.0 880.3h1v1h-1zM105.5 817.4h1v1h-1zM101.8 874.5h1v1h-1zM75.3 867.9h1v1h-1zM120.9 880.2h1v1h-1zM98.8 881.2h1v1h-1zM106.7 885.9h1v1h-1zM114.8 876.2h1v1h-1zM113.4 830.5h1v1h-1zM83.9 882.7h1v1h-1zM84.6 869.8h1v1h-1zM103.7 856.6h1v1h-1zM92.3 861.0h1v1h-1zM114.3 882.3h1v1h-1zM88.0 861.3h1v1h-1zM112.8 845.5h1v1h-1zM125.9 889.5h1v1h-1zM79.2 872.4h1v1h-1zM75.7 812.6h1v1h-1zM94.0 853.6h1v1h-1zM105.7 875.0h1v1h-1zM83.4 881.3h1v1h-1zM93.9 866.6h1v1h-1zM82.3 870.9h1v1h-1zM98.4 870.8h1v1h-1zM126.6 869.4h1v1h-1zM101.8 769.6h1v1h-1zM95.9 876.4h1v1h-1zM121.8 870.8h1v1h-1zM75.2 883.1h1v1h-1zM122.3 860.7h1v1h-1zM95.7 878.4h1v1h-1zM124.1 863.4h1v1h-1zM115.3 870.4h1v1h-1zM78.1 876.1h1v1h-1zM78.4 883.5h1v1h-1zM119.4 889.1h1v1h-1zM79.4 861.7h1v1h-1zM96.8 880.1h1v1h-1zM122.9 873.4h1v1h-1zM119.6 879.9h1v1h-1zM102.2 869.1h1v1h-1zM124.7 872.3h1v1h-1zM121.1 882.1h1v1h-1zM80.4 869.5h1v1h-1zM89.7 877.2h1v1h-1zM192.0 873.1h1v1h-1zM153.9 885.6h1v1h-1zM177.2 883.4h1v1h-1zM146.0 882.8h1v1h-1zM150.4 869.0h1v1h-1zM149.2 874.0h1v1h-1zM164.6 883.7h1v1h-1zM145.0 874.0h1v1h-1zM183.5 874.5h1v1h-1zM183.0 866.7h1v1h-1zM163.0 876.4h1v1h-1zM152.5 874.8h1v1h-1zM154.0 875.8h1v1h-1zM177.4 871.7h1v1h-1zM177.8 865.1h1v1h-1zM155.5 882.8h1v1h-1zM171.3 880.9h1v1h-1zM185.5 877.5h1v1h-1zM191.9 873.0h1v1h-1zM147.3 867.7h1v1h-1zM177.5 878.4h1v1h-1zM192.0 873.2h1v1h-1zM189.9 870.4h1v1h-1zM149.7 872.0h1v1h-1zM161.2 872.3h1v1h-1z"/>
<path fill="#1a1a1a" fill-opacity="0.25" d="M126.6 885.0h1v1h-1zM128.6 878.9h1v1h-1zM87.1 875.3h1v1h-1zM100.2 876.2h1v1h-1zM77.3 885.1h1v1h-1zM115.1 882.6h1v1h-1zM82.1 878.2h1v1h-1zM102.1 887.4h1v1h-1zM85.8 877.7h1v1h-1zM99.3 889.8h1v1h-1zM128.9 881.3h1v1h-1zM111.7 868.1h1v1h-1zM118.9 871.2h1v1h-1zM82.2 871.5h1v1h-1zM85.1 834.3h1v1h-1zM118.7 871.5h1v1h-1zM95.0 880.9h1v1h-1zM120.5 836.3h1v1h-1zM86.9 882.6h1v1h-1zM94.9 865.8h1v1h-1zM95.0 871.7h1v1h-1zM85.9 882.4h1v1h-1zM90.3 883.8h1v1h-1zM124.4 873.2h1v1h-1zM102.0 875.4h1v1h-1zM120.7 874.0h1v1h-1zM78.4 873.4h1v1h-1zM76.7 861.9h1v1h-1zM107.8 872.6h1v1h-1zM105.4 860.4h1v1h-1zM112.4 866.4h1v1h-1zM100.0 880.5h1v1h-1zM125.7 883.8h1v1h-1zM115.4 879.5h1v1h-1zM79.0 870.7h1v1h-1zM87.8 881.4h1v1h-1zM105.0 876.9h1v1h-1zM123.3 883.5h1v1h-1zM109.4 864.8h1v1h-1zM127.5 876.1h1v1h-1zM147.6 877.6h1v1h-1zM153.7 863.0h1v1h-1zM159.4 876.3h1v1h-1zM146.8 868.0h1v1h-1zM147.7 881.4h1v1h-1zM189.6 879.5h1v1h-1zM161.8 883.1h1v1h-1zM152.9 869.8h1v1h-1zM191.2 879.3h1v1h-1zM180.8 869.5h1v1h-1z"/>
<path fill="#1a1a1a" fill-opacity="0.5" d="M108.9 864.2h1v1h-1zM107.3 869.9h1v1h-1zM100.3 867.5h1v1h-1zM76.3 879.5h1v1h-1zM93.1 877.9h1v1h-1zM103.0 872.7h1v1h-1zM84.9 873.5h1v1h-1zM128.2 833.0h1v1h-1zM88.1 848.6h1v1h-1zM120.6 858.6h1v1h-1zM89.8 874.7h1v1h-1zM101.0 885.2h1v1h-1zM91.5 883.4h1v1h-1zM80.9 870.7h1v1h-1zM80.2 770.0h1v1h-1zM116.9 874.1h1v1h-1zM91.0 873.0h1v1h-1zM101.8 879.5h1v1h-1zM119.8 879.4h1v1h-1zM118.3 856.3h1v1h-1zM86.0 865.0h1v1h-1zM91.7 882.3h1v1h-1zM89.0 876.8h1v1h-1zM96.8 884.7h1v1h-1zM111.4 873.3h1v1h-1zM100.2 880.8h1v1h-1zM76.4 870.0h1v1h-1zM116.8 876.5h1v1h-1zM118.9 830.8h1v1h-1zM121.4 789.1h1v1h-1zM110.3 867.2h1v1h-1zM89.5 779.4h1v1h-1zM81.9 874.3h1v1h-1zM126.0 844.4h1v1h-1zM78.3 876.4h1v1h-1zM105.4 870.2h1v1h-1zM106.6 874.5h1v1h-1zM98.5 890.5h1v1h-1zM81.9 876.4h1v1h-1zM82.9 885.8h1v1h-1zM82.1 834.0h1v1h-1zM88.7 878.1h1v1h-1zM111.5 862.1h1v1h-1zM90.4 799.4h1v1h-1zM81.4 870.8h1v1h-1zM107.6 874.4h1v1h-1zM117.7 886.9h1v1h-1zM109.8 870.2h1v1h-1zM102.2 882.8h1v1h-1zM82.6 865.7h1v1h-1zM88.5 877.0h1v1h-1zM84.6 850.6h1v1h-1zM119.3 874.5h1v1h-1zM99.5 883.1h1v1h-1zM85.6 870.4h1v1h-1zM102.8 848.3h1v1h-1zM94.6 880.7h1v1h-1zM119.7 876.1h1v1h-1zM97.8 862.3h1v1h-1zM121.0 867.3h1v1h-1zM97.1 879.0h1v1h-1zM103.8 872.9h1v1h-1zM98.1 878.8h1v1h-1zM117.0 866.7h1v1h-1zM112.7 878.4h1v1h-1zM122.5 868.2h1v1h-1zM106.4 840.1h1v1h-1zM95.7 882.1h1v1h-1zM101.0 868.0h1v1h-1zM118.3 877.6h1v1h-1zM123.2 875.1h1v1h-1zM123.3 872.5h1v1h-1zM125.4 837.4h1v1h-1zM93.1 873.0h1v1h-1zM118.5 836.6h1v1h-1zM127.7 881.5h1v1h-1zM84.1 830.0h1v1h-1zM106.1 823.4h1v1h-1zM106.4 890.9h1v1h-1zM126.8 883.4h1v1h-1zM90.4 798.1h1v1h-1zM80.7 882.4h1v1h-1zM125.4 884.5h1v1h-1zM97.5 873.5h1v1h-1zM119.2 878.2h1v1h-1zM99.7 854.4h1v1h-1zM109.2 873.8h1v1h-1zM125.0 875.3h1v1h-1zM109.2 874.2h1v1h-1zM80.2 874.7h1v1h-1zM93.1 882.1h1v1h-1zM114.8 883.9h1v1h-1zM110.2 868.9h1v1h-1zM116.6 877.2h1v1h-1zM95.2 877.8h1v1h-1zM91.3 786.5h1v1h-1zM91.8 874.3h1v1h-1zM128.7 876.3h1v1h-1zM106.3 872.9h1v1h-1zM106.5 881.9h1v1h-1zM124.1 882.8h1v1h-1zM107.2 874.7h1v1h-1zM115.8 882.9h1v1h-1zM113.8 879.7h1v1h-1zM77.7 845.7h1v1h-1zM96.8 852.2h1v1h-1zM122.5 870.8h1v1h-1zM125.7 828.4h1v1h-1zM95.4 870.3h1v1h-1zM96.3 882.9h1v1h-1zM109.2 871.6h1v1h-1zM96.2 876.8h1v1h-1zM112.3 877.1h1v1h-1zM83.1 881.0h1v1h-1zM117.9 875.6h1v1h-1zM124.7 883.9h1v1h-1zM128.5 878.6h1v1h-1zM109.0 788.4h1v1h-1zM83.5 872.2h1v1h-1zM80.2 875.1h1v1h-1zM99.9 872.4h1v1h-1zM115.7 880.1h1v1h-1zM106.1 875.5h1v1h-1zM76.9 873.9h1v1h-1zM143.8 877.1h1v1h-1zM148.8 870.3h1v1h-1zM154.0 883.5h1v1h-1zM179.8 884.9h1v1h-1zM149.2 882.3h1v1h-1zM187.2 881.9h1v1h-1zM161.5 874.1h1v1h-1zM177.1 885.5h1v1h-1zM187.1 874.2h1v1h-1zM150.9 876.6h1v1h-1zM196.3 861.1h1v1h-1zM146.3 882.5h1v1h-1zM198.2 873.2h1v1h-1zM191.7 878.8h1v1h-1zM158.5 874.3h1v1h-1zM158.6 866.1h1v1h-1zM185.3 889.8h1v1h-1zM155.0 866.7h1v1h-1zM178.3 873.4h1v1h-1zM148.8 881.8h1v1h-1zM172.7 873.8h1v1h-1zM192.9 880.7h1v1h-1zM181.5 890.9h1v1h-1zM187.2 877.1h1v1h-1zM150.1 881.4h1v1h-1zM178.4 876.9h1v1h-1zM155.1 872.3h1v1h-1zM160.8 869.5h1v1h-1z"/>
<path fill="#1a1a1a" fill-opacity="1.0" d="M100.8 869.5h1v1h-1zM78.2 851.3h1v1h-1zM86.0 874.2h1v1h-1zM115.7 873.5h1v1h-1zM101.5 882.7h1v1h-1zM76.2 877.3h1v1h-1zM117.7 875.0h1v1h-1zM106.7 875.2h1v1h-1zM125.4 882.4h1v1h-1zM116.1 871.5h1v1h-1zM124.4 876.7h1v1h-1zM107.1 877.5h1v1h-1zM89.1 880.9h1v1h-1zM148.0 872.0h1v1h-1zM148.8 876.1h1v1h-1zM168.4 884.5h1v1h-1zM195.4 871.4h1v1h-1zM147.6 872.9h1v1h-1zM157.4 872.8h1v1h-1zM146.3 872.9h1v1h-1z"/>
<line x1="102.80" y1="881.60" x2="102.80" y2="889.30" stroke="#F8766D" stroke-width="0.9" stroke-opacity="0.6"/>
<rect x="76.70" y="870.10" width="52.20" height="11.50" fill="none" stroke="#F8766D" stroke-width="0.9" stroke-opacity="0.6"/>
<line x1="76.70" y1="877.30" x2="128.90" y2="877.30" stroke="#F8766D" stroke-width="1.5" stroke-opacity="0.6"/>
<line x1="171.45" y1="856.80" x2="171.45" y2="871.30" stroke="#00BFC4" stroke-width="0.9" stroke-opacity="0.6"/>
<line x1="171.45" y1="881.60" x2="171.45" y2="889.80" stroke="#00BFC4" stroke-width="0.9" stroke-opacity="0.6"/>
<rect x="145.30" y="871.30" width="52.30" height="10.30" fill="none" stroke="#00BFC4" stroke-width="0.9" stroke-opacity="0.6"/>
<line x1="145.30" y1="876.80" x2="197.60" y2="876.80" stroke="#00BFC4" stroke-width="1.5" stroke-opacity="0.6"/>
<rect x="102.1" y="760.1" width="1.4" height="1.4" fill="#F8766D" fill-opacity="0.85"/>
<rect x="102.1" y="764.7" width="1.4" height="1.4" fill="#F8766D" fill-opacity="0.85"/>
<rect x="102.1" y="767.7" width="1.4" height="1.4" fill="#F8766D" fill-opacity="0.85"/>
<rect x="102.1" y="769.7" width="1.4" height="1.4" fill="#F8766D" fill-opacity="0.85"/>
<rect x="102.1" y="772.4" width="1.4" height="1.4" fill="#F8766D" fill-opacity="0.85"/>
<rect x="102.1" y="776.4" width="1.4" height="1.4" fill="#F8766D" fill-opacity="0.85"/>
<rect x="102.1" y="780.1" width="1.4" height="1.4" fill="#F8766D" fill-opacity="0.85"/>
<rect x="102.1" y="781.2" width="1.4" height="1.4" fill="#F8766D" fill-opacity="0.85"/>
<rect x="102.1" y="785.7" width="1.4" height="1.4" fill="#F8766D" fill-opacity="0.85"/>
<rect x="102.1" y="787.7" width="1.4" height="1.4" fill="#F8766D" fill-opacity="0.85"/>
<rect x="102.1" y="790.8" width="1.4" height="1.4" fill="#F8766D" fill-opacity="0.85"/>
<rect x="102.1" y="794.3" width="1.4" height="1.4" fill="#F8766D" fill-opacity="0.85"/>
<rect x="102.1" y="796.6" width="1.4" height="1.4" fill="#F8766D" fill-opacity="0.85"/>
<rect x="102.1" y="801.1" width="1.4" height="1.4" fill="#F8766D" fill-opacity="0.85"/>
<rect x="102.1" y="802.6" width="1.4" height="1.4" fill="#F8766D" fill-opacity="0.85"/>
<rect x="102.1" y="806.5" width="1.4" height="1.4" fill="#F8766D" fill-opacity="0.85"/>
<rect x="102.1" y="810.0" width="1.4" height="1.4" fill="#F8766D" fill-opacity="0.85"/>
<rect x="102.1" y="813.4" width="1.4" height="1.4" fill="#F8766D" fill-opacity="0.85"/>
<rect x="102.1" y="815.8" width="1.4" height="1.4" fill="#F8766D" fill-opacity="0.85"/>
<rect x="102.1" y="817.8" width="1.4" height="1.4" fill="#F8766D" fill-opacity="0.85"/>
<rect x="102.1" y="822.5" width="1.4" height="1.4" fill="#F8766D" fill-opacity="0.85"/>
<rect x="102.1" y="825.8" width="1.4" height="1.4" fill="#F8766D" fill-opacity="0.85"/>
<rect x="102.1" y="826.7" width="1.4" height="1.4" fill="#F8766D" fill-opacity="0.85"/>
<rect x="102.1" y="831.9" width="1.4" height="1.4" fill="#F8766D" fill-opacity="0.85"/>
<rect x="102.1" y="834.2" width="1.4" height="1.4" fill="#F8766D" fill-opacity="0.85"/>
<rect x="102.1" y="837.2" width="1.4" height="1.4" fill="#F8766D" fill-opacity="0.85"/>
<rect x="102.1" y="839.7" width="1.4" height="1.4" fill="#F8766D" fill-opacity="0.85"/>
<rect x="102.1" y="842.2" width="1.4" height="1.4" fill="#F8766D" fill-opacity="0.85"/>
<rect x="102.1" y="846.3" width="1.4" height="1.4" fill="#F8766D" fill-opacity="0.85"/>
<rect x="102.1" y="850.0" width="1.4" height="1.4" fill="#F8766D" fill-opacity="0.85"/>
<rect x="102.1" y="851.0" width="1.4" height="1.4" fill="#F8766D" fill-opacity="0.85"/>
<rect x="102.1" y="855.3" width="1.4" height="1.4" fill="#F8766D" fill-opacity="0.85"/>
<rect x="102.1" y="858.5" width="1.4" height="1.4" fill="#F8766D" fill-opacity="0.85"/>
<rect x="102.1" y="862.2" width="1.4" height="1.4" fill="#F8766D" fill-opacity="0.85"/>
<rect x="102.1" y="863.1" width="1.4" height="1.4" fill="#F8766D" fill-opacity="0.85"/>
<rect x="102.1" y="867.0" width="1.4" height="1.4" fill="#F8766D" fill-opacity="0.85"/>
<rect x="170.6" y="851.5" width="2" height="2" fill="#00BFC4"/>
<rect x="62.20" y="750.10" width="150.60" height="146.20" fill="none" stroke="#999" stroke-width="1" />
<line x1="60.00" y1="787.00" x2="62.20" y2="787.00" stroke="#555" stroke-width="0.6" />
<text x="59.00" y="789.90" font-size="10.5" text-anchor="end" fill="#1c1c1c" >1.0</text>
<line x1="60.00" y1="829.10" x2="62.20" y2="829.10" stroke="#555" stroke-width="0.6" />
<text x="59.00" y="832.00" font-size="10.5" text-anchor="end" fill="#1c1c1c" >0.5</text>
<line x1="60.00" y1="871.30" x2="62.20" y2="871.30" stroke="#555" stroke-width="0.6" />
<text x="59.00" y="874.20" font-size="10.5" text-anchor="end" fill="#1c1c1c" >0.0</text>
<line x1="103.20" y1="896.30" x2="103.20" y2="898.50" stroke="#555" stroke-width="0.6" />
<line x1="171.70" y1="896.30" x2="171.70" y2="898.50" stroke="#555" stroke-width="0.6" />
<path d="M103.2,760.5 L103.2,756.4 L171.8,756.4 L171.8,760.5" fill="none" stroke="#777" stroke-width="0.8"/>
<text x="141.80" y="767.20" font-size="11" text-anchor="middle" fill="#111" >ns</text>
<text x="68.3" y="745.5" font-size="10.6" fill="#111">Cluster 5 (CTL)</text>
<text x="87.60" y="909.10" font-size="10.5" text-anchor="start" fill="#1c1c1c" >TTneg</text>
<text x="158.00" y="909.10" font-size="10.5" text-anchor="start" fill="#1c1c1c" >TTpos</text>
<text x="95.00" y="923.60" font-size="10.6" text-anchor="start" fill="#1c1c1c" >sorting phenotype</text>
<rect x="253.40" y="749.80" width="150.40" height="147.50" fill="#fff" stroke="none" stroke-width="1" />
<line x1="253.40" y1="775.50" x2="403.80" y2="775.50" stroke="#f5f5f5" stroke-width="0.5" />
<line x1="253.40" y1="821.80" x2="403.80" y2="821.80" stroke="#f5f5f5" stroke-width="0.5" />
<line x1="253.40" y1="868.40" x2="403.80" y2="868.40" stroke="#f5f5f5" stroke-width="0.5" />
<line x1="253.40" y1="752.40" x2="403.80" y2="752.40" stroke="#ececec" stroke-width="0.7" />
<line x1="253.40" y1="798.70" x2="403.80" y2="798.70" stroke="#ececec" stroke-width="0.7" />
<line x1="253.40" y1="845.00" x2="403.80" y2="845.00" stroke="#ececec" stroke-width="0.7" />
<line x1="253.40" y1="891.80" x2="403.80" y2="891.80" stroke="#ececec" stroke-width="0.7" />
<line x1="294.40" y1="749.80" x2="294.40" y2="897.30" stroke="#ececec" stroke-width="0.7" />
<line x1="362.20" y1="749.80" x2="362.20" y2="897.30" stroke="#ececec" stroke-width="0.7" />
<path fill="#1a1a1a" fill-opacity="0.75" d="M294.5 877.1h1v1h-1zM315.5 859.1h1v1h-1zM285.8 841.7h1v1h-1zM288.1 851.5h1v1h-1zM297.8 851.4h1v1h-1zM310.2 861.5h1v1h-1zM272.0 841.0h1v1h-1zM291.1 873.9h1v1h-1zM272.9 851.0h1v1h-1zM272.5 852.8h1v1h-1zM302.5 859.6h1v1h-1zM312.7 818.1h1v1h-1zM303.7 829.3h1v1h-1zM270.3 866.5h1v1h-1zM275.7 889.9h1v1h-1zM282.2 823.9h1v1h-1zM274.8 862.2h1v1h-1zM278.7 877.1h1v1h-1zM320.6 840.5h1v1h-1zM304.1 839.2h1v1h-1zM292.7 865.7h1v1h-1zM314.6 851.3h1v1h-1zM276.4 863.5h1v1h-1zM290.0 851.0h1v1h-1zM298.7 865.4h1v1h-1zM267.0 863.3h1v1h-1zM282.6 846.4h1v1h-1zM267.9 828.6h1v1h-1zM320.0 856.6h1v1h-1zM272.6 884.5h1v1h-1zM315.3 881.4h1v1h-1zM306.6 851.9h1v1h-1zM302.8 870.5h1v1h-1zM284.7 856.6h1v1h-1zM267.9 844.3h1v1h-1zM290.3 868.7h1v1h-1zM288.3 844.8h1v1h-1zM309.9 829.9h1v1h-1zM277.6 882.9h1v1h-1zM280.3 861.3h1v1h-1zM266.7 841.6h1v1h-1zM298.0 862.5h1v1h-1zM292.9 857.5h1v1h-1zM288.5 813.4h1v1h-1zM316.4 866.8h1v1h-1zM311.9 848.9h1v1h-1zM306.5 831.2h1v1h-1zM291.3 877.7h1v1h-1zM302.7 877.8h1v1h-1zM311.0 823.9h1v1h-1zM307.6 882.6h1v1h-1zM286.3 869.1h1v1h-1zM291.9 876.1h1v1h-1zM269.2 857.5h1v1h-1zM290.6 860.0h1v1h-1zM280.2 855.7h1v1h-1zM307.5 802.1h1v1h-1zM283.1 822.0h1v1h-1zM316.0 860.2h1v1h-1zM292.9 828.9h1v1h-1zM284.5 859.5h1v1h-1zM301.0 855.2h1v1h-1zM281.9 843.8h1v1h-1zM291.3 856.1h1v1h-1zM319.1 866.9h1v1h-1zM303.5 881.8h1v1h-1zM310.0 836.3h1v1h-1zM311.2 856.9h1v1h-1zM297.0 870.6h1v1h-1zM289.9 849.3h1v1h-1zM273.4 863.8h1v1h-1zM314.9 870.7h1v1h-1zM312.4 863.2h1v1h-1zM311.1 851.9h1v1h-1zM269.2 842.4h1v1h-1zM278.1 837.8h1v1h-1zM314.2 867.9h1v1h-1zM311.8 840.3h1v1h-1zM288.5 861.4h1v1h-1zM284.6 843.5h1v1h-1zM278.0 878.9h1v1h-1zM306.6 854.8h1v1h-1zM270.0 859.1h1v1h-1zM299.6 845.6h1v1h-1zM316.3 850.2h1v1h-1zM291.5 847.9h1v1h-1zM295.1 836.1h1v1h-1zM288.6 856.5h1v1h-1zM313.4 814.0h1v1h-1zM298.9 884.3h1v1h-1zM299.3 867.3h1v1h-1zM272.0 846.6h1v1h-1zM280.3 869.9h1v1h-1zM302.1 868.5h1v1h-1zM280.5 829.9h1v1h-1zM313.1 850.0h1v1h-1zM288.4 853.4h1v1h-1zM278.6 871.3h1v1h-1zM267.2 850.0h1v1h-1zM282.6 867.2h1v1h-1zM299.8 839.5h1v1h-1zM307.8 861.4h1v1h-1zM273.6 886.6h1v1h-1zM282.2 889.2h1v1h-1zM268.9 825.1h1v1h-1zM299.4 857.6h1v1h-1zM312.0 857.7h1v1h-1zM315.5 839.9h1v1h-1zM267.5 842.7h1v1h-1zM307.2 855.1h1v1h-1zM272.6 854.7h1v1h-1zM291.4 875.5h1v1h-1zM277.8 872.6h1v1h-1zM301.0 852.5h1v1h-1zM302.2 846.0h1v1h-1zM294.8 861.1h1v1h-1zM270.6 882.9h1v1h-1zM318.1 856.7h1v1h-1zM305.4 835.2h1v1h-1zM335.1 842.5h1v1h-1zM380.7 853.8h1v1h-1zM383.7 881.2h1v1h-1zM342.6 863.5h1v1h-1zM385.0 856.7h1v1h-1zM383.0 849.9h1v1h-1zM358.9 844.2h1v1h-1zM336.6 867.3h1v1h-1zM346.4 843.2h1v1h-1zM362.7 845.4h1v1h-1zM365.3 832.2h1v1h-1zM370.8 851.8h1v1h-1zM383.3 830.8h1v1h-1zM369.7 871.1h1v1h-1zM365.7 882.8h1v1h-1zM388.7 851.3h1v1h-1zM388.5 842.3h1v1h-1zM380.2 873.0h1v1h-1zM378.9 852.7h1v1h-1zM377.9 860.5h1v1h-1zM358.1 866.5h1v1h-1zM367.3 834.8h1v1h-1zM353.9 852.1h1v1h-1zM385.3 847.5h1v1h-1zM340.9 869.8h1v1h-1zM362.9 875.7h1v1h-1zM376.2 848.9h1v1h-1zM368.9 840.3h1v1h-1zM346.7 859.4h1v1h-1zM383.2 857.3h1v1h-1zM377.8 832.1h1v1h-1zM354.1 874.1h1v1h-1zM386.0 873.1h1v1h-1z"/>
<path fill="#1a1a1a" fill-opacity="0.25" d="M297.0 841.9h1v1h-1zM275.4 853.3h1v1h-1zM318.6 802.0h1v1h-1zM268.4 867.4h1v1h-1zM271.3 852.8h1v1h-1zM283.2 886.6h1v1h-1zM304.9 849.5h1v1h-1zM316.6 865.4h1v1h-1zM268.4 856.1h1v1h-1zM272.0 859.4h1v1h-1zM314.4 827.4h1v1h-1zM267.3 886.4h1v1h-1zM282.2 873.7h1v1h-1zM314.2 870.0h1v1h-1zM280.7 830.4h1v1h-1zM282.1 846.1h1v1h-1zM267.6 857.0h1v1h-1zM288.0 846.0h1v1h-1zM271.9 845.8h1v1h-1zM311.8 853.5h1v1h-1zM299.2 871.6h1v1h-1zM276.6 860.9h1v1h-1zM290.7 844.0h1v1h-1zM314.7 865.3h1v1h-1zM269.6 845.7h1v1h-1zM312.8 862.8h1v1h-1zM311.1 845.2h1v1h-1zM281.4 828.2h1v1h-1zM342.5 837.5h1v1h-1zM360.1 859.9h1v1h-1zM386.8 875.6h1v1h-1zM379.1 868.7h1v1h-1zM349.5 850.8h1v1h-1zM340.9 872.1h1v1h-1zM376.9 842.5h1v1h-1zM340.1 864.1h1v1h-1zM335.7 856.3h1v1h-1zM334.9 864.7h1v1h-1zM349.6 826.3h1v1h-1zM344.8 877.5h1v1h-1zM380.7 828.7h1v1h-1zM376.7 836.6h1v1h-1zM361.9 827.5h1v1h-1zM354.5 851.3h1v1h-1z"/>
<path fill="#1a1a1a" fill-opacity="0.5" d="M319.5 861.1h1v1h-1zM300.1 856.2h1v1h-1zM296.4 853.2h1v1h-1zM277.8 855.2h1v1h-1zM304.7 814.6h1v1h-1zM305.3 850.6h1v1h-1zM305.7 870.9h1v1h-1zM318.2 856.1h1v1h-1zM268.1 862.9h1v1h-1zM314.1 828.9h1v1h-1zM268.6 834.8h1v1h-1zM274.0 875.3h1v1h-1zM303.5 860.4h1v1h-1zM292.8 849.2h1v1h-1zM313.2 860.4h1v1h-1zM308.2 874.5h1v1h-1zM266.4 863.1h1v1h-1zM319.6 849.7h1v1h-1zM289.9 850.9h1v1h-1zM305.1 871.5h1v1h-1zM315.2 868.8h1v1h-1zM281.0 861.8h1v1h-1zM315.4 857.3h1v1h-1zM267.4 857.7h1v1h-1zM308.6 869.4h1v1h-1zM284.3 864.7h1v1h-1zM274.6 861.3h1v1h-1zM270.3 831.4h1v1h-1zM286.3 866.8h1v1h-1zM278.7 876.6h1v1h-1zM285.0 833.9h1v1h-1zM306.4 844.8h1v1h-1zM317.6 808.6h1v1h-1zM311.3 857.2h1v1h-1zM282.3 875.0h1v1h-1zM297.5 829.0h1v1h-1zM271.3 869.6h1v1h-1zM307.3 873.7h1v1h-1zM317.0 836.8h1v1h-1zM270.4 876.1h1v1h-1zM302.2 887.7h1v1h-1zM280.6 868.1h1v1h-1zM288.4 845.8h1v1h-1zM303.8 851.0h1v1h-1zM276.0 860.8h1v1h-1zM300.3 825.6h1v1h-1zM290.1 876.5h1v1h-1zM302.6 863.2h1v1h-1zM290.8 856.8h1v1h-1zM273.9 868.5h1v1h-1zM287.8 847.9h1v1h-1zM291.5 870.9h1v1h-1zM277.1 852.3h1v1h-1zM311.2 850.8h1v1h-1zM307.4 818.0h1v1h-1zM282.5 838.0h1v1h-1zM306.7 870.3h1v1h-1zM315.9 856.3h1v1h-1zM289.6 855.4h1v1h-1zM268.2 869.4h1v1h-1zM282.4 880.0h1v1h-1zM278.3 838.3h1v1h-1zM277.8 862.8h1v1h-1zM311.7 838.6h1v1h-1zM296.0 872.0h1v1h-1zM295.5 865.5h1v1h-1zM286.2 863.8h1v1h-1zM268.0 849.5h1v1h-1zM278.2 861.7h1v1h-1zM274.4 846.5h1v1h-1zM286.5 857.6h1v1h-1zM284.8 840.7h1v1h-1zM276.4 874.5h1v1h-1zM275.1 883.2h1v1h-1zM276.2 855.5h1v1h-1zM312.0 840.0h1v1h-1zM272.8 841.5h1v1h-1zM276.5 848.8h1v1h-1zM280.4 879.3h1v1h-1zM293.5 842.1h1v1h-1zM272.7 854.1h1v1h-1zM279.9 863.8h1v1h-1zM287.3 856.6h1v1h-1zM300.7 855.0h1v1h-1zM306.4 859.5h1v1h-1zM284.9 853.0h1v1h-1zM290.7 855.9h1v1h-1zM285.6 844.9h1v1h-1zM301.3 864.7h1v1h-1zM281.8 868.2h1v1h-1zM269.1 855.5h1v1h-1zM277.2 857.7h1v1h-1zM319.1 842.1h1v1h-1zM301.0 848.5h1v1h-1zM267.4 844.5h1v1h-1zM282.4 874.5h1v1h-1zM274.2 845.6h1v1h-1zM301.4 863.5h1v1h-1zM268.9 872.9h1v1h-1zM281.0 834.0h1v1h-1zM308.9 862.0h1v1h-1zM303.1 853.1h1v1h-1zM317.5 850.8h1v1h-1zM291.1 847.4h1v1h-1zM273.1 857.2h1v1h-1zM287.1 858.6h1v1h-1zM297.2 852.2h1v1h-1zM284.8 838.4h1v1h-1zM296.7 857.4h1v1h-1zM272.6 821.7h1v1h-1zM296.0 873.5h1v1h-1zM267.7 839.8h1v1h-1zM310.1 869.7h1v1h-1zM270.2 860.8h1v1h-1zM303.1 848.4h1v1h-1zM321.1 844.8h1v1h-1zM271.7 847.1h1v1h-1zM317.5 870.3h1v1h-1zM281.8 861.5h1v1h-1zM287.5 854.2h1v1h-1zM307.8 838.4h1v1h-1zM291.4 852.6h1v1h-1zM303.0 852.2h1v1h-1zM273.9 872.2h1v1h-1zM320.8 847.8h1v1h-1zM285.0 830.6h1v1h-1zM313.4 841.9h1v1h-1zM280.4 871.1h1v1h-1zM279.3 814.2h1v1h-1zM284.7 847.1h1v1h-1zM310.7 851.4h1v1h-1zM266.6 854.6h1v1h-1zM287.1 850.9h1v1h-1zM275.9 876.0h1v1h-1zM303.0 839.6h1v1h-1zM304.0 867.3h1v1h-1zM306.9 858.9h1v1h-1zM306.0 855.0h1v1h-1zM370.2 846.6h1v1h-1zM340.3 847.3h1v1h-1zM389.5 860.6h1v1h-1zM388.2 860.8h1v1h-1zM348.8 858.4h1v1h-1zM350.0 860.1h1v1h-1zM358.7 865.3h1v1h-1zM343.6 861.1h1v1h-1zM364.1 822.2h1v1h-1zM387.4 873.1h1v1h-1zM371.3 853.7h1v1h-1zM350.5 842.7h1v1h-1zM382.2 872.3h1v1h-1zM351.1 839.5h1v1h-1zM382.1 853.5h1v1h-1zM367.3 861.3h1v1h-1zM381.2 846.5h1v1h-1zM339.1 873.2h1v1h-1z"/>
<path fill="#1a1a1a" fill-opacity="1.0" d="M268.2 856.4h1v1h-1zM309.5 876.5h1v1h-1zM276.4 875.5h1v1h-1zM296.8 863.8h1v1h-1zM293.2 842.9h1v1h-1zM313.4 855.5h1v1h-1zM271.0 850.1h1v1h-1zM267.4 832.7h1v1h-1zM309.7 849.5h1v1h-1zM284.1 828.8h1v1h-1zM276.2 828.5h1v1h-1zM302.7 862.3h1v1h-1zM285.1 884.3h1v1h-1zM309.8 819.7h1v1h-1zM291.7 866.4h1v1h-1zM345.0 881.5h1v1h-1zM343.0 828.8h1v1h-1zM349.7 846.8h1v1h-1z"/>
<line x1="294.15" y1="804.70" x2="294.15" y2="843.50" stroke="#F8766D" stroke-width="0.9" stroke-opacity="0.6"/>
<line x1="294.15" y1="870.40" x2="294.15" y2="890.20" stroke="#F8766D" stroke-width="0.9" stroke-opacity="0.6"/>
<rect x="268.20" y="843.50" width="51.90" height="26.90" fill="none" stroke="#F8766D" stroke-width="0.9" stroke-opacity="0.6"/>
<line x1="268.20" y1="859.60" x2="320.10" y2="859.60" stroke="#F8766D" stroke-width="1.5" stroke-opacity="0.6"/>
<line x1="362.80" y1="814.90" x2="362.80" y2="846.10" stroke="#00BFC4" stroke-width="0.9" stroke-opacity="0.6"/>
<line x1="362.80" y1="869.50" x2="362.80" y2="885.80" stroke="#00BFC4" stroke-width="0.9" stroke-opacity="0.6"/>
<rect x="336.80" y="846.10" width="52.00" height="23.40" fill="none" stroke="#00BFC4" stroke-width="0.9" stroke-opacity="0.6"/>
<line x1="336.80" y1="854.30" x2="388.80" y2="854.30" stroke="#00BFC4" stroke-width="1.5" stroke-opacity="0.6"/>
<rect x="293.4" y="762.5" width="1.4" height="1.4" fill="#F8766D" fill-opacity="0.85"/>
<rect x="293.4" y="780.3" width="1.4" height="1.4" fill="#F8766D" fill-opacity="0.85"/>
<rect x="293.4" y="784.3" width="1.4" height="1.4" fill="#F8766D" fill-opacity="0.85"/>
<rect x="293.4" y="788.3" width="1.4" height="1.4" fill="#F8766D" fill-opacity="0.85"/>
<rect x="293.4" y="792.8" width="1.4" height="1.4" fill="#F8766D" fill-opacity="0.85"/>
<rect x="293.4" y="796.3" width="1.4" height="1.4" fill="#F8766D" fill-opacity="0.85"/>
<rect x="361.5" y="805.7" width="2" height="2" fill="#00BFC4"/>
<rect x="361.5" y="810.1" width="2" height="2" fill="#00BFC4"/>
<rect x="253.40" y="749.80" width="150.40" height="147.50" fill="none" stroke="#999" stroke-width="1" />
<line x1="251.20" y1="752.40" x2="253.40" y2="752.40" stroke="#555" stroke-width="0.6" />
<text x="249.60" y="755.30" font-size="10.5" text-anchor="end" fill="#1c1c1c" >0.8</text>
<line x1="251.20" y1="798.70" x2="253.40" y2="798.70" stroke="#555" stroke-width="0.6" />
<text x="249.60" y="801.60" font-size="10.5" text-anchor="end" fill="#1c1c1c" >0.4</text>
<line x1="251.20" y1="845.00" x2="253.40" y2="845.00" stroke="#555" stroke-width="0.6" />
<text x="249.60" y="847.90" font-size="10.5" text-anchor="end" fill="#1c1c1c" >0.0</text>
<line x1="251.20" y1="891.80" x2="253.40" y2="891.80" stroke="#555" stroke-width="0.6" />
<text x="249.60" y="894.70" font-size="10.5" text-anchor="end" fill="#1c1c1c" >-0.4</text>
<line x1="294.40" y1="897.30" x2="294.40" y2="899.50" stroke="#555" stroke-width="0.6" />
<line x1="362.20" y1="897.30" x2="362.20" y2="899.50" stroke="#555" stroke-width="0.6" />
<path d="M294.4,760.3 L294.4,756.8 L362.2,756.8 L362.2,760.3" fill="none" stroke="#777" stroke-width="0.8"/>
<text x="329.10" y="764.60" font-size="11" text-anchor="middle" fill="#111" >ns</text>
<text x="261.8" y="744.2" font-size="10.6" fill="#111">Cluster 6 (T<tspan font-size="7" dy="1.4">REG</tspan><tspan dy="-1.4">)</tspan></text>
<text x="284.10" y="908.20" font-size="10.5" text-anchor="start" fill="#1c1c1c" >TTneg</text>
<text x="354.30" y="908.20" font-size="10.5" text-anchor="start" fill="#1c1c1c" >TTpos</text>
<text x="291.80" y="923.20" font-size="10.6" text-anchor="start" fill="#1c1c1c" >sorting phenotype</text>
<text x="0" y="0" font-size="10.6" text-anchor="middle" fill="#111" transform="translate(35.0,601.0) rotate(-90)">Gene set score</text>
<text x="0" y="0" font-size="10.6" text-anchor="middle" fill="#111" transform="translate(35.0,824.0) rotate(-90)">Gene set score</text>
<text x="432.60" y="790.10" font-size="10.4" text-anchor="start" fill="#1c1c1c" >Sorting</text>
<text x="432.60" y="801.70" font-size="10.4" text-anchor="start" fill="#1c1c1c" >phenotype:</text>
<line x1="441.30" y1="810.60" x2="441.30" y2="820.60" stroke="#F8766D" stroke-width="0.8" stroke-opacity="0.65"/>
<rect x="436.20" y="812.30" width="10.20" height="6.60" fill="#fff" stroke="#F8766D" stroke-width="0.8" stroke-opacity="0.65"/>
<line x1="436.20" y1="815.60" x2="446.40" y2="815.60" stroke="#F8766D" stroke-width="1.0" stroke-opacity="0.65"/>
<text x="452.30" y="816.90" font-size="10.6" text-anchor="start" fill="#1c1c1c" >TTneg</text>
<line x1="441.30" y1="823.50" x2="441.30" y2="833.50" stroke="#00BFC4" stroke-width="0.8" stroke-opacity="0.65"/>
<rect x="436.20" y="825.20" width="10.20" height="6.60" fill="#fff" stroke="#00BFC4" stroke-width="0.8" stroke-opacity="0.65"/>
<line x1="436.20" y1="828.50" x2="446.40" y2="828.50" stroke="#00BFC4" stroke-width="1.0" stroke-opacity="0.65"/>
<text x="452.30" y="831.70" font-size="10.6" text-anchor="start" fill="#1c1c1c" >TTpos</text>
</svg></body></html>
